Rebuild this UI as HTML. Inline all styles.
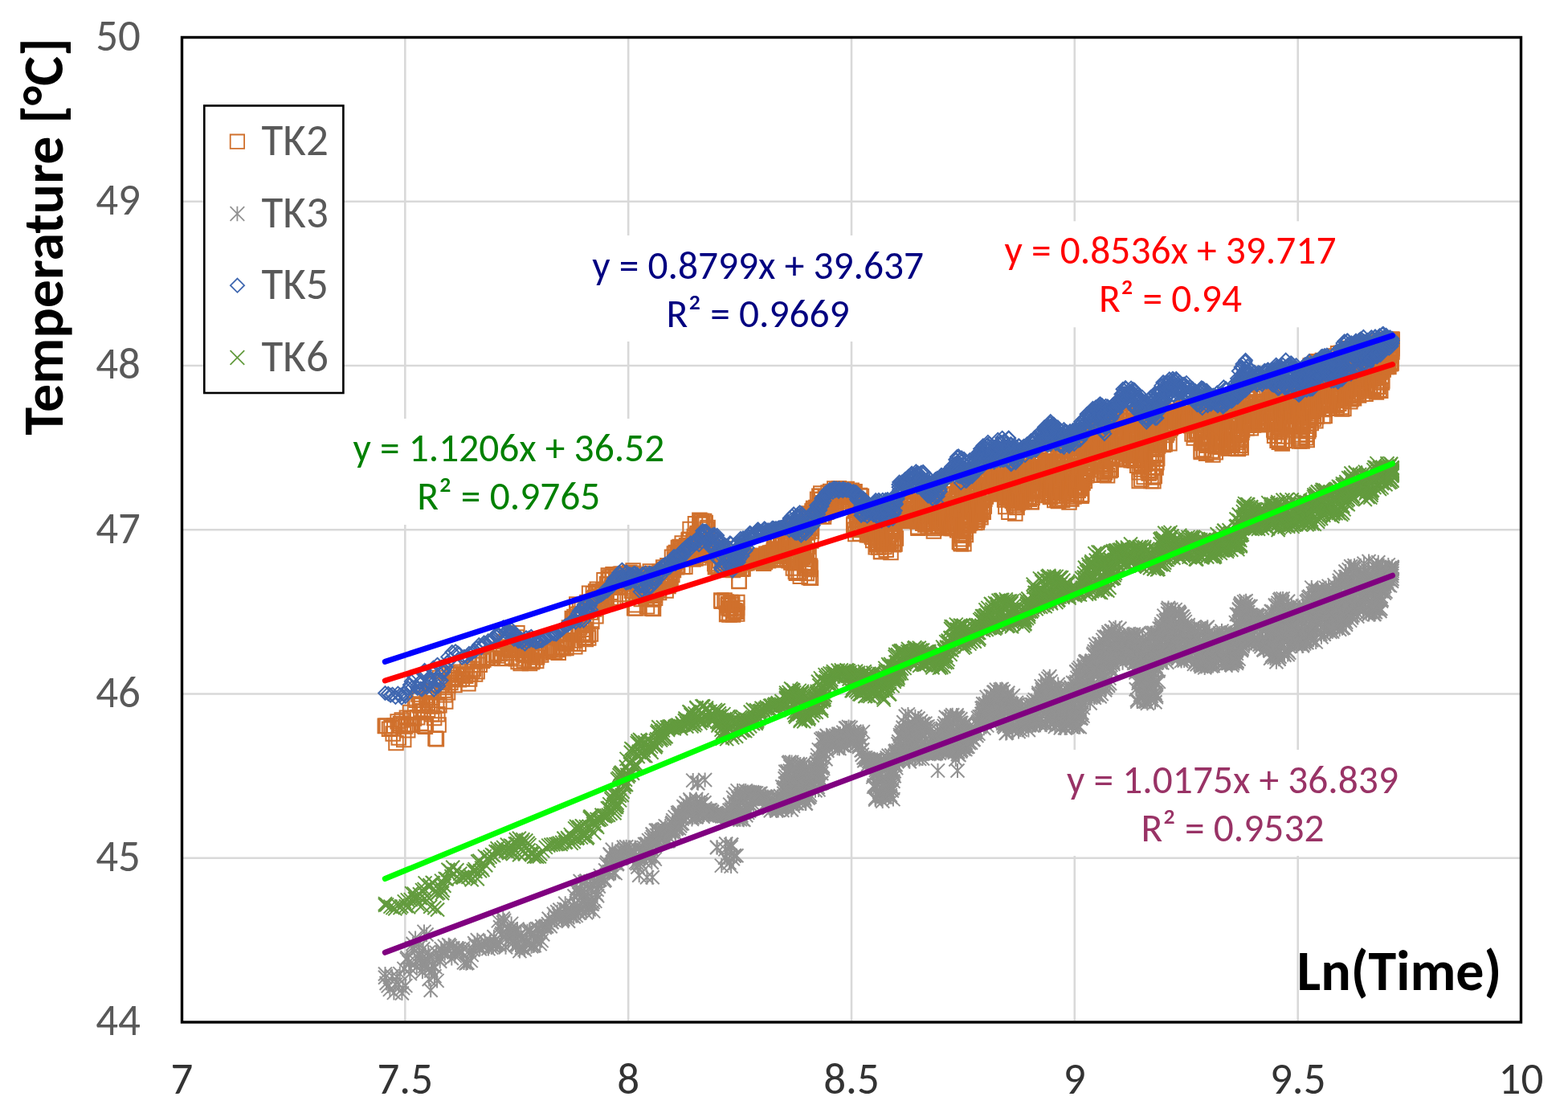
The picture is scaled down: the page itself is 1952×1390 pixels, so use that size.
<!DOCTYPE html><html><head><meta charset="utf-8"><title>Temperature vs Ln(Time)</title><style>html,body{margin:0;padding:0;background:#fff;}svg{display:block;}text{font-family:Carlito, 'Liberation Sans', sans-serif;}</style></head><body><svg width="1952" height="1390" viewBox="0 0 1952 1390"><rect width="1952" height="1390" fill="#fff"/><path d="M228 1067.8H1892M228 863.5H1892M228 659.2H1892M228 455H1892M228 250.8H1892M504.3 48V1270M782.2 48V1270M1060 48V1270M1337.8 48V1270M1615.7 48V1270" stroke="#d9d9d9" stroke-width="2.6" fill="none"/><defs><marker id="ms" markerUnits="userSpaceOnUse" markerWidth="24" markerHeight="24" refX="12" refY="12" orient="0" overflow="visible"><path d="M3.25 3.25h17.5v17.5h-17.5z" stroke="#D0702C" stroke-width="2" fill="none"/></marker><marker id="mt" markerUnits="userSpaceOnUse" markerWidth="24" markerHeight="24" refX="12" refY="12" orient="0" overflow="visible"><path d="M3.5 3.5l17 17M20.5 3.5l-17 17M12 3v18" stroke="#929292" stroke-width="2" fill="none"/></marker><marker id="md" markerUnits="userSpaceOnUse" markerWidth="24" markerHeight="24" refX="12" refY="12" orient="0" overflow="visible"><path d="M12 3.7l8.3 8.3l-8.3 8.3l-8.3-8.3z" stroke="#3F67B0" stroke-width="2" fill="none"/></marker><marker id="mx" markerUnits="userSpaceOnUse" markerWidth="24" markerHeight="24" refX="12" refY="12" orient="0" overflow="visible"><path d="M3.5 3.5l17 17M20.5 3.5l-17 17" stroke="#639B3E" stroke-width="2" fill="none"/></marker></defs><polyline fill="none" stroke="none" marker-start="url(#ms)" marker-mid="url(#ms)" marker-end="url(#ms)" points="917.7,764 898.2,748.2 915,760.1 911.5,752.3 910.1,757.8 909.6,749.5 906.3,753.8 912.6,764.9 917.5,756.6 906.6,751.5 897.8,747.1 907,752.5 905.2,763 908.4,756.9 902.1,747 904,749.1 908,765 911.6,749.9 916.3,761.3 912.9,763.3 913.5,761.1 904.6,764.6 917.8,749.6 913.3,759.8 907,756.4 920,723.4 920,723.1 871.4,652 873.6,648.4 872.3,652.3 872.9,648.6 870.9,647.3 479.5,903.4 479.5,903.3 481.4,903.3 484.5,907.2 487,905.8 489.2,912.9 490.8,903.3 493,924.6 495.1,898.1 496.3,918 498.4,900.8 500.2,895.9 502.2,901.6 502.7,920.5 504.6,904.1 506.4,893.2 507.7,908.7 508.9,901.6 510.5,886.5 511.7,893.7 513.6,902.2 515.5,893.9 516.5,876 518.3,871.3 519.7,892.8 520.9,864 522.5,868.4 522.5,877.9 524.1,899.9 524.6,877.5 526.5,884.6 528.3,903.3 529.4,904.2 530.4,900.8 531,869 532.2,874.7 532.6,883.2 534.4,861 535.1,878.5 536,860.8 537.5,868.2 538.1,879 537.5,888.8 538.6,852.4 539.5,859.3 540.6,893.4 542,918.9 543.4,919.7 543.7,878 544.8,888.8 546.1,902 546.2,861.7 546.9,877.8 547.5,843.6 548.9,847.1 550.2,852.5 550.6,848.7 551.7,849.4 553,859.1 553.8,864.7 554.7,872.9 557.5,861.8 557.9,853 560.1,838.3 560.9,849.5 562.7,838.6 565.3,843.2 566,852.5 568.1,839.5 570.5,839.9 571.5,845.7 573.6,836.3 575.3,844.7 576.5,838.6 578.9,838.8 579.7,841.3 581.6,832 582.9,850.7 584.6,845 585.7,839.1 587.9,835.2 589.3,832.6 590.6,823.1 591.6,839.1 594.1,835.8 595.2,820 597.2,827.3 600.2,822.4 601.9,820.9 605.3,818.6 607,818.8 610.5,819.3 613.4,819.1 614.8,815 618,812.9 619.9,815.9 622.4,813.5 623.3,805.1 624.9,819.4 626.6,806.9 627.6,798.6 629.4,819.2 631.1,796.2 631.8,798.8 633.2,812.5 633.9,807.9 635.6,809.2 637.4,817.7 637.6,809 639.2,798.5 640.4,806.6 641.2,804.1 642.5,819.7 643.1,792.9 643.9,787.8 645.1,823.5 645.7,807.7 647,803 648.2,825.5 649.2,805.7 650.5,800.3 651.2,814.1 652.3,822 652.7,813.2 653.9,815.2 655.5,814.3 656.5,809.3 658.2,823.4 659.2,821.4 659.5,825.4 661.2,815.9 662.4,823.8 663.6,822.4 665.3,808.4 666.2,817.8 667.7,822.6 668.6,817.8 670.9,810.7 672.1,812.7 673.7,815 675.6,807 678,810.3 680.2,809.9 683,809.4 684.8,807.5 687,806.1 688.6,810.8 690.7,811.1 693.3,808.4 695.2,812.2 697.4,804.9 698.7,806.1 700,805.3 701.5,806.7 703.5,800.4 704,798.5 704.9,806.5 705.8,800.7 707,796.5 708.4,781 709.3,785.5 710.1,801 711.2,784.3 712.3,769.5 712.1,782.2 713,801 714.3,789.5 713.8,770.3 715,767.6 715.8,804.7 715.6,797.1 716.9,770.1 717.8,752.1 718,757.3 718.9,764.4 720.4,801.2 719.9,784.6 721.4,764 721.6,758.3 721.7,780.8 722.9,764.1 724.3,757.5 724.3,778.1 724.9,787.8 725.8,790.6 726.4,771 727.2,794.1 728.2,783.2 728.4,793.3 729.3,795.5 729.8,775.4 730.2,761 730.9,749.4 732.5,759 732,790.3 732.7,794.1 733.6,738.2 733.9,758 735.4,789.1 735.3,762 736,749.2 737.3,758 736.8,773.5 737.7,752.7 738.4,738.7 738.6,744.8 739.8,758.1 739.8,753 740.7,743.8 741.1,749.4 741.9,766.8 741.6,735.9 743.4,745.4 743.3,733.2 744,754 744.8,747.4 745.1,736.9 746.5,736.2 747,742.2 747.8,748.2 749.1,740.3 750,751.9 751.5,747.1 751,733.9 752,721.7 752.6,751.4 753.6,749.2 755.2,748.1 755.6,726.8 757.3,716 757.6,727.4 757.7,720.3 759.2,717.9 760.5,737.2 760.5,745.8 761.7,730.5 762.1,718.1 763,714.8 763.7,745.9 765.3,731 766.2,743.9 766.6,729.2 766.6,715 767.6,718 768.6,717.5 769.9,730.2 770.4,739.4 771.2,725.2 772.4,714.2 772.6,730.9 774.1,714.3 774.9,715.7 775.9,717.6 776.9,723.1 778.3,718.9 779,714 780.3,726.4 780.7,721.3 782.2,720.5 782.5,718.6 783.7,712.3 785.1,724.1 786.1,730.4 786.2,722.5 786.5,735.3 788.3,741.9 788.1,710 788.7,713.3 789.1,733.1 789.7,756.8 791.5,756.9 791,724 791.7,752.7 792.2,723.2 793.4,738.9 792.9,730.7 794.2,732.9 795.2,715 795.2,723.1 796.4,720 795.8,737.3 796.9,736.7 798.4,719.5 798.3,745.6 799.3,732.6 799,727.2 800,722.4 800.7,734.2 800.7,733.8 802.1,725.5 801.7,741 803.4,720.9 804.1,743.8 804.4,745 804.8,720.3 805.3,725.1 805.5,754.8 805.7,725.9 806.8,723 808.2,727.5 807.9,731.5 809.3,710.9 809.1,716.7 809.7,741.2 810.9,713.5 811.1,756.9 812.1,735.5 812.3,757 812.7,725.5 813.5,757.5 813.7,746.1 815.4,740.4 815.2,737 815.7,721.1 815.6,744.2 816.6,736.2 817.9,723.1 818.5,721.8 819,721.3 818.7,716.7 820,733.9 820.6,737.4 821.2,711.5 822.2,721.4 823,711.9 824,723.5 824.3,725.3 825.2,729.5 825.7,705.9 827,708.2 826.6,714.7 828,723.9 829.1,734.9 828.6,721.2 829.6,723.8 830.9,703.8 830.8,721.7 832,729.5 832.9,707.7 833.4,716.4 833.6,720.4 833.9,725.6 835.1,719.2 836.4,707.9 836.5,693.2 836.8,715.5 837.5,708.3 838.5,709.5 839.4,688.9 840,702 839.9,696.6 841.3,687.5 841.5,699 842.5,705.7 843.2,689.8 844.4,681.5 843.7,703.8 845.4,691.7 846.4,681.9 846.1,680.6 846.7,683.5 847.5,689.4 848,685.2 849.2,676.1 850,691.7 849.9,705.6 850.6,687.1 852,684 852.5,691.6 853,685.2 852.9,705.2 854.3,691.9 853.7,689.9 854.6,678.8 855.5,691.4 856.5,688.8 857.1,671.9 856.9,680.5 857.9,671.3 857.7,691.2 859.5,693.1 859.1,658.5 859.8,692.9 860.5,679.3 861.1,684.2 860.7,685.5 861.9,691.2 862,681.5 863.1,673.8 863,696.1 864.3,667.5 864,692.7 865.2,679.5 865.5,651.7 866.1,677.7 866,695 867.5,665.7 867.1,684.6 868.2,664.2 868.3,663.5 868.6,678.8 869.1,666.3 870,694.1 870.3,666.1 871.4,673.7 870.9,677.3 872.3,688.7 872.2,678 872.9,648.9 873,652.3 874.4,663.6 874.1,680.3 874.7,684.4 874.8,651 876.1,665.1 877.4,667 876.6,648.6 877.5,669.4 878.2,650.5 878.8,669 879.4,689.7 880.4,675.9 880.1,658.6 881.1,656.6 881.8,685.8 882.1,682.6 883,676.5 883,682.4 883.7,690.4 884.5,683.5 884.7,690.9 885.2,684.1 886.1,684.6 887.4,689.6 888,684.6 887.9,690.4 888.9,685.8 889.7,701.6 890.4,705.8 891.1,704.2 891.6,687.4 893.2,681.3 892.6,703.8 893.7,686.5 894.9,705.5 894.5,706.7 895.8,697.7 897,684.5 897.5,686 898.3,706.7 899,709.1 899.6,685 900,682.8 901.3,696.8 902.3,690.9 901.5,707.3 902.7,695.3 903.6,700.2 904,690.8 904.5,695.2 906.3,692.2 906.7,702.6 907.1,706.4 908.1,707.5 908.7,708.9 909.5,696.3 910.6,706.7 912,709 912.5,709.5 913.1,700 914.5,706 914.7,703.2 915.5,694.7 917.1,705.7 918.4,706.1 918.6,705.8 920.5,704.6 920,697.9 920.6,703.5 922.5,694 923.3,708.3 923.9,707.3 924.7,696.5 925.1,707.9 926,691.9 927.4,700.9 928.3,694.3 928.8,691.7 929.7,697.2 929.9,700.7 931.3,695.2 932.4,699.5 932.8,692.6 934.5,698.3 934.5,698.4 935.9,695.2 937.3,692.9 937.8,696.7 939.4,691.2 940.3,698.9 940.7,698.2 942.1,698.7 943,693.9 944,693 945,695.1 945.6,693 946.8,694.9 948.1,699.1 948.8,696.7 949.8,692.8 950.6,701.2 952.4,699.6 951.7,691.9 952.6,693.5 953.9,689.2 954.9,697 956.3,689.6 956.5,697.8 957.9,689.8 957.7,689.1 958.8,688.1 959.7,691.8 961.3,687.4 960.9,690.6 962.3,695.5 963.5,683 963.3,685.5 964.1,689.7 965.1,684.5 964.6,677.5 966.4,696.9 967,677.4 967.3,687.3 968,690.2 968.7,678.8 969.3,692.2 970.5,683.7 970.5,696 971,695.8 971.7,671.9 972.3,673.9 973,690.7 973.2,675.3 974.3,669 974.1,695.4 975,676.3 976.5,689.5 976.3,695.1 977.4,684 977.3,681.6 977.8,673.2 977.8,664.4 979.1,676.9 979.4,664.2 980.3,668.9 979.8,672.5 981.5,686.8 981,668.3 980.5,675.7 982.5,679.2 982.2,697.8 982.5,674.2 982.9,669.9 982.9,690.4 983.6,692.1 983.8,690.3 984.7,697.9 984.9,700.1 985.5,687.5 985.5,677.1 986.5,692.1 987.3,683.4 987.4,707.1 987.1,689.6 987.6,657.1 987.7,698 988.3,700.8 989.4,657.9 988.5,671.3 988.5,691.1 990.4,711.4 989.6,696.8 990.2,696.4 990.9,670.2 991.4,713.3 991.2,690.1 991.5,672.1 991.7,669.8 991.7,698 993.2,664.4 993.4,652.6 993.5,691.8 994.1,670.6 994.2,711.5 993.7,660.4 995.3,667.5 994.6,684.4 994.7,665 994.8,656 996.3,689 996.2,669.6 996.3,717.2 997.5,650.7 996.8,654.1 997,695.2 998.1,672.5 998.5,692.3 998.5,677.7 999.1,652.6 999,693.5 998.7,691.8 998.6,679.7 1000.1,680.4 999.7,658.4 999.9,693.5 1000.9,658.2 1000.8,666.5 1000.6,688.2 1001,667.8 1001.5,713.2 1001.5,650.5 1001.8,703.4 1003.4,700.8 1002.7,707.1 1002.5,649.2 1002.6,685.1 1004.1,689.7 1004.4,699.9 1004.2,653 1004.4,713.4 1005.3,644.4 1005.2,680.5 1005,659.8 1006.3,703.8 1006.3,661.7 1006.2,643.8 1006.2,639.1 1006.5,644.1 1007.2,718.6 1007,689.9 1007.1,706.5 1008.5,704.3 1007.8,640.3 1008.4,658 1008.3,708.4 1008.7,649.8 1008.9,706.4 1009.4,719.3 1009.8,673.1 1010.4,656.7 1010.1,646.6 1010.4,661.1 1011,639.2 1010.8,641.3 1011,636.1 1011.2,639.3 1012.2,641.9 1012.3,635.1 1012.1,641.8 1011.6,638.8 1013,634.3 1012.6,632.5 1013.2,641.9 1013.5,639.9 1014.4,640.8 1014.7,638.1 1015.4,639.2 1015.8,637.3 1015.9,631.5 1017.2,634.7 1016.6,633.7 1017.6,621.3 1019.3,641.4 1018.8,637.1 1019.7,629.3 1019.8,617.2 1020.9,630.8 1021.4,617.4 1021.8,614.1 1022.7,621.8 1023.3,642.4 1023.7,628.3 1024,628.6 1025.5,642.9 1024.5,625.8 1026,633.4 1026,638.8 1026.6,627.2 1027.3,617.8 1027.7,632.1 1027.6,629.8 1028.6,617.7 1028.8,637.2 1030.1,630.6 1030.1,623.9 1031.5,629.2 1031.1,613 1031.7,628.1 1032.5,631.6 1032.6,633.6 1032.7,627.4 1033.7,611.6 1035.3,622.6 1035.1,628.5 1036.1,619.9 1035.8,622.9 1036.7,615.3 1037.3,617.3 1038.2,624.8 1038,627.4 1038.8,607.9 1040.3,624.4 1040.2,628.3 1040.9,616.5 1041.1,626.5 1041.8,623.4 1042.5,612.2 1042.5,609.7 1044.1,610.4 1044.4,607.7 1045.4,613.2 1046.4,612.8 1045.6,619.5 1046.8,624.1 1048.3,611.1 1048,616.4 1049.3,611.1 1050.1,615.3 1050.1,615.9 1050.9,612.9 1051.9,621.7 1053,608.8 1052.9,617.8 1054.2,608.5 1054.9,613.1 1056.3,611.4 1057.4,617.8 1056.5,614.7 1058,616.1 1059.4,611.9 1060.3,610.2 1060.3,612.6 1059.5,617.9 1061.5,616.4 1061.3,614 1060.7,616.5 1062.3,616.3 1061.9,616.3 1061.8,629.4 1062.5,611.7 1062.7,653.5 1063.1,652 1064.2,659.2 1064.1,611.8 1064.6,633.2 1064.6,627.6 1064.8,664.5 1066.5,647.6 1065.9,633.4 1065.6,635.5 1066.6,640 1067.3,632.8 1067.2,655.4 1068.4,634.3 1067.7,659.6 1069,626 1069.2,658.2 1069.5,631.7 1069.8,624.9 1069.8,623.1 1070.4,645.8 1070.6,616.5 1070.7,664.1 1070.8,655.3 1071.7,623.7 1072.4,617.4 1073,643.1 1072.8,654.1 1073.4,628.6 1073.8,643.1 1074,649.6 1074.3,636.5 1075.4,644 1074.5,642.6 1075,632.8 1076.4,651.3 1076,639.8 1076.6,642.4 1077.1,655.8 1077.2,634.4 1078.3,657.5 1078.2,652.5 1079.4,665.7 1079.1,651.9 1080,662.2 1080.2,661.6 1080.8,658.6 1080.7,658.1 1081.5,657.9 1082.2,665.7 1083,665.2 1082.7,647.7 1084.1,654.5 1083.9,659.8 1085.3,667.8 1084.8,661.2 1086.1,668.3 1086.1,661.6 1086.3,648.1 1087.3,653.7 1086.7,672.5 1088,661.4 1087.6,649.5 1088.8,651.4 1089.2,655.6 1088.9,664.6 1090.2,680.7 1090.1,656 1090.6,669.9 1090.9,676.8 1091.7,675.2 1091.9,657.9 1091.7,677.9 1093,668.8 1093.3,646.8 1094,659.3 1093.7,680.9 1094.7,662.5 1094.9,650.7 1094.8,644.9 1096,671.9 1096.5,686.5 1096.8,686.6 1096.6,650.4 1097,674.1 1098.1,645 1097.9,665.5 1098.9,677.4 1099.2,646.8 1099,674.5 1100.3,672.8 1100.5,676.3 1100.9,680.6 1101.1,669.6 1101.1,676.8 1102.2,662.9 1102.3,661.2 1103.2,684.2 1103,648.1 1103.4,651.1 1103.7,642.8 1103.9,659.7 1104.3,648.8 1104.9,677.2 1104.5,660 1105.6,677.1 1105.8,646.6 1105.6,649.8 1107.2,644.9 1106.5,651 1106.5,675.1 1108.3,665.1 1107.8,640.7 1109.2,650.4 1109,687.6 1108.7,672.7 1109.9,664.8 1109.9,673.2 1110,639.5 1111.3,649.6 1110.9,661.8 1112.1,675.8 1111.6,656.6 1112.1,661.1 1112.7,677.7 1113.5,669.9 1113,644.5 1114,677 1113.8,658.9 1113.9,652.2 1115.1,647.8 1115.4,670.1 1115.8,636 1115.5,645.6 1115.9,636.7 1116.5,645.1 1116.7,647 1116.9,643.1 1117.8,643.3 1117.6,637.9 1118.6,634.7 1119.1,647.9 1119.5,646.3 1120.8,635.1 1120.5,638.1 1121.6,639.8 1123,633.7 1123.4,641 1124.3,634.4 1125.2,642.6 1125.3,632.6 1126.4,637.5 1125.6,647.1 1126.8,646.6 1127.7,627.9 1128,638.7 1129.2,640.6 1128.9,643.4 1130,628.1 1130.1,633.2 1131,627.7 1131.8,629.8 1132.2,623.3 1132.9,633 1133.4,625.2 1134,644.4 1133.9,648.6 1134.8,634.8 1134.8,628.4 1135.6,643.3 1136.2,645.1 1137,624 1137.2,648.3 1138.1,626 1138,645.7 1138.3,638.1 1139.2,617.4 1138.6,616.7 1140,632.7 1139.5,644.4 1140,641.3 1141.5,643.9 1141.2,639 1142,648.9 1142.3,627.1 1142.3,620.1 1143,657.2 1142.7,655.8 1143,648 1143.7,615.4 1143.8,641.6 1145.4,640.1 1145,631.2 1145,647.3 1146.4,629.6 1146.2,629.6 1146.8,615.6 1146.9,642.2 1147,634.5 1148.3,634.8 1148.2,639.7 1149.4,629 1148.9,649.9 1148.8,651.2 1149.8,620.3 1150,639.9 1149.8,626.1 1151.5,637.2 1151.2,633.1 1152.1,626.7 1151.7,653 1152.2,627.6 1152.9,639.9 1152.6,642.5 1154.5,645.9 1154,618.8 1154,640.9 1155.2,655.4 1154.8,618 1155.5,638.7 1156.4,642 1156.4,641.9 1157.2,643.5 1157.5,649.1 1157.5,633 1157.7,622.6 1158,639.7 1159.2,635.3 1159.5,632.4 1158.5,638.3 1160.2,624.6 1160.2,622.4 1160.4,634.4 1161.5,642.5 1161.2,622.8 1162.4,661 1161.6,641.1 1161.7,655.7 1163.4,657.6 1163.3,631.9 1163.1,615.8 1163.6,640.3 1164.2,627.4 1164.5,615.2 1164.8,631.3 1165.4,647 1166.4,649.9 1166.2,650.3 1165.7,650.1 1167.1,644.3 1167,634.9 1168.3,651.5 1167.7,654.4 1168,616.5 1169.3,655 1168.9,633.8 1169.8,622.9 1170,634.1 1170.2,644.4 1170.7,649.3 1171,632.7 1170.7,642 1172.2,649.6 1172.3,630 1173,641.8 1172.9,614.8 1173.2,654.6 1174,655.2 1173.6,640.3 1174.9,642.5 1174.9,646 1174.7,627.2 1175.9,632.9 1175.9,655.8 1177,639.2 1176.6,637.9 1177.3,645.3 1178.5,640.7 1177.9,652.6 1179.5,657 1178.6,644.2 1178.7,626.3 1180.3,652.8 1180.1,628.7 1181,628.2 1180.8,623.7 1181.4,655.3 1181.7,651.5 1182.2,646 1182.8,637.1 1183.3,644.7 1183.4,615.5 1183.8,629.2 1183.9,657.6 1185.5,650.4 1185.2,647.7 1185.3,621.3 1186.1,657.5 1185.7,631.7 1185.9,651.3 1187,616.3 1186.9,641.4 1187,610.8 1188.3,623.2 1187.5,641.6 1188.2,640.7 1187.6,608.9 1189.2,636.1 1188.5,639.1 1188.6,634 1190.2,618.9 1189.9,650.3 1189.8,644 1189.6,649.3 1190.7,632.4 1191.5,656 1190.7,657.4 1190.9,636.7 1191.8,614 1192.5,629.7 1191.7,659.8 1192.6,631.8 1192.6,602.4 1193.5,637.6 1193.2,611.2 1193.9,604.2 1194.3,600.2 1194.4,674.3 1193.7,621.9 1194.7,601.4 1195,640.4 1195.4,637 1194.7,632.8 1195.7,601.9 1195.9,664.2 1195.6,675.2 1196.3,676.8 1197.1,623.2 1197.3,610.8 1197,664.1 1198,658.9 1197.7,666.4 1197.7,625.1 1198.1,670.8 1198.6,620.8 1199.3,618.3 1198.9,613 1199.5,660.6 1199.9,676.8 1200.4,623.9 1199.6,655 1200.1,619.5 1200.5,621.1 1201.4,652.2 1201.2,653.4 1201.8,658.5 1202,661.8 1202.1,645 1202.4,665.5 1203.2,653 1202.9,616.6 1202.8,619.8 1203.4,617.3 1203.7,603.5 1204.2,652.3 1203.9,607.1 1204.3,647.5 1204.9,625.6 1204.9,629.2 1205.2,651.9 1205.8,654.1 1206.1,624.6 1206.3,611.8 1207,651.1 1207.3,648.1 1207,635.5 1207.3,612.1 1208.5,644.3 1208,632.2 1208.4,597.1 1208.8,648.7 1208.5,637.7 1208.8,609.8 1209.5,612 1209.9,634.8 1210.3,631.4 1210.7,626.6 1211.4,608.5 1211.2,607.6 1211.8,627.5 1212.3,627.2 1211.7,629.5 1212.6,639.3 1213.1,614.1 1213.1,615.6 1213,630.1 1214.3,604.8 1214.5,646.6 1213.7,650.6 1214.8,646.4 1214.7,647.4 1215.4,628 1216.2,640.4 1216.1,613.3 1216.3,650 1217,647.1 1216.9,620.4 1217.2,611.9 1217.3,643 1217.7,617 1218.4,624.6 1217.5,643.7 1218.7,621.2 1219.4,640.8 1219.2,591.5 1219.7,597.2 1220.5,603.5 1219.7,635.2 1220.3,635.4 1221,643.8 1221.1,591.8 1221.3,589.9 1222.5,623.1 1222.1,603 1222.4,610.3 1222.1,592.5 1223.2,636 1223.1,634.1 1223.1,619.9 1224.3,598.1 1223.9,631.5 1224.2,637.3 1225.2,622.3 1225.1,599.4 1225.3,629.9 1225.7,604.6 1225.9,621.1 1225.6,593.1 1227.4,618 1226.9,593.8 1226.5,593.2 1228.4,589.7 1228.4,592.9 1228.3,594.6 1229.2,608.6 1229,593.4 1230,593.2 1230.5,599.5 1230.1,595.4 1230.9,612.3 1231.4,610.2 1232.4,615 1231.5,593.9 1232.6,610.3 1232.6,608.9 1233.7,590.5 1233.8,611.9 1234.7,589.7 1235.3,591.9 1236.1,598.6 1236.2,599.2 1236.7,587.3 1237.3,590.4 1237.8,601.6 1238.4,594.6 1238.8,593.7 1239,612.5 1240.1,600.4 1239.8,593.4 1241,608.8 1241.4,609.1 1241.7,613 1241.8,592.6 1243,584.7 1243,613.4 1243.6,614.1 1243.9,589.6 1245,584 1244.8,607 1244.8,606.2 1245.8,606.6 1246.2,600.5 1247,588 1246.6,598.1 1247.8,609.7 1247.6,582.8 1247.8,599.2 1249.2,605.1 1248.8,582.6 1249.2,584.1 1250.3,607.6 1250.4,599.1 1250,608.3 1250.6,622 1251.1,613.8 1250.6,592.9 1251.7,596.5 1251.9,630.5 1252,609.9 1252.9,603.1 1252.6,619.5 1253,590.4 1253.3,579 1254.4,610.9 1254.3,608.4 1253.6,607.2 1254.7,611.3 1254.5,619.9 1255.3,612 1255.8,619 1255.9,637.2 1256.4,604 1257.3,592 1257.4,618.5 1256.5,616.9 1257.9,617.1 1257.6,598.1 1258.4,612.3 1259,618.7 1258.6,584.8 1258.9,598.6 1259,610.8 1259.6,594.1 1260.3,623.3 1260.1,579.1 1261.2,581.6 1260.7,591.8 1261.5,597.9 1261.8,581.7 1261.9,625.7 1261.8,602.3 1262.6,585.3 1262.6,628.5 1263.3,605.2 1263.1,600.2 1264.2,589.4 1263.8,621.5 1263.8,638.9 1265,574.6 1265,630.7 1264.7,603.1 1266.1,631.5 1265.5,621 1265.6,620.3 1267.4,610.9 1266.5,590.1 1267,626.1 1266.9,588.4 1268.2,611.3 1268.5,605.4 1268.3,618.8 1268.7,575.5 1269.3,605.6 1269.4,616.8 1269.6,587.3 1270.4,601.9 1270.3,620 1270.5,586 1270.6,584.8 1270.9,620.5 1271.7,598.3 1271.9,622.4 1272.2,594.3 1272.6,586.6 1272.6,624.4 1272.8,582 1273.5,580.8 1274.1,598.8 1275.1,610.3 1274.7,603.9 1275.1,623.7 1275.9,584 1275.7,609.7 1276.3,588.2 1277.3,621.3 1276.9,577.5 1277.4,585.8 1278.5,593.2 1278,596.1 1278.6,591.1 1278.6,597.9 1278.6,604.3 1280,620.7 1280.3,604.7 1280.3,593.3 1281.3,604.9 1281.3,618.2 1281.2,619.7 1281.5,621.3 1282,598.8 1282.7,589 1283.1,591.2 1282.5,590.2 1283.7,624.5 1283.6,610.1 1284.3,624.8 1285.2,610.5 1285.1,619.3 1285.3,598.8 1286.5,600.5 1285.9,586.5 1286.1,599.5 1286.8,593.9 1286.9,612.3 1287.6,575.3 1288,597.2 1287.5,592.6 1288.6,580.8 1289.3,572.7 1288.7,594.5 1290.3,608.2 1290,595.5 1291.3,596.8 1291.3,592.2 1290.6,614.6 1291.7,598.1 1292.2,594.5 1291.9,574.1 1292.9,574.5 1293,591.9 1293.6,587.8 1293.9,583.6 1294.5,584.8 1294.6,572.3 1294.6,591.2 1295.5,592 1296.4,582.8 1296.2,596.1 1296.7,591.2 1296.5,591.3 1296.6,576 1298,588.2 1297.7,577.7 1298.8,616.4 1299.5,585 1298.5,593.4 1300.4,581.7 1300.5,590.3 1300.8,573.7 1300.8,595.7 1300.8,588.5 1302.2,594 1301.6,574.3 1302.4,578.3 1302.9,603.2 1303.5,595 1303.2,599.7 1304.3,592.7 1303.7,596 1304.1,577.2 1305.1,593.8 1304.9,595.3 1304.9,588.9 1306.5,587.9 1306,570 1305.8,615.5 1307,608.2 1307.4,608.7 1307.4,618.5 1307.7,604.9 1307.5,605.4 1308.4,610.5 1309.4,601.5 1309.3,581.9 1308.8,573.5 1309.6,613.2 1309.6,613 1309.8,617.2 1311.5,569.9 1311.1,606.5 1311,568.9 1312,608.7 1312,576.4 1312,568.5 1312.7,586.6 1313,588.7 1312.8,622.4 1313.6,575.8 1314.2,585.3 1314.4,617 1315,604.1 1314.9,611 1315.5,603.6 1315.9,621.2 1315.5,611.3 1316.5,579.1 1317.1,571.4 1316.9,622.8 1316.6,576.3 1317.7,573.9 1317.7,623.6 1318.1,596 1318.3,605.1 1319.5,585 1319,620.4 1318.8,621.3 1319.9,591.9 1319.9,570.9 1319.9,607.8 1321.3,598.5 1320.6,600 1321.2,602.2 1321.8,566.4 1322,578.6 1322.3,617.2 1321.6,611.1 1323,589.6 1323,617.5 1322.6,622.5 1324.4,589.6 1324.5,613.4 1324.2,596.1 1325.2,598.7 1325.3,576.5 1324.9,578.5 1325.5,607 1326.1,576.4 1326.3,608.4 1326.3,599.1 1326.8,603.7 1326.8,595.5 1327.3,593.9 1328.4,614.6 1328,585.8 1327.8,590.7 1328.6,614.9 1328.7,564.4 1328.6,582.6 1328.8,600.7 1329.8,573.5 1330,593.1 1330,584.6 1331,625.1 1330.9,606.1 1330.9,606.7 1330.9,612.8 1332.5,606.4 1332.2,561.4 1332.2,605.3 1332.7,610.5 1333.3,620.6 1332.9,569.9 1332.7,558.4 1334,620.9 1333.9,591.2 1333.6,607.2 1334.9,574.2 1335.3,599.5 1335.1,600.7 1335.6,600.2 1336.1,594.8 1335.8,584.1 1335.6,584.5 1337,591 1337,593.9 1337,618 1337.7,596 1338.2,604.7 1337.7,571.4 1338.2,594.7 1338.8,606.6 1338.9,571.3 1339,568.3 1340.2,616.1 1340.2,590.3 1339.6,614.7 1340.4,607 1341.2,555.1 1340.8,583 1341.1,564.2 1342.4,582.9 1342.2,610.2 1341.8,562.1 1342.1,557 1342.5,549.9 1343.3,607 1342.9,580.6 1344.1,568.4 1343.8,574.1 1343.8,596.5 1344.1,554.3 1344.6,599.6 1345,607.9 1345.2,587.9 1344.8,589.7 1346,599.5 1345.8,617.3 1346.4,616.9 1346.9,557.4 1346.9,600.6 1347.2,543.7 1346.7,615.3 1348,546.8 1348.1,601.1 1348.4,550.4 1348.2,549.9 1349.1,582.6 1348.5,553.9 1348.9,595.4 1349.5,561.9 1349.8,593.7 1350,586.3 1350.4,598.6 1349.9,567.9 1351.2,586.2 1351.2,577 1351.2,556.8 1351.3,570.3 1351.9,540.8 1352.3,582.9 1352.1,563.6 1351.6,580.3 1353,547 1353.3,537.6 1353.4,589.6 1352.6,591.8 1354.4,547.5 1353.9,564.5 1353.6,564.5 1353.5,557.5 1354.5,550.5 1355.2,553.7 1354.9,543.3 1354.6,544.1 1355.7,541.3 1355.6,539.7 1355.9,536.1 1356.2,543.6 1357.3,553.6 1357.2,560.6 1357.9,558 1357.5,565 1359.2,568 1358.8,535.6 1359.2,536.4 1360.4,542.1 1360.4,531 1360.8,562.8 1360.6,559.3 1360.9,552.2 1361.7,538 1362.4,559.1 1362.6,530.7 1362.6,535.8 1362.8,550.3 1363.8,568.7 1363.6,549 1365.1,561.9 1365,554.7 1364.7,539.4 1366.4,527.5 1366,567.6 1367.4,534.8 1367.5,547.2 1366.6,562.8 1368,570.5 1367.6,564.1 1367.8,527.7 1368.7,561 1369.4,558.9 1369.2,545.1 1368.8,542.9 1369.6,532.7 1369.7,576.8 1370.4,540.7 1371.5,533.7 1371.2,531.4 1371.1,591.2 1371.2,570.5 1372.2,580.7 1372,584.8 1372.2,572.5 1372.7,577.7 1373.5,527.3 1372.9,570.9 1373.3,579.1 1373.8,555.4 1374.2,590.3 1373.6,523.8 1375.4,524.9 1374.6,547.9 1374.5,586.6 1374.5,527.6 1376,549.7 1376.3,582.7 1375.5,588.1 1376.6,547.8 1376.7,533.8 1376.6,578.3 1376.8,546 1378.4,549.1 1377.6,531.2 1377.9,525.7 1379.2,547.3 1379.2,552.4 1378.6,591.7 1379.2,562.7 1379.6,567 1380,571.5 1379.6,568.4 1381.4,578.3 1381.2,534.4 1381.1,569.5 1380.7,585.4 1381.8,524.7 1382,585.5 1382.2,538.8 1382.9,584.4 1383.4,552.3 1383,539.7 1383.2,584.3 1383.8,570.7 1384,562.5 1384.2,559 1384.7,569.5 1384.5,530 1384.6,554.2 1385,570.1 1385.7,523.3 1385.5,534.9 1386.3,537.6 1386,534.1 1386.8,557 1386.5,547.8 1387.4,535 1388,552.4 1387.8,528.3 1388.3,518.2 1388.7,543.3 1388.6,520 1389.4,560.8 1390,568.8 1390.3,556.8 1389.9,556.6 1390.8,535.1 1390.7,515.8 1392.3,558.9 1392.3,538.8 1392.2,549 1392.8,540.6 1392.6,561.5 1393.2,517.8 1394.2,555.1 1393.6,570.7 1394.5,542.8 1394.9,515.3 1395.3,556.3 1394.7,518.9 1395.9,560.2 1395.8,548.8 1396.2,525.3 1397.1,523.1 1397.3,542.1 1397.4,539.6 1397.9,540 1397.9,559.6 1397.8,515.5 1399.1,523.2 1398.7,534.2 1399,527.9 1400.4,532.1 1400.4,530.5 1399.5,563 1400.9,516.1 1401.1,559.9 1400.9,554.1 1402.5,530 1402.1,571.9 1401.8,562.9 1402.6,553.6 1403,557.9 1403,555.5 1403.6,564.9 1404,554.4 1404.3,543.4 1405.4,556.3 1404.8,518.8 1405.2,567.1 1405.8,532.5 1406.2,570.2 1406.1,517.9 1406,542.2 1406.7,551.7 1407.1,538.3 1407.1,520.2 1408.4,534.1 1407.8,566.4 1408.1,572.7 1409.3,558 1409.5,555 1408.6,546.6 1410,545.1 1410.5,572.5 1410.2,563 1410.5,539.9 1411,527 1411.4,514.1 1412.3,573.3 1411.8,513.9 1411.9,518.6 1413.5,544.4 1412.7,556.3 1413,546.4 1412.7,571.9 1414.4,567.1 1414.3,570.3 1413.7,560.1 1413.9,524.7 1415.2,543.6 1414.8,544.4 1414.9,548.1 1415.3,559.6 1415.8,537.2 1415.7,579.2 1416.5,528 1415.9,548.4 1416.6,562.5 1417.2,528.5 1416.8,565.2 1417.4,521.6 1418.2,587.7 1418.2,598.5 1417.8,528.4 1418.5,551.8 1419.2,558.2 1419.1,513.7 1418.6,519.3 1419.4,518.2 1419.9,523.2 1420.1,570.1 1420.3,576.5 1420.3,528.4 1420.9,596.5 1420.9,583.9 1421,539.1 1421.4,516.7 1422.1,578.3 1422.3,516.7 1422.1,538.9 1422.2,515.7 1422,554.4 1422.8,536.1 1423.2,561.7 1422.9,551.3 1423.1,564 1424.2,593.5 1424.5,523.4 1424,561.6 1423.6,534.6 1424.7,546.2 1424.8,518.3 1425.2,577.5 1424.7,525.4 1425.8,575.4 1425.6,573.3 1426.4,534.2 1425.7,563 1427.3,528.4 1426.6,548.4 1426.9,522.2 1427.3,516.7 1428.2,534.5 1427.6,544.7 1427.9,542.3 1428.1,552.3 1428.8,528.4 1429.1,585.8 1429.3,532.8 1429.2,541.5 1429.1,516.7 1430.3,547.9 1430.2,589.1 1429.6,585.1 1430.5,531 1431.2,587.5 1430.5,569.3 1430.8,553.2 1430.7,546.2 1432.4,535.1 1431.9,522.7 1431.9,528.7 1431.9,547.4 1433,565.7 1433.1,512.2 1433,598.6 1433.4,567.9 1434.2,539.8 1433.5,531.6 1434.4,545.5 1434,537 1434.5,559.3 1434.6,582.1 1435.1,520.9 1434.7,515.1 1434.7,536.4 1435.9,545.9 1435.6,594 1435.9,598.7 1435.7,570.2 1437.4,545.6 1437.2,533.9 1437.2,525.7 1437.3,592.6 1437.8,533.3 1438.2,539.5 1438.1,545.9 1438.4,565.6 1439.4,556.9 1439.1,581.9 1439.4,576.8 1438.9,566.7 1440.2,528.2 1439.6,565 1439.8,575.3 1439.5,571.3 1440.5,511.4 1440.7,533.5 1440.6,550.6 1441.4,551.7 1440.7,570.6 1442.5,528.8 1442.5,538.2 1441.5,511.5 1441.7,555.1 1442.7,551.2 1443.2,553.1 1443.1,521.2 1443.3,511.4 1443.8,526 1444.3,529.4 1443.6,515.9 1444.7,528.3 1445,509.9 1445.5,537.7 1445.8,538.1 1446.5,516.5 1445.6,521.6 1447.1,552.1 1447,514.2 1448.2,553.6 1448.2,518.2 1448.1,538 1449.1,523.9 1449.1,529.4 1450.2,515.5 1450.2,552.8 1449.9,521 1450.8,524 1451.1,533.4 1450.7,530.6 1451.7,519 1451.9,541.6 1452.9,519.8 1452.5,517.7 1453.1,538.8 1453.7,523.2 1454.2,513.2 1455.1,533.1 1454.8,535.3 1454.6,531 1455.9,517 1455.9,551.8 1456.3,532.8 1457.3,532.8 1457,515.8 1457.8,516.6 1457.6,520.4 1458,522.3 1458.5,527.3 1459.2,519.7 1459.8,523.2 1459.7,527.9 1460.7,518.4 1460.8,528.7 1461.7,520.5 1461.6,527.3 1463.4,522.6 1463.6,513 1463.6,516 1465.4,508.3 1464.6,515.1 1466,511.5 1467,524.8 1467,515.6 1468.2,522.3 1468.9,525.9 1469.3,523 1470.1,510.6 1470.2,523.5 1471.1,520 1472,522.3 1471.8,517 1473.4,527.2 1473.2,506.4 1474,507.5 1475.4,521.2 1475.2,520 1475.6,518.4 1476.3,510.8 1477.3,509 1477.8,516.5 1477.6,514.6 1479,518.2 1479.4,524.3 1479.7,526.9 1480.1,524.6 1480.6,515.4 1480.8,517.6 1481.4,507.3 1481.8,509.6 1482.3,522 1483,529.7 1482.7,529.6 1484.1,539.9 1483.7,526.1 1484,509 1485.3,514.2 1485.2,516.2 1486.3,545.1 1485.6,516.4 1487.2,516.3 1486.7,522.1 1487.2,541 1488.1,513.3 1488,507.8 1489.1,536.3 1488.7,507 1490.2,538.6 1490.4,506.6 1490.4,536.8 1490.7,507.8 1491.3,507.6 1491.9,520.4 1492.1,511.8 1492,536.1 1491.9,508.6 1493.1,519.1 1493.4,518.2 1492.7,526.5 1493.9,509 1494.1,520.4 1494.4,512.3 1494.6,536.5 1495.2,562.5 1495.2,560.9 1496,551.4 1495.9,535.3 1496.3,507 1497.2,534.8 1497.3,533.8 1496.5,546.8 1497.5,542.1 1498.4,537.6 1497.9,549.7 1498.7,560.2 1498.5,560.3 1498.5,559.4 1499.9,537.8 1499.8,550 1500.5,514 1500,513.6 1501.3,508.3 1500.8,517.9 1501.2,517.2 1502.4,554.2 1501.6,564.3 1502.4,550 1503.2,522.9 1502.7,523.8 1503.5,554.1 1503.7,519.1 1504.2,534.5 1503.8,512.5 1504.8,524.1 1504.8,523.2 1505.1,552.5 1506.1,524.6 1505.7,508.8 1506.5,517 1507.1,526 1506.6,546 1507.1,506.8 1508.2,561.1 1507.9,532.1 1508.5,549.1 1508.4,533.3 1509.3,524.4 1508.7,522.4 1508.8,520.7 1510.4,509.1 1510.3,522.2 1509.9,566 1511.1,544.1 1511.3,508.1 1510.8,510.5 1512.4,546.2 1512.3,539.1 1511.6,534 1513.3,562.8 1513.4,506.8 1513.4,534.7 1514.1,509.7 1514.5,549.3 1514.1,555.7 1513.9,525.5 1514.8,511.9 1515.3,537.8 1515.2,550.4 1515.9,530.1 1516,518 1516.4,545.8 1516.8,516.9 1517.4,518.3 1516.9,516.3 1518,511.7 1517.8,509.1 1518.1,538.3 1518.8,553 1519.5,556.3 1518.8,545.9 1520.2,510.5 1519.9,553.3 1520.1,506.7 1520.6,530.9 1521.4,547.9 1521.5,519 1521.7,546.8 1521.9,554.7 1522.2,519.7 1523.5,503.7 1523.5,554.9 1523.1,509.3 1523.7,504.4 1524,505 1524.3,530.9 1525.4,520.4 1525,531.5 1524.5,507.3 1526.1,512.2 1526.4,546.4 1525.7,532.5 1527.2,510.1 1527.2,503 1526.5,536.1 1527.9,537.5 1527.6,552.6 1527.9,547 1529.4,516.6 1528.7,523.8 1529,558 1529.9,510.2 1530.3,551.9 1530.4,552.4 1530.8,522.8 1530.8,547.2 1531.4,521.6 1532.1,501.7 1531.5,535.2 1531.8,521.8 1532.6,557.7 1533.3,550.8 1532.8,507.1 1533.6,554.3 1534,512.2 1534.4,552.4 1534.7,547.4 1534.7,505.6 1534.7,539.2 1536,521.8 1536.3,510.9 1536.3,542.8 1536.8,500.6 1536.8,518.1 1536.6,500 1537.2,498.8 1538.5,499.7 1537.8,533.2 1538.4,510.8 1538.7,558.3 1539.2,505.6 1539.3,506 1539.9,540.2 1539.8,550.5 1539.5,506.6 1541.2,558.4 1541.1,537.5 1541.2,521.3 1541.9,539.4 1541.6,558.1 1542,518 1542.7,540.9 1543.3,518.1 1542.9,527 1543.7,554.3 1543.5,541.1 1544.3,544.8 1543.6,510.4 1544.5,546.6 1545.2,557 1544.6,548 1545.8,538.2 1546.5,513.4 1546.2,503.7 1546.5,517.1 1546.6,534.9 1547.1,508.7 1547.6,514.8 1548.3,522.9 1548.4,514.4 1549.3,508.6 1549.5,511.3 1549.4,528.1 1550.1,510.7 1549.7,513 1550.4,522.3 1551.2,511.1 1550.8,524.9 1550.6,500 1552,532.8 1551.5,501.7 1553.1,509.9 1553.3,517.4 1554.1,495.5 1553.8,505.3 1554,503.3 1554.5,529.3 1555,510.5 1555.7,496.4 1555.7,526.7 1556.4,526.5 1557.4,532.7 1557,508.3 1557.6,526.2 1557.9,518 1558.7,507 1558.5,507.6 1558.6,510.1 1560.5,517.3 1559.8,496 1560.6,516.7 1560.5,529.1 1560.8,515.6 1561.7,518.8 1562.2,525.5 1563.3,511.3 1563.3,505.9 1563.6,493.5 1563.6,505.9 1565,525.4 1565.3,526.3 1564.7,491.7 1566.1,506.5 1566.1,523.9 1567.2,515.9 1566.5,519.4 1567.6,523.9 1567.8,501.7 1567.9,527.2 1568.8,519.6 1569.5,492.9 1570,491.5 1569.6,499.5 1571.5,520.9 1570.5,525.9 1571,488.8 1572.1,503.2 1572.1,528.7 1572.6,500.9 1573,518.1 1573.7,523.7 1573.9,488.5 1574.5,502.6 1574.6,512.4 1575.3,501.7 1575.8,512.9 1576.2,510.3 1576.2,519.7 1576.7,526.8 1577.3,509 1577.6,500.2 1578.1,511.8 1578.7,519.1 1578.5,525.7 1578.7,525.4 1580.1,493.7 1579.7,498 1580.6,503.3 1581,490.3 1580.8,514.6 1582.3,519.4 1581.6,502.3 1582.8,498.3 1583.5,510.8 1583.1,497.1 1582.9,523.8 1584.2,521.5 1584.1,488.1 1584.5,492.3 1584.7,507 1585.1,518.2 1585,524.1 1584.6,496 1585.8,535.1 1586,499.2 1586.2,506.7 1587.3,494.8 1586.5,537.2 1586.6,542.3 1588.1,514 1587.6,537.6 1587.5,526 1587.8,526.9 1588.6,519 1588.9,486.3 1588.5,498.3 1590.1,485.2 1589.6,493.1 1590.1,548.3 1589.7,516.9 1590.6,497.1 1590.7,528 1591,546.4 1592.2,487.2 1592.5,509 1592.3,550.3 1592,537.5 1593.3,486.6 1593.1,537.6 1593.3,484.1 1594,512.4 1594.4,487.8 1593.8,512.9 1594,499.8 1594.7,532.2 1595.4,505.3 1595.1,509.5 1595.7,550.3 1596.2,552.1 1596.4,516.6 1596.2,525.6 1597.5,485 1597,542.9 1596.9,484.5 1597.9,523.6 1598.5,493.9 1597.7,501.9 1597.7,510.5 1599.4,515.8 1598.8,548.2 1599,493.8 1600.3,491.8 1600.2,484.7 1600.1,534.9 1599.8,506.5 1601.2,526.3 1601.3,507.4 1601.4,512.6 1601.9,487 1602.2,503.8 1602.3,529.2 1601.8,500.8 1603.2,526.6 1603.4,499.7 1602.7,513.5 1604.3,525.1 1603.8,501.7 1604,493.1 1604.6,507.4 1604.8,509.4 1604.8,506.7 1606.4,485.2 1605.8,481 1606.1,524.5 1607.3,531 1606.7,485.4 1607.1,518.1 1608.4,514.3 1607.7,500.6 1608.1,518.6 1609.3,528.2 1609.4,513.3 1609.2,500.5 1610.2,497.6 1610.4,493.5 1610,495.8 1611,513.9 1610.8,502.2 1612.1,514.6 1612.1,516.9 1611.6,501.1 1613,523.9 1613.1,488.1 1612.8,483.7 1612.7,491.2 1614.2,499 1614.4,504.5 1614.3,513 1615.4,496.1 1614.8,524.2 1615.1,500.2 1615.3,488.2 1615.7,513.1 1616.3,501.5 1615.5,513.3 1616.4,514.5 1616.5,498.8 1617.5,496 1617.2,485.7 1617.1,511.5 1617.5,548.9 1617.7,510.1 1617.8,525.1 1617.7,480.2 1619.4,548.1 1618.7,541 1618.6,546 1619.6,483.1 1620.2,513.7 1620,531.4 1620.5,533.9 1620.7,535.9 1621.5,529.2 1621.1,549 1620.9,543.7 1622.3,529.1 1622,493.5 1622.3,494.5 1621.6,484.6 1622.2,470.5 1622.6,523.3 1623,471.6 1622.6,503.4 1623.3,472.3 1624.4,464.1 1624.5,489.7 1623.9,506.4 1623.9,488.1 1625,505.6 1625.1,495.9 1624.7,514.7 1624.5,472.3 1625.8,507.5 1625.6,544.8 1626.2,503.5 1626.1,490.7 1626.5,540.4 1627,540.4 1626.9,478.1 1627.2,547.6 1626.7,510 1627.5,511.2 1627.9,491.5 1628.4,501.8 1627.9,529.9 1629.4,470.3 1628.6,536.8 1629.2,519.6 1629.5,534.5 1629.1,473.1 1630.2,483.7 1630.1,488.9 1630,495.4 1630.2,485.6 1631.2,455.1 1630.6,501.1 1630.8,519.9 1630.9,507.4 1630.8,505.1 1632.2,490.4 1632.3,467.8 1632,472.3 1632.2,526.5 1633.3,490.3 1632.5,468 1632.6,468.9 1633.5,512.3 1634,457.3 1633.7,498 1634.3,506.9 1635.1,521.4 1635,455.8 1634.8,468.5 1635.4,514.8 1636.2,472 1636.3,464 1636.4,478.8 1635.8,482.3 1637.3,505.8 1637.4,451.4 1637.5,480.6 1637.5,507.9 1638,486.2 1638.4,518.5 1637.9,523.8 1638.5,501.2 1638.7,476.4 1639,449.8 1639.1,471.9 1640.4,470.1 1639.5,517.8 1640.3,493.4 1640,481.1 1641,469.2 1641.4,459.4 1641.1,451.6 1641.4,467.5 1641.7,503.1 1641.6,473.6 1641.6,470.7 1641.6,506.9 1642.7,474.8 1643.4,453.8 1643.2,450.7 1644.4,460.2 1644.3,471.9 1644.2,499 1644.9,462.3 1645,489.5 1644.6,452.9 1645.3,451.8 1645.7,461.6 1646.3,448.6 1646.2,454.1 1646.7,478.3 1647.1,483.4 1646.7,497.1 1647,517.8 1647.7,480.7 1648.2,509.6 1647.8,504.5 1648.8,461.6 1649.2,517.4 1649.3,450.3 1648.9,501.6 1650.3,505 1649.5,453.1 1650,464.6 1651.1,493.4 1650.9,447.9 1650.9,484.8 1651,457.4 1652.2,480.5 1652.1,481.7 1651.8,500.8 1651.9,450.7 1652.8,498.7 1652.9,493.2 1652.7,476 1653.9,478.2 1654.2,500.7 1654,447.8 1655.4,505.1 1655.3,472.3 1655.5,502.3 1655.4,472 1656.1,457.6 1655.7,475.2 1655.8,453.7 1656.5,501.8 1656.6,467 1656.6,470.5 1658.2,461.6 1658,446.9 1658.4,508.3 1658.1,459.1 1659,473.4 1658.5,449.4 1658.6,490.9 1660.4,469.3 1659.8,448.9 1660,488.2 1659.8,503.5 1661.5,459.6 1661.4,487.1 1660.9,471.3 1661.8,443.1 1662.1,464.5 1662.2,478.8 1663,484.4 1662.5,449.9 1663.1,487.1 1662.7,477.5 1663.8,507.5 1664.2,498.3 1664.3,496.6 1665.4,452.8 1664.6,472.3 1664.8,460.6 1664.6,504.2 1665.7,483 1665.6,439.8 1666.5,462.6 1667.2,448.2 1666.8,502.2 1666.7,472.9 1667,476.6 1668.1,458.7 1667.5,452.4 1668.4,494.6 1667.6,494.4 1669.2,461.3 1669.1,458.1 1669.4,439.2 1669.6,473.7 1670,477.4 1670.2,471.1 1669.8,506.5 1670.6,466.6 1671,498.5 1670.6,509 1672,438.4 1671.8,472.7 1672.3,462.3 1672.2,452.7 1673,472.1 1672.6,441.7 1672.5,444.9 1672.9,508.4 1674.2,477.3 1674.1,495.9 1674.4,437.8 1675.2,444.1 1675.3,453.1 1675.1,492.5 1675.4,492.7 1676.4,486.5 1676.2,460.5 1675.7,465.9 1675.7,442.5 1677.1,449.9 1677.3,443.5 1676.6,482 1678.4,439 1678.3,469.2 1678.2,492.2 1677.6,437 1679.4,443 1679.2,461 1678.7,439.6 1678.9,464.2 1679.6,470.4 1680.2,433.4 1679.8,484.4 1680.4,480.7 1681,465.3 1680.9,442.4 1680.8,499.8 1682.1,496.7 1682.1,449.2 1682,450.2 1681.5,472.4 1683.3,492.1 1682.6,436.9 1683,460.7 1684.3,435.4 1684.3,494.6 1684.3,452.9 1684.1,458.9 1684.7,444 1684.8,449.4 1685.1,467.5 1685,477.2 1685.5,472.5 1685.6,495.8 1686.1,463.9 1686.6,473.9 1687.5,450.9 1687.2,457.5 1686.6,454.8 1687.8,489.9 1687.8,443.8 1687.9,477.3 1688.9,487.9 1688.8,483.1 1689.5,437.3 1689.1,462.4 1690.3,460.5 1689.5,476.6 1690.2,474.1 1690.6,490.7 1690.7,446 1691,460 1691.8,482.3 1691.9,478.6 1692.4,446.1 1691.6,492.1 1693.2,458.1 1692.8,477.8 1693,436.5 1694.4,484.1 1693.6,451.6 1694.2,480.1 1695.4,453 1694.6,480.2 1695.1,429.6 1695.9,477.9 1696.1,469.7 1696.5,477.4 1696.3,456.8 1697.2,470.1 1697.5,484.5 1697.3,440.8 1697.8,455.5 1698.2,473.8 1698,433.9 1699.5,469.6 1699.5,448.9 1699.2,446.5 1699.4,431.8 1699.7,426.3 1700.4,486.5 1700.1,490.2 1701.4,450.3 1701.1,445.7 1701.3,479.1 1701.9,456.3 1702.1,459.3 1701.9,458.8 1701.9,451.1 1702.7,484.8 1702.9,466.9 1702.9,437.9 1704.4,466.6 1704.3,460.9 1703.7,430.6 1705.4,435 1705.3,456 1704.8,450.2 1705.4,484.1 1705.8,466.2 1705.8,463.1 1705.8,481 1706.5,454.8 1706.9,471.8 1706.6,429.8 1707.9,468.7 1707.6,460 1707.9,471.4 1709.5,431.3 1709.4,458.3 1709.2,438.6 1709.7,480.1 1710.2,483.3 1710.1,480.2 1710.4,465.4 1710.9,462.1 1711,455.8 1710.7,448.3 1712.4,438.9 1712.4,469.6 1711.7,458.8 1713,461.4 1713.4,432.9 1713.5,487.9 1713.4,485.8 1713.8,439.5 1714,451.8 1714.5,469 1715.2,481.3 1715.4,450.6 1714.9,451 1715.7,469 1715.5,430.2 1716.4,465.8 1717.1,484.9 1716.7,438.7 1716.9,445.2 1716.9,463.6 1717.9,424.1 1718.2,462.9 1717.8,461.2 1718.9,423.4 1718.7,486.3 1718.8,428.9 1720.5,476 1719.7,424.3 1719.7,468.1 1720.5,444.1 1720.5,434.1 1721.4,429 1720.7,473.9 1721.9,427.8 1722.2,460 1721.6,458.8 1723.3,450.5 1722.5,438.3 1723.3,455 1723.8,425.3 1724.3,431.7 1724.2,453.9 1725.2,423.6 1724.7,429.4 1725.9,456.4 1725.8,422.3 1726.5,446.4 1726.8,450.8 1726.9,456 1728.3,449.9 1727.7,454.7 1729.2,441.6 1728.9,456.4 1729.1,436.8 1730.2,430 1730.3,440.1 1731,450.6 1731.1,452.8 1732.1,452.1 1731.8,442.8 1732.5,435 1733,425.1 1732.8,422.1 1733,438.1 1733,433.6 1733,428.1 1733,430 1733,426.2 1733,427.7 1733,425.3 1733,423.3 1733,427.9 1733,423.1 1733,423 1733,427 1733,423.5 1733,428.8"/><polyline fill="none" stroke="none" marker-start="url(#mt)" marker-mid="url(#mt)" marker-end="url(#mt)" points="902.5,1067.2 905,1069.2 909.9,1051.2 898.3,1077.1 902.9,1056.9 916.9,1064.8 913.9,1065 910.1,1054 910.1,1078.1 907.9,1073.8 910.8,1051.1 912.4,1068.8 903.7,1050 914.4,1064.8 892.6,1054.5 892.6,1054.5 867.9,974 868.9,974.7 877.6,970.5 862.7,971.1 1167.5,958.9 1192,959 479.5,1212 479.5,1216.2 481.1,1223.5 483.2,1226.9 485.4,1231.4 488.2,1214.7 490.4,1235.4 492.4,1225.1 494.2,1215.7 496.3,1225.1 497.8,1211.6 500.4,1236 501.6,1229.6 502.9,1205.4 504.8,1226.6 506.4,1193.6 507.1,1191.7 509.2,1197.1 510.4,1211.6 511,1205 512.8,1179.7 514.1,1174.5 515.7,1180.3 517.1,1167.4 517.5,1196.4 518.8,1203.5 521.4,1178.8 522,1188.1 523.1,1194.5 524.1,1198 525.4,1192.5 525.9,1209.2 526.7,1180.7 528.5,1197.8 528,1159.4 528.9,1202.2 529.5,1204.9 531.1,1163 532.1,1193.7 533.2,1185.1 534.2,1218.5 534.5,1189.2 536.2,1232.2 536.8,1208 538.1,1201.6 538.9,1201.2 540.9,1214.7 541.8,1203.6 543.3,1185.4 544.1,1220.4 544.8,1193.3 547.3,1191 547.7,1196.3 549.2,1180.6 549.8,1185 551.3,1183.8 553.4,1177.5 553.8,1186.5 557.4,1182.4 558.7,1175.8 560,1177.3 562.3,1192.5 563.7,1179.7 566.3,1189.6 568.3,1181.5 568.6,1180.3 571.3,1180.6 572.8,1184.9 574.9,1185.4 576.4,1180.1 577.5,1197.9 580.4,1198.8 581.9,1198.1 584.4,1182.9 586.2,1195.6 587.2,1188.4 588.8,1182 590.7,1173.8 592.1,1176.8 594.3,1169.8 596.4,1177.7 597.4,1180.8 599.4,1175.7 601.5,1178.1 603.7,1171.3 606.2,1174.6 607.9,1180.6 610.1,1171.7 611.8,1179.1 614,1177.5 614.9,1165.7 617,1176.2 617.7,1174.9 619.4,1174.7 620.3,1145.9 622.1,1175.9 622.5,1153.8 623.8,1163.4 624.9,1161.5 626.3,1143 626.6,1147.9 627.6,1145.4 629.5,1178.7 630.6,1164.2 631.8,1155.9 632.9,1171.4 634.1,1158.3 634.7,1156.8 635.6,1167.7 636.2,1159.3 636.6,1149.4 637.9,1170.2 639.3,1159.9 640.3,1171.6 640.9,1160.6 642,1176 642.9,1175.7 644,1156.1 645,1175.9 645.6,1164.6 646.9,1183.6 648.4,1163.1 649.4,1179.5 649.8,1167 651.6,1179.6 653.2,1181.9 654.3,1174.3 655.2,1171 655.6,1171.7 656.5,1158.7 659.3,1157 659.6,1159.1 661.4,1161.1 661.5,1177.7 663.6,1177.1 665.2,1176.6 666.5,1170.2 668.3,1155.7 669.3,1166.3 670.2,1155.8 672.2,1174.6 672.6,1158.5 674.1,1170.6 674.7,1152.7 675.7,1162.8 678.3,1154.3 678.9,1153.1 679.9,1152.3 680.6,1152.9 682.5,1149.7 683.2,1143.2 685.2,1152.7 686.2,1146.8 687,1147.7 689.4,1137.3 689.6,1145.1 691.4,1140.5 692.9,1141.6 693.7,1134.8 695.7,1138.8 696.8,1132.3 699.2,1145.2 699.8,1140.7 700.9,1144.2 702.1,1131.1 703.7,1124.3 705,1133 705.7,1131.9 706.8,1141.8 707.6,1146.3 710,1135.3 711,1139.8 712.3,1132.9 713,1135 713.4,1126.7 714.2,1140.8 715,1115 715.7,1130.4 717.2,1139.4 717.4,1108.3 717.7,1105.6 718.7,1126.8 720.4,1136.2 719.8,1134.5 720.8,1113.1 722.2,1096.5 722.6,1132.9 723.8,1109.5 724.1,1125.1 724.5,1108.3 725.9,1115.7 726.7,1120.6 727.5,1111 728,1097.5 728.8,1124.6 729.6,1135.7 730.4,1096.2 731.4,1110 732.3,1129.2 732.8,1125.1 733.2,1131.7 733.8,1129.1 735.5,1124.9 735,1096.6 736,1108.6 737.2,1125.2 738.1,1099.8 738.1,1122.8 738.7,1133.9 740.2,1095.8 740.4,1096.7 740.8,1121.4 742.1,1112.5 743.1,1107.1 742.8,1096.4 743.6,1114.8 745.3,1103 746.2,1094.6 746.8,1094.5 747.4,1089.6 749,1091.8 750.3,1092.7 750.8,1092.6 752,1096 752.9,1095.3 753.6,1083 754.6,1075.6 756.3,1087.7 755.7,1073.3 756.9,1086.3 758.3,1084.6 759.1,1063 759.9,1064 761,1076.1 760.7,1065.3 762.3,1057.2 763.3,1085.4 764.4,1067.8 765.1,1073.9 766.1,1086.6 766.2,1063.9 767.4,1069.6 768.1,1075.6 768.5,1074.7 770.2,1065.2 771,1063.2 771.7,1063.4 772.5,1061.4 774.1,1059.2 775.1,1064.5 776.4,1054.2 777.3,1060.3 777.6,1057.1 779.7,1053.7 781,1064.1 782.8,1064.5 784.2,1054.9 785.4,1061.7 786.4,1063.8 788.2,1058.6 788.3,1068.2 789.4,1060.4 790.3,1061.5 790.6,1054.4 790.6,1059.6 791.7,1073.1 793.2,1074.6 793.9,1079 793.8,1071.4 795.3,1068.6 795.7,1089.3 796.2,1067 796.9,1073.7 798.1,1060.5 797.5,1059.9 799.3,1056.9 800,1058.8 799.7,1057.8 800.9,1057.4 801.5,1054.6 801.7,1071.2 802.6,1050.5 803.9,1066.7 804.2,1050.5 804.9,1065.4 805.5,1091.8 805.7,1050.1 807,1052.4 807.1,1061.3 807.6,1045.6 808.2,1056.8 809.3,1065.8 810.4,1056.3 809.7,1054.5 811.3,1073.3 810.8,1044.1 812.2,1091.8 812.1,1037.9 812.5,1041.5 812.7,1038.5 813.6,1066.4 814.4,1044.7 815.5,1052.1 815.3,1069.1 816.4,1033.4 815.8,1050.2 817.4,1033.2 816.8,1050.8 817.6,1039.4 818.8,1046 819.4,1033 820.2,1047.4 821.3,1042.7 822.4,1037.6 822.9,1034 824.3,1040.6 824.8,1032.2 826.2,1043.8 827.2,1037.8 827,1031.6 828.2,1027.9 829,1046.8 830.2,1029.4 830.7,1046.8 832.1,1046.5 833.4,1036.3 833.4,1042.3 833.8,1034 834.6,1033.1 836.5,1025.3 837.1,1023.8 836.6,1035.4 837.7,1020.8 838.7,1032.5 840.1,1016.6 840.7,1037.2 840.7,1027.8 841.9,1031.5 843.1,1030.4 844,1014.2 843.7,1011.5 845.3,1010.7 845.5,1030.9 846.7,1027.8 846.6,1017.1 847.7,1025 849.1,1019.1 849.3,1024.8 849.8,1016.9 850.9,1003.6 852.3,1014.7 852.3,1004.8 853,1010.4 854.2,999.3 854.8,1008.9 854.6,1010.8 856.2,1006.3 857.1,1010.4 857.7,1002.9 858.5,1002.4 858.9,995 859.7,996.7 861.4,1012 861.4,1019.4 862.1,1017.6 863,1002.8 864.4,1016.5 864.4,1004.7 865.3,1002.6 866.5,1016.6 866.8,1016.8 866.7,994.5 868.2,999.9 869,1008.9 869.5,1011.5 870.8,1003.7 870.8,1011.3 872.2,1000.2 872.6,1000.7 873.9,995.6 874.7,1011.4 875.2,1016.3 876.5,1013.9 876.9,998.8 877.8,1006 879,1008.2 879.9,1013.6 880.8,1008.6 882.4,1013.3 882.8,1008.3 884.3,1008 884.6,1011.9 886,1009.9 886.6,1010.5 889.3,1012.5 890.5,1014.1 891.5,1011.5 892.7,1012.4 893.9,1013.7 895.6,1014.8 896.6,1014.7 898.7,1015.8 899.9,1015.5 901.5,1015.7 904.1,1016 905.4,1016.3 905.7,1012.4 907.3,1015.4 907,1015.8 908.1,1008.2 908.7,1001.1 910.1,1016.4 910.4,1007.2 911.2,1017.3 911.3,1009 911.9,1005.3 912.7,992.5 913.2,1019.7 914,998.1 913.9,999.9 915.3,999.7 915.5,988.3 915.8,1002.5 916.9,1015.1 917.3,1018.2 918.1,983.9 918.1,1003.7 919,993.5 919.2,1017.7 919.6,1008.5 920.9,1002.7 921.4,1019.8 922.1,990.6 922.4,990.1 922.9,1015 922.8,993.6 924.4,1019.5 924.8,998.5 924.8,988.5 925.8,1020.3 925.6,992.2 926.7,986.5 927,1010.2 928.3,1005.2 928.3,984 928.8,1014.7 929.6,992.1 930,992.1 931,985.4 930.7,1011.4 931.6,1008.4 932.7,1009.1 933.2,1000.5 933.6,985.7 935.3,988.3 934.7,1002.1 936.4,985.6 937.5,994.3 936.9,986.6 937.9,1000.7 938.8,986.8 939.6,986.6 940.9,995 941.6,986.9 943.4,994.2 944.5,988 944.9,993.8 946,992 946.8,987.3 947.8,992.5 949.3,992.2 950,992.9 950.9,993.8 952.3,991.1 953.1,1000.1 953.3,991.5 954.5,1000.2 954.7,993.8 955.7,991.4 957.5,997.3 958.4,993.3 957.5,1005.5 959.3,1008.8 960.2,1001.1 961.3,993.8 962,999.7 961.6,1002.4 962.8,1000.8 963.9,997.6 964.9,1002.4 966.5,1008.1 966.4,1006.4 966.8,1008.8 967.8,991.2 968,1003.7 968.8,1000.8 968.8,1008.4 970,995.3 971,1005.5 971.5,995.3 971.9,996.8 971.6,990.5 973.3,1001.3 972.6,1004 973.9,1008.5 973.9,979 974,1004.7 974.9,1003.7 975.2,982.7 975.8,987.2 975.9,981.3 977.2,1003.3 977.1,968.7 976.7,979.4 978.1,965.9 977.6,975 977.8,960.3 979,1005 979,995.2 980.3,1000.1 980.4,977.7 980.2,959.7 981.4,972.3 981,1002.7 980.8,961.2 982.3,984.6 981.6,949.5 982.9,948.3 983.3,959.1 982.8,971.7 984,974.2 984.1,988 983.9,953.7 985.5,989.6 984.6,974.5 985.3,1007.8 985.6,948.4 986,973.1 987.4,997 986.8,972.8 987.1,1000.5 987.7,971 987.6,985.7 987.5,1003.1 989,981.5 988.6,961.4 989,998.1 990,964.4 990.5,986.3 991,959.5 990.8,999.7 990.6,978.5 992.1,968.1 992.3,999.9 992.4,990.1 992.7,951.2 992.9,965.5 993.7,996.9 993.7,994.1 994.4,954.5 995.4,970 994.7,958.2 994.5,975.7 995.9,995 996.3,951 996.9,969.2 996.7,961.6 996.8,985.9 997.8,953.9 997.7,971.9 999.1,961.1 999.2,959.4 999.2,980.7 999.7,988 999.9,976.7 1001.1,981.1 1000.9,950.8 1001.3,993.4 1002,978.3 1001.8,995.1 1002.2,959.5 1003.3,999.6 1002.8,1000.1 1004,957.7 1004.2,966 1004.2,978.7 1004.6,975.9 1005.4,973.3 1006,993 1005.9,974.2 1006.1,991 1006.7,954.1 1007.3,977.3 1007.8,991.8 1008.4,975.4 1008.5,989.2 1009.2,963.1 1008.5,978.9 1010.2,964.8 1010,973.2 1010.7,977.7 1011.1,965.8 1010.6,972.2 1011.8,978.1 1011.7,965.8 1012.7,966 1013.1,955.1 1013.6,968.5 1013.7,969.3 1013.7,954.8 1015,983.8 1015.4,969.4 1014.9,953.5 1015.8,958 1016.4,949.9 1016.4,964.7 1016.9,949.1 1017.5,945.3 1017.1,961.4 1017.7,939.9 1018.5,972.9 1018.2,979.5 1018.6,964.8 1019.3,932.9 1019,982.9 1019.8,968.3 1019.7,962 1019.8,951.5 1020.9,975.1 1021.2,950.8 1021.2,945.7 1022.3,934.1 1022,955.8 1021.9,920.2 1022.7,955.4 1022.7,962.5 1023,974.3 1024.3,953.4 1023.9,918.8 1024.1,954.4 1024.4,926.9 1024.7,956.6 1025.2,936.2 1025.2,922.5 1026,937.1 1026.1,921.2 1025.6,935.7 1027.4,920.1 1026.5,918.4 1028.3,927.1 1028,944.8 1029.1,922.8 1029.2,915.4 1029.8,934.2 1029.7,916 1031,923.4 1031.5,917.5 1032.3,924.4 1032.3,925.8 1033.2,922.4 1033.7,924.8 1034.3,922.4 1034.7,923.4 1034.6,921.2 1036.1,925.8 1037.1,920.3 1036.5,914.8 1037.8,918.2 1039.1,919.5 1039.3,926.2 1040.2,928.5 1041,922.3 1040.8,915.3 1042.3,923.1 1042.6,931 1043.1,924.7 1043.9,913.1 1044.5,914 1044.9,931.5 1045.6,919.2 1046,913.2 1047.4,916.1 1046.5,917.6 1047.5,922.6 1048.4,927.6 1048.5,921 1049.8,915.6 1049.8,911.3 1050.6,919.5 1050.6,928.1 1051.5,928.1 1052.7,906 1053.2,917.2 1054.3,916.7 1054.1,906.1 1055.2,916.9 1056.5,904.5 1055.6,921 1057.4,914.8 1057.2,918.3 1057.9,916.3 1059.1,905.5 1058.8,923.6 1059.8,917.1 1059.8,914.2 1061.2,924.6 1061.5,917.6 1061.7,914.2 1062.6,911.8 1063.1,921.9 1063.7,910.5 1063.6,910.4 1065,912.8 1065.4,921.5 1065.8,918 1065.5,926.6 1067.3,916.4 1068.2,914 1067.7,912.7 1068.7,924.2 1069.1,927.8 1069.6,929.5 1070,917.8 1071,919.7 1070.7,918.6 1072.1,933.9 1072.4,926.9 1073.4,933.2 1073.2,939.2 1073.6,932.9 1074.4,910.6 1075.1,943 1075.8,946.7 1077.4,945.5 1077.6,942.8 1079.3,944.6 1079.8,945.7 1080.4,944.3 1080.5,951.3 1081.8,947.2 1083.5,946.9 1082.6,954.6 1083.7,946.8 1084.4,946.9 1085.4,949.1 1084.8,947.2 1086,954.2 1085.9,953.2 1086.8,966.9 1087.4,964.5 1087.3,945.6 1087.8,951.1 1087.7,979.1 1088.4,977.1 1089.1,949 1088.9,946.3 1090.4,958.2 1089.8,995.1 1089.7,993.8 1090.8,979.8 1090.6,992.5 1090.9,962.5 1092.2,976 1091.8,950.6 1092.1,945.2 1093.4,962.5 1092.7,961.6 1092.6,961 1094,965.9 1093.8,959.7 1095,986 1094.9,985.5 1095,950.5 1095.7,989.8 1096,964.6 1096,989.7 1096.9,963.5 1096.9,944.6 1097,969.9 1098,968.4 1098,982.6 1098.7,997 1098.6,990.8 1098.7,986.9 1099.8,948.2 1100,989.3 1100.3,991.4 1101.5,946.9 1100.9,949.8 1101.3,968.4 1102.2,986.8 1102.5,980.3 1102.4,973.3 1102.6,991.9 1102.6,947.1 1103.3,957.9 1104.2,942.9 1103.7,981.9 1103.5,970.3 1105.4,952.7 1105.2,983.2 1105.1,984.5 1106.2,940.2 1105.7,970.8 1106.5,952.1 1107.1,946 1107.3,964.9 1107,978.3 1107.6,981.6 1108.3,989.5 1107.8,951.6 1108.7,991.8 1108.9,960.4 1109,979.4 1109.8,956.4 1110.3,984 1109.8,940 1111.4,980.8 1111.1,960.1 1111.5,961.8 1110.7,940.8 1111.9,972.2 1111.9,994.6 1112.1,963 1113.2,965.7 1113.1,959.8 1113,959.6 1114.3,940.2 1114.3,945.1 1114.3,934.7 1114,951.8 1115.2,937.8 1114.8,935.3 1115.1,951.6 1115.5,934.3 1115.7,955.6 1116,944.9 1116.8,945.6 1117.3,945.9 1116.5,939.4 1118,925.8 1118.3,933.7 1117.8,942.5 1119.1,936 1119.4,936.7 1118.8,922.7 1120.1,929.2 1120,928.6 1120.5,914.6 1120.7,916.7 1121.4,934.7 1121.7,938.3 1122.1,912 1122.3,918.8 1123.5,910.1 1122.8,915.1 1123.4,941.5 1124.1,905.3 1123.9,934.2 1123.6,945.6 1124.3,946.2 1125.2,927.4 1125.5,907.1 1124.8,898.7 1125.7,937.1 1125.6,933.8 1125.9,941.9 1127.3,930.2 1127.3,891.2 1126.8,911 1127.9,929.1 1128.4,933.3 1128.4,930.7 1128.9,919.3 1129.2,937.7 1128.9,910.2 1130.1,902.6 1130.4,888.9 1130.1,917.9 1130.7,922.9 1131,946.2 1131.4,923.9 1132.4,941.4 1131.7,938.1 1132.3,947.8 1133.3,912.3 1132.7,927.7 1132.7,933.8 1134.1,937.7 1133.9,907.1 1134.4,928.1 1134.9,922.1 1134.9,926.9 1135,906 1136.5,940.9 1136.3,905.6 1135.7,932 1137.3,927.3 1136.7,931.2 1137,911.2 1138.1,915.6 1138.1,933 1138.5,896.2 1139.1,943.9 1139.2,923 1139.4,891.7 1140.3,925.5 1140.1,907.8 1140.1,897.2 1141,904.8 1141.4,935.7 1141,932.9 1141.9,919.8 1141.7,938.6 1142.3,933.1 1142.6,936.3 1142.5,922.1 1143,894 1143.9,939.9 1144.1,908.2 1145.3,910.6 1145.4,913.1 1144.6,944.4 1145.6,905 1146.3,897.5 1146,938.1 1147.1,910.3 1147.3,936.2 1147.1,925.4 1147.8,913.5 1148.5,944 1147.5,902.1 1148.7,934.3 1148.7,900.8 1149.3,900.7 1150.5,916.5 1150.4,935.7 1150.7,933.7 1150.9,905.4 1150.5,929.6 1152.1,910.5 1152.3,905.4 1151.9,900.1 1152.9,937.9 1153,904.7 1152.7,927 1153.8,937.6 1153.6,936.8 1154.1,934.8 1154.9,903.9 1154.7,926.6 1155.5,907 1156.3,936.5 1156.4,934.9 1157.1,936 1157.2,924.6 1157.9,908.5 1157.6,915.9 1159,914 1159.5,927.7 1160.2,937 1159.7,936.8 1160.5,918.3 1160.6,934 1161.4,934 1161.9,928 1162.6,917.2 1162.9,932 1163.6,937.1 1163.5,938.3 1164.7,933.7 1165.3,937.6 1166,929.6 1165.8,933.6 1166.6,934.7 1167.1,909.3 1167.4,917.1 1167.6,914.2 1167.5,914.9 1169.2,937.4 1169.1,932.9 1170.3,927.6 1169.9,911.6 1170.7,921 1170.7,927.9 1170.8,922.2 1172,923.2 1171.7,909.4 1173.2,906.5 1173.2,935.4 1173.9,935.1 1174.1,934.4 1174,926.8 1175.2,903.4 1175,919.3 1176,922.1 1176.4,927.9 1176.3,900 1177.2,920.1 1177.4,892.5 1177.7,935.5 1177.9,923.2 1178.1,909.1 1178.9,915.9 1179.5,914.6 1179.3,903.7 1180.2,917.9 1180.2,930.9 1180.6,936.3 1181.1,902.1 1181,894.2 1181.7,931.1 1182.2,932.5 1181.7,894.9 1182.9,914.7 1183.2,904.7 1183.2,919.3 1183.8,930.6 1183.6,920.4 1183.7,891.7 1185,917.3 1185.1,909.6 1185.4,931.4 1185.7,889.8 1186.5,912 1185.6,899.2 1187.2,899.4 1186.9,927.4 1186.9,926.1 1188.4,934.3 1188.1,924.8 1187.8,925.7 1189.1,923 1189,932.3 1189.7,929.7 1190.5,891.5 1189.8,945 1190.6,934.8 1191.1,893.4 1191.1,889.9 1192.3,906 1192.4,938.5 1191.6,911.5 1192.7,930.2 1192.6,893.5 1192.6,935.6 1193.7,906.5 1193.9,918.6 1193.9,939.5 1194.8,914.2 1195.4,902.1 1194.7,932.9 1195.8,935 1196.3,908.5 1195.8,894.7 1197.4,912.3 1196.8,899.5 1196.7,933.2 1197.6,917.7 1198.1,916.1 1199,910.8 1198.7,929.1 1199.4,918 1199.8,932 1199.7,902.1 1200.1,928.7 1201.1,900.7 1201.5,902.5 1201.8,932.6 1202.3,924.5 1202.6,927 1202.9,899.8 1203.3,929.5 1203.5,914.3 1204.4,910.7 1204.8,923.3 1204.9,929.2 1206.4,924.6 1206.2,908.4 1207.2,917.6 1207,917.4 1207.8,910.3 1208.4,913.5 1208.6,924.2 1210,918.1 1209.8,909.1 1210.8,920.1 1211.8,920.5 1211.8,920.3 1212.7,912.9 1213.6,908.5 1214,911.4 1215,906.6 1214.8,908.3 1216.4,901.3 1215.9,915.5 1217.1,901.8 1217.5,898.7 1217.6,893.4 1217.9,913.1 1218.8,897.1 1219.3,891.7 1219.5,904.8 1219.6,901 1219.6,903 1221.4,896.4 1220.8,901.5 1222.2,881.4 1221.7,891.5 1222,888.3 1223.2,884.8 1223.4,888.1 1223.7,875.7 1223.6,880.5 1224.4,887.7 1224.9,906.2 1225.5,898.7 1225.7,881.1 1226,878.4 1226.8,875.7 1226.7,896.4 1227.1,884.7 1228,890.3 1228.2,867.4 1229.3,883.5 1228.8,902.9 1229.3,879.2 1229.5,881.6 1229.9,879.2 1230.6,886 1230.8,893.4 1231,874.6 1232.3,879.6 1231.6,872.7 1232.6,877.6 1233.4,898.8 1233.2,866.1 1233.7,866.7 1233.9,885.2 1233.5,878.9 1234.9,885.1 1235.3,873.6 1236.1,866.9 1236,882.8 1235.6,877.5 1237,861.5 1236.7,890.2 1237.8,861.1 1237.8,875.8 1237.9,868.2 1238.8,862 1239,878.9 1238.6,878.5 1239.8,895.6 1240.4,858.3 1241.2,867.7 1240.6,891 1242.4,887.1 1242.1,895.5 1242.1,882.2 1243.2,890.3 1243.4,865.9 1243.7,876.5 1244.1,868 1244.4,889.8 1245.2,876.1 1245.2,861.1 1245.3,858.1 1246.4,881.9 1245.8,861.5 1246.1,874.3 1247.2,857.4 1247.4,874 1246.9,889.5 1248.1,876.2 1247.8,877.3 1247.5,866.1 1249.3,860.2 1248.6,900.4 1248.9,882.8 1250.1,895.7 1249.8,898.7 1249.5,903.2 1249.8,890.4 1250.8,900.1 1250.9,891.4 1250.8,905 1252.3,868.6 1252.3,912.5 1251.7,868 1253.4,911.7 1252.6,901.2 1253.4,872.6 1253.3,874.5 1254.3,885.7 1254,865.5 1254.2,895.9 1254.8,862.2 1254.6,873 1255.5,897.5 1256.4,898.1 1255.6,880 1256.4,903.1 1257.5,901.7 1257.2,899 1258.4,883.2 1257.5,877.6 1257.5,875.7 1259.1,876.5 1258.7,868.1 1258.9,887.8 1260.1,907.9 1259.6,876.3 1260.6,907.4 1261.1,895 1261.3,865.6 1262.4,881.2 1262.1,884.3 1263.2,880.6 1262.8,878.4 1263.2,887.2 1263.7,883.6 1264.1,884.3 1265.1,904.1 1265.1,902.4 1264.8,905.2 1266.4,891.9 1265.5,874.4 1267.3,905.4 1267.2,891.6 1267,876.5 1268.1,910.5 1267.7,896 1269.4,897.8 1268.9,882.9 1270.2,908 1270.4,889.5 1271.2,904.1 1270.9,902.2 1271.9,883.3 1271.5,901.1 1272.3,878 1272.6,887.3 1272.7,901.4 1273.7,896.4 1274.1,888.4 1275.4,891.4 1275,899.1 1275.9,882.8 1276.5,902.1 1277,893.4 1277.1,886.5 1277.6,894.6 1278.4,879.2 1279.5,888 1279.5,901.7 1279.8,881.7 1280.4,908.5 1280.3,894.7 1281,901 1281.3,902.8 1281.8,902 1282.5,893.1 1282.5,878.7 1283.2,887.1 1284.4,894.2 1284.2,876.7 1285,896.1 1285.4,903 1284.8,888.7 1286.5,873.4 1285.6,876.7 1287.2,881.3 1287.2,899.3 1288.3,870.6 1288.2,897.8 1289.2,899.6 1289.3,890.6 1289.4,888.1 1289.6,878.3 1290.4,880.1 1291,898.9 1291.2,896 1291,885.8 1291.6,872 1291.7,885.1 1293,864 1293.1,865.2 1292.9,862.1 1294,864.2 1294.4,873.9 1294.3,877.5 1294.8,894.8 1294.8,879.2 1295.1,902.2 1296.2,853.9 1296,900 1296.4,870.2 1296.6,862.7 1297.3,857.8 1297.4,862.5 1298.2,884.8 1297.7,874.7 1298.1,860.3 1299,879.8 1299.5,858.8 1298.7,872.4 1300.1,871.2 1300.4,853.8 1300,870.3 1300.7,869.2 1301,864.4 1301.3,901.7 1302.5,854.8 1301.9,899.4 1301.6,847 1301.6,900.1 1303,867.9 1302.6,895.4 1303.5,883.5 1304.4,876.2 1303.8,852.5 1303.8,850.7 1304.9,844.4 1304.5,896.6 1305.3,891.5 1305.9,869.3 1306,890.1 1305.8,873.1 1307,893.7 1306.8,841.7 1306.9,896.3 1307.7,880.5 1307.6,858.4 1308.1,847.9 1309,878.3 1308.9,888.9 1309.3,859 1309.3,888.8 1310.1,878.7 1310.1,888.1 1310.2,858.6 1311.2,886.5 1311,898.2 1310.8,876.4 1312.1,879.8 1311.7,884 1311.6,875.4 1313,885.9 1313.4,904.4 1312.7,899.6 1314,873.9 1313.5,896.7 1313.7,859.3 1313.8,856.5 1314.8,861.5 1315,866 1315.3,901.8 1316.4,868.3 1316.2,890 1316.2,869.8 1316.7,892.3 1317.2,868.3 1317.2,851.5 1318.3,901.1 1318.5,856 1318.2,894.4 1317.6,884.5 1318.7,863.7 1318.5,867.2 1319.3,884.2 1320.3,905.9 1319.7,899.3 1320.4,888.6 1320.8,864.6 1320.9,874.9 1320.8,890.6 1322.1,870.4 1321.7,882.5 1322.2,890.8 1323.1,902.6 1323.3,880.7 1324.2,891.4 1323.8,867.5 1323.9,894 1325.3,874.1 1325,863.1 1325.1,881.1 1326.3,900.8 1325.6,905.8 1326.7,905.8 1327.5,870.2 1326.8,866.5 1328.4,895.8 1328.5,898.2 1327.9,896.7 1328.9,875.3 1328.9,893.1 1328.8,886.4 1330.1,897.2 1330,878.4 1331.1,879.3 1331.2,860.8 1330.7,857.2 1331.9,899.2 1332.1,887.7 1332.4,897.8 1331.8,865.1 1333,863.8 1333.1,855.3 1332.9,891.7 1333.8,857.4 1334.2,860.1 1334.4,884.7 1335.4,879 1335,862.2 1334.6,904.7 1335.7,849.5 1336.4,878.3 1336.1,902.4 1336.2,860.7 1336.8,885 1337.2,856.9 1336.7,875.4 1337.6,894.3 1338.2,850.2 1338.1,880 1337.6,869 1339.3,869.5 1339.2,854.1 1339.5,884.4 1340.1,836.5 1339.9,835.8 1339.9,848.4 1339.7,857.6 1340.6,854.5 1341,843.4 1341.1,903.7 1341.2,904.1 1341.6,882.1 1341.7,902.6 1342,886.6 1343.3,841.5 1342.6,893.1 1343.3,864.4 1342.5,833.3 1344.3,883.2 1343.9,881.9 1344.3,830.9 1344.2,904.7 1345.4,894.3 1344.9,873.9 1344.6,887.5 1345.2,859.1 1345.5,841 1345.9,893.5 1346,889.6 1345.7,846.3 1346.7,846.9 1347.3,852.4 1346.8,873.8 1346.9,887.2 1348.2,880.9 1347.9,852.2 1348,891.1 1349.4,861 1349,829.8 1349.4,863.7 1348.9,835.8 1350,867 1349.8,840.2 1350,854.1 1349.5,827.9 1350.9,864 1350.9,823.7 1350.7,834.2 1352.3,834.6 1352.5,838.1 1351.7,822.6 1352,851.2 1353.3,859.2 1353,823.3 1353.4,834.7 1353.7,829.2 1354.1,857.6 1353.8,834.1 1354.5,853.1 1355.2,824.8 1354.7,862.5 1355.2,825.8 1356.5,859.6 1356.2,835.7 1356.5,843 1357.1,875 1357.3,825.8 1356.6,827.8 1357.6,868.4 1358,842.9 1357.9,844.2 1357.9,858.4 1358.9,866.5 1359.3,866.6 1359.2,822.3 1359.9,864.1 1359.9,846.7 1359.7,863.1 1359.8,832.9 1361.3,813.3 1360.5,835.7 1360.9,814.9 1361.9,857.8 1362.4,868.2 1362.3,810.5 1361.9,835.9 1362.5,857.7 1362.8,857.7 1363.2,822 1362.8,834.8 1363.7,802.3 1363.9,817.7 1363.8,857.4 1365.2,829.9 1364.5,855.1 1364.8,807.7 1365.3,865.2 1365.8,838.5 1366.4,836.7 1365.8,810.7 1365.5,863.3 1367.3,811.5 1367.1,812.3 1367.2,825.5 1368.2,835.9 1367.6,838.4 1368.2,800.8 1367.5,816.9 1369.2,866.7 1368.9,858.2 1369.2,816.1 1368.9,857.2 1370,831.9 1370.2,806.2 1370,832.9 1371.1,844.4 1370.8,828.6 1371,801.9 1371.3,863.6 1372.1,823.2 1371.9,826.2 1371.9,813.1 1372.4,820 1372.7,840.1 1372.5,818.1 1373.1,851.7 1372.8,796.4 1374.5,792.5 1373.9,828.6 1374.5,817.4 1374.7,811.3 1374.9,801.2 1375.4,827.8 1375.2,810.7 1376.2,855.7 1375.7,858.8 1375.8,841.6 1376.4,823.3 1377.4,817.4 1376.9,855.6 1377.1,792.7 1377.6,826.6 1377.8,792.1 1378.3,811.5 1378.4,814.4 1378.7,817.6 1379.3,852.3 1379.1,805.2 1379,805.9 1379.9,786.6 1379.5,853.4 1380.3,803.7 1380.1,789 1381.3,829.4 1381.2,816.2 1380.9,844.1 1381.8,789.8 1381.6,850.5 1381.8,788.8 1382.1,793.5 1382.9,827.5 1382.7,807.4 1383.4,833 1383.4,785.3 1384.5,812.6 1383.7,835.7 1383.6,835.6 1384.5,785.3 1385,812.4 1385.1,823.1 1384.6,818.4 1385.8,826.2 1386.1,813.5 1385.6,824.2 1386.8,789 1386.9,815.5 1386.8,801.1 1388.1,790.2 1387.6,797.7 1388.2,810.4 1388.7,809.5 1389.3,811.6 1388.7,780.7 1390.5,811.9 1389.8,813.4 1391.1,808.3 1390.9,810 1390.9,796.8 1391.8,813.3 1392.4,792.6 1392.6,790.8 1393.3,795.6 1392.5,818.2 1393.9,782.3 1394.2,802.7 1395.3,817.9 1395.3,820.1 1394.9,816.7 1396,809.5 1395.7,808.2 1396.6,819.1 1396.7,805.7 1397.3,817.6 1398.4,799.1 1397.6,824.8 1398.8,819.3 1398.9,799.9 1399,804.7 1400.3,806.6 1399.7,804.1 1400.6,818.8 1400.7,796.5 1401.1,795.5 1402.4,816.3 1401.8,800.2 1403.2,804.4 1403.1,796.9 1403.1,807.9 1404.4,798.4 1404.3,792.6 1404.8,794.4 1405.4,788.8 1404.8,804 1406.2,812.2 1405.6,801.6 1407.2,792.9 1406.6,818.8 1406.5,790.5 1407.7,819.4 1407.8,804.4 1409,821.5 1408.5,795.7 1409.9,812.3 1409.6,804.7 1411.1,791.2 1410.8,791 1411.4,789.2 1410.7,811.3 1410.7,809.9 1411.8,825.2 1412.1,801.8 1411.7,806.5 1412.3,815.1 1413.2,807.8 1413.4,803.6 1413,823.9 1413.3,806.3 1414.3,857.7 1413.8,824.7 1414.3,822.4 1413.9,836.9 1414.6,812.4 1415.5,811.3 1415.3,789.7 1414.8,835 1415.8,873.1 1416.5,815.7 1415.6,871 1416.3,835.4 1416.6,790.3 1417.2,850.2 1417,819 1416.8,822.3 1417.9,843.7 1417.9,819.4 1417.7,848 1418.4,805.8 1418.3,846.8 1418.7,801.5 1419.3,802.7 1418.6,797.5 1419.3,823.1 1419.5,814.4 1420,831.6 1419.6,864.7 1420.2,813.7 1420.8,812.1 1420.5,843.5 1420.8,848.1 1421.3,817.9 1421.8,821.9 1422,793.7 1421.9,817.2 1421.6,863.4 1423.2,832.8 1422.6,854 1422.9,867.6 1423.1,810.7 1424.3,841.9 1423.9,860 1423.8,802.2 1423.5,843.8 1423.8,803.5 1424.5,857.9 1424.8,865.5 1425.4,861.9 1424.7,873 1426.1,864.4 1426.4,817.2 1425.9,868.9 1425.8,797.6 1426.5,838.3 1426.8,873.3 1426.5,824.1 1427.2,842.9 1428.3,846.6 1428.4,875.2 1428.4,842.3 1427.9,835.8 1428.7,810.6 1429,827.1 1428.9,795.3 1429.5,817.5 1429,819 1430.1,857.4 1430.4,841.5 1430.4,820.2 1430,817.7 1431.5,798.5 1430.7,855.8 1430.7,792.8 1430.9,828.6 1432,807.4 1431.8,812.3 1431.7,832 1431.7,803.8 1433.4,866 1432.9,834 1432.6,788.2 1433,871.3 1432.6,827.3 1434.3,787.4 1434.1,810 1434.3,860.3 1434.4,856.5 1434.6,845.5 1435.1,813.5 1434.7,828.9 1434.9,823 1436.5,807.2 1436.4,799.5 1436.2,826.3 1435.9,829.3 1436.6,806.2 1436.9,803.7 1437.3,848.5 1437.1,848.8 1436.7,787.4 1437.6,865.8 1438,873.8 1437.8,821 1438.1,862.5 1438.9,829.2 1438.9,807 1439.4,867.6 1438.9,797.9 1440.4,824.5 1440.2,820.4 1439.6,849 1439.6,865.6 1439.7,813.9 1440.5,800 1441.1,790.1 1440.6,787.6 1440.5,823 1441.7,833.5 1442.2,816.4 1442.4,848.4 1441.8,835 1442.2,794.6 1443.3,782.1 1443.2,821.3 1443.2,811.9 1443.2,799 1443.6,796.8 1443.8,816.8 1444.4,824.1 1443.8,820.6 1445.4,779.1 1445,782.6 1444.6,799.1 1445.2,786.6 1445.8,799.9 1446,782 1445.7,776.6 1446.8,824.9 1446.7,812.6 1447.1,818.1 1448.3,773 1447.8,816.2 1448.1,817.4 1448.5,815.7 1448.9,812.6 1449.1,786.2 1449,766.1 1450.4,817.6 1450.1,803.4 1450.2,790.5 1450.7,803 1451.5,817.1 1451.3,772.1 1451.8,778.4 1452.1,819 1452.1,798.3 1451.9,771.6 1452.8,824.3 1453.4,802.2 1453.2,773.7 1453.5,758.8 1453.5,771 1454.5,796.6 1453.7,763.4 1454.5,756.5 1454.6,779.1 1454.7,771.6 1456.1,764.1 1455.6,809.3 1455.8,799.3 1455.8,804 1456.5,774.4 1457.4,775.9 1457.1,770.2 1457.6,785.3 1458,758.4 1458,785.2 1457.9,808.3 1459.4,784.3 1458.8,809.2 1459.3,791.4 1460.1,780 1460.2,796.1 1460.4,777.2 1460.6,815.6 1461.1,811.2 1461.2,809.2 1460.9,815.5 1462.1,784.8 1461.7,763.9 1461.7,779 1462.8,799.2 1463.5,795.4 1463.2,758.6 1463.2,793.4 1464.3,781.4 1464.1,792 1464.3,786.9 1465.3,815.5 1465,791.5 1465.2,792.7 1466.5,819.7 1466,803.7 1465.6,817.8 1467.1,761.2 1466.5,813.9 1467.3,799.2 1466.9,775.2 1468,817.8 1468.1,762.8 1467.7,765.3 1469.4,813.9 1469.4,787.5 1468.8,764.2 1469.8,782.4 1469.9,782.1 1470.2,814.5 1470.9,811.8 1470.8,778 1471.3,767.1 1470.6,822.6 1472,787.1 1472.3,816.2 1471.9,811.1 1472.6,815.9 1472.9,786 1472.5,767.2 1473.9,770.5 1474.2,822.1 1473.8,807.8 1475.1,800.1 1475.3,792.4 1475.3,773.6 1476.2,795.5 1475.7,778.5 1476.4,801.5 1477,794.5 1477.3,801.8 1476.7,818.6 1478.3,810.2 1478.2,804.3 1477.8,820.8 1479.2,777.8 1479.3,791.7 1478.6,815.8 1479.7,792.1 1479.6,797.3 1480,812.8 1481.5,816.2 1481.2,791.7 1481.4,783 1481.8,801.1 1481.9,801.2 1481.6,784.9 1482.5,795.4 1482.7,814.7 1482.8,783.4 1484.2,784.6 1484.3,801.5 1483.6,810 1485.5,791.4 1485.1,803.3 1486.5,826.4 1485.6,796.2 1486.3,798.1 1487,806.5 1486.5,780.2 1487.4,798 1487.9,807.2 1488.3,823.7 1487.6,810.8 1488.5,807.1 1489.3,803.7 1488.9,822.8 1490.2,826.7 1490,795.4 1490.2,804.7 1490.5,786.3 1491.5,813.4 1490.5,819 1492.3,782 1492.5,788.8 1492,817.6 1493,798.5 1493,813.9 1494.5,827.5 1494.5,823.3 1494,798.8 1495.4,829.5 1494.8,822.1 1494.8,782.5 1496,828.1 1496,823.5 1496.3,822.6 1496.8,828.6 1496.6,806.7 1496.6,800.1 1498.4,823.1 1498.5,809.6 1498,788.4 1499,828 1498.8,825.2 1499.8,822.2 1499.7,830.9 1499.6,783.8 1501.1,820.8 1501.2,801 1501.2,790.3 1501.8,794.8 1501.7,781.8 1501.7,808.2 1503.1,797.2 1503.1,796.9 1503.3,780.2 1504.3,826.8 1504.1,813 1505.5,787.1 1504.6,806.1 1505.2,807.6 1506,802 1506,825.2 1505.6,813.7 1506.6,823.3 1506.8,821 1506.8,812.5 1508,829 1508,806.2 1509,792.8 1509.4,797.5 1508.7,790.7 1510.2,825.9 1510.1,828.6 1509.7,825.1 1511.3,791.3 1510.6,801.8 1510.9,805.1 1512.2,792.2 1511.8,797.3 1512.7,802.8 1513.1,794.5 1512.6,816.9 1513.6,823.1 1514.1,792.4 1513.5,822.4 1514.5,817.9 1515,814.9 1515.7,816.7 1515.8,810 1516.5,810.3 1516.7,793.6 1516.9,821.3 1518.3,800.7 1518.1,799 1518,797.2 1519.4,800 1518.8,811.5 1518.7,787.9 1519.9,820.8 1519.9,795.9 1520.8,810.5 1520.8,807.4 1521,785.1 1521.8,820.2 1521.7,817.1 1522.6,805.4 1522.9,812.6 1522.5,789.2 1523.9,824.2 1524,821.8 1525,827 1524.6,821.9 1524.8,793.8 1526,802.7 1526.5,824.9 1527.2,795.7 1526.7,804 1527.8,795 1527.7,796.9 1527.8,790.5 1528.8,825.6 1529.3,811.8 1530.5,825.1 1529.6,788.3 1529.8,808.3 1531.5,787.5 1531.2,819.1 1531.8,818 1532.4,790.2 1533.2,806 1533.3,792.6 1533.2,786.9 1533.5,804.4 1533.8,804.4 1533.7,828 1534.9,807.3 1534.9,823.4 1534.7,825.6 1535.7,822.7 1535.9,809.4 1535.7,820 1536.7,817 1537.2,823.3 1537.5,817.9 1536.7,818.7 1537.6,817.2 1538.4,774.6 1537.5,817.2 1538.9,806.7 1539.3,825.4 1539,818.3 1539.4,813.3 1539.9,823.6 1539.9,822.5 1539.9,792.2 1539.5,764.5 1541.4,789.1 1541.2,790.5 1541.2,794.2 1540.6,778.6 1542.1,765.3 1542.4,758 1542.1,820.1 1542.2,764.5 1542.6,807.2 1542.9,759.3 1542.6,803.9 1542.5,774.3 1544.4,770.2 1544.4,752 1543.7,753.9 1544.2,795.6 1545.3,809.5 1545.2,756.3 1545,750.6 1545.3,776.5 1546,808 1546.5,788.2 1545.9,806.7 1546.3,761.2 1547,804.2 1547.5,802.1 1547,754.9 1547.4,757.6 1548.1,764.9 1548.3,763.7 1547.9,790.9 1548.2,799.4 1548.6,748.9 1549.2,770.2 1549.4,768.3 1548.5,769 1549.7,787.5 1550.3,791.3 1549.6,773.3 1550.7,798.2 1550.6,778.9 1551.2,752.4 1551.1,747.7 1551.6,758.7 1551.6,767.6 1552.2,795.2 1552.8,770.7 1553.2,761.8 1552.8,764.9 1554.3,765.7 1554.3,754.3 1553.8,761.9 1554.7,756.6 1554.9,790.2 1555.2,799.4 1555.8,765.6 1555.7,774.9 1555.6,790.3 1556.9,754.5 1557,773 1556.7,767 1558.2,800.4 1558.1,766.3 1558.5,770.9 1558.7,775.2 1558.9,768.9 1559.7,798 1560.4,789.3 1560.4,782.6 1561.2,778.5 1561.2,795.1 1562.2,793.6 1562.1,776 1562.3,797.5 1562.7,770.7 1562.5,773.6 1563.7,772.1 1563.7,776.4 1563.7,800.6 1564.6,765 1565.4,778.9 1566.2,776.6 1565.5,765.9 1567.4,766.4 1566.9,774.6 1568.1,779 1568.3,772.8 1568,802.3 1569,801.5 1568.5,798.7 1569.9,804.7 1570.2,774.7 1570.3,771.1 1571,795.5 1570.7,766.6 1572.3,772.3 1572.3,784.7 1571.7,801.8 1572.9,775.8 1573.4,809 1572.8,808.4 1573.6,801.3 1574.1,775.2 1574.9,779.1 1575.2,784.2 1574.9,796.3 1575.8,767.5 1576,807.4 1575.7,777 1577.4,771.6 1577.5,779 1576.7,801.2 1578.4,788.3 1577.8,769.9 1577.5,801.3 1579.2,780.4 1579,805.7 1579.2,801 1580.4,776.6 1580.5,798.8 1579.8,802 1579.8,786.3 1581.3,809.9 1581.1,809.9 1581.4,784.3 1581.6,819.2 1581.6,787.2 1581.6,793.2 1582.3,760.8 1583,783.8 1583.2,817.4 1583.2,760.6 1583.9,787.5 1583.7,815.5 1583.9,780 1583.7,792.6 1585.3,761.4 1585,774.8 1584.6,782.1 1586.1,797.2 1586.5,803.7 1586.4,805.5 1586.2,818.1 1587.4,807.3 1586.8,772.1 1587.4,753 1586.9,813.4 1587.8,787.6 1587.8,798.3 1588.3,754.5 1587.9,814.6 1588.9,823.7 1588.8,787.6 1588.7,815.4 1590,811.9 1590.2,768.2 1590.4,753.1 1590.4,808.7 1590.7,792 1590.8,783.6 1591.4,782.4 1591.1,750.2 1591.6,783.7 1591.9,820.2 1592.1,816.6 1592.1,820 1592.8,746.6 1593.3,797.6 1592.7,762 1593,817.3 1594.2,778.8 1594.1,771.9 1593.9,758.4 1594.2,745.3 1595,749.8 1594.6,805.5 1595.4,784.8 1595.5,801.3 1596,793.1 1595.5,751 1596.2,773.9 1596.5,764.3 1596.8,761 1597.4,788.4 1596.8,749 1597.1,744.9 1598.4,757.1 1598.3,814.3 1597.8,791.8 1598.2,781.3 1598.9,815.2 1598.8,789.9 1598.5,790.2 1599.5,776.4 1600.2,770.7 1599.9,775.9 1600.4,770.7 1599.5,787.7 1601.1,791.4 1601,768.3 1601.2,764.8 1601.8,759.7 1601.6,761.8 1602.2,775.5 1602,763.5 1602.8,795.4 1603.4,757.2 1603.2,814.6 1603,810 1603.7,801.1 1603.6,762.7 1603.6,748.3 1604.3,771.7 1604.9,796.4 1604.8,804.6 1604.7,812.3 1606.4,780.7 1606.4,802.4 1606.5,767.9 1605.9,768.3 1606.9,783.5 1607.4,769.8 1607.1,766.7 1607.9,753.6 1608,786.5 1608.1,801.2 1609,766.9 1609.4,774.2 1608.7,780.3 1610.2,766.5 1609.7,756 1610.1,772.7 1611.3,760.3 1611.1,759.8 1610.7,757.7 1612.1,792.7 1611.9,798.1 1612.3,800.4 1613.1,776.6 1612.9,796.3 1612.8,765 1614.5,803.9 1614.2,798.1 1613.6,794.8 1615.1,767.8 1614.8,789.2 1615.4,793.1 1615.5,783.9 1615.8,763.9 1615.6,783.6 1616.8,769.9 1617,801.2 1616.8,783.3 1618.1,793 1618.3,763.8 1618.4,755.4 1619,791.9 1619.4,770.4 1619.2,789.9 1619.5,792.6 1620.3,758.9 1620.8,775 1621.4,803.9 1620.7,773 1621.6,754.1 1621.7,802.6 1622.4,762.2 1623.1,786.1 1622.9,797.6 1622.6,766.1 1623.6,800.9 1624.3,775.8 1623.6,797.8 1625.3,798.6 1625.4,787.4 1625,794.9 1625.6,796.3 1625.8,773.5 1626.4,748.8 1625.8,794.9 1626.9,799.7 1627.2,759.3 1627,766.9 1628.2,787.5 1628,747.6 1628.4,754.1 1629.1,793.9 1629,743.4 1629,746.6 1628.7,753.7 1629.7,776.7 1630.3,767.4 1630.5,742.3 1629.8,759.3 1631,782 1630.8,764.8 1630.9,758.7 1631.6,786.8 1631.5,762.9 1631.7,762.6 1632.2,790.5 1633.4,777.2 1632.8,731.1 1632.6,796.7 1633.9,758.7 1633.9,755.4 1633.7,751.3 1634,764.5 1634.6,738.5 1634.5,765.3 1635.1,796.3 1634.9,775.6 1636.3,770.2 1636,741.1 1636.2,784.7 1636.8,779.6 1636.7,737.9 1636.8,771 1636.9,748.6 1638.5,782.1 1637.8,734.9 1638.2,798.9 1638.2,781.1 1639.5,780.6 1638.6,764.1 1638.9,772 1639.7,774.5 1640.2,748.9 1640.1,754.1 1640.2,763 1641.5,762 1640.5,733.8 1641.2,735.6 1641.3,764.1 1641.8,757.2 1642.3,766.3 1641.9,761.5 1643.1,759.6 1643.2,756.4 1642.8,736.8 1643,741 1643.7,740 1643.9,789 1644,746.9 1645,758.2 1644.6,781 1645,792.8 1645.1,744.2 1646.5,735.3 1645.7,737.4 1645.7,736.8 1647.4,737 1647,737.1 1646.8,733.8 1646.9,745.6 1648.2,789.3 1647.7,756.9 1648.1,789.1 1648.6,768.4 1648.9,758.9 1649.2,770.8 1649.9,777.9 1650.1,742 1649.7,740.1 1651.3,780.6 1650.7,764 1650.6,731.5 1652.2,761.6 1651.9,754.2 1652,750.7 1652.8,784.5 1652.6,763.5 1652.7,749.7 1653.5,736.2 1654.1,729.4 1653.9,764.6 1654.1,733.7 1654.9,747.1 1655.3,779.7 1655.1,774.9 1655.9,786.3 1656.2,781 1655.7,769.2 1657.2,769 1657.4,740.9 1656.6,760.9 1657.7,785 1658.4,755.9 1658.3,763.9 1659.4,759.9 1658.7,786.1 1658.8,733.9 1660.3,765.6 1660.4,740.1 1660.4,776.1 1661.1,727.9 1661.3,748.9 1660.6,746.3 1662.4,745.4 1662,779.7 1662.2,748.7 1662.8,758.4 1663,768.9 1663.1,736.9 1663.4,773.4 1664,733.5 1664,776.5 1663.8,744 1665.2,768.6 1665.3,747.5 1665.2,737.4 1665.5,764.8 1665.7,776.4 1665.8,743.1 1667.3,722.4 1667.5,741.4 1666.5,741.8 1666.6,736.6 1668,755.2 1667.7,783.2 1667.6,726.2 1668.8,718 1669.4,728.1 1668.5,758.3 1668.8,725.7 1670,728.8 1669.6,750.1 1669.7,739.4 1671,781.8 1671.1,753.3 1670.8,746.1 1670.8,772 1672.4,770.7 1671.9,762.8 1671.8,767.7 1673.5,724.5 1672.6,781.1 1673.1,766.7 1673.3,768 1673.6,728.8 1673.9,772.2 1674.2,726.5 1674.6,766.4 1675.4,711.5 1674.8,717.8 1674.9,711.1 1675.9,720.6 1675.6,777.3 1675.7,774.2 1676.2,733.1 1676.9,733.6 1676.8,747.9 1676.6,749 1678,719.2 1678.5,726.2 1678.1,756.8 1678.2,746.8 1679,734.5 1679.2,708.9 1679.1,763.8 1679,738.6 1680.2,758.7 1679.8,746 1680.3,747 1680.7,772.1 1680.8,748.2 1680.6,750.4 1681.1,766 1681.7,704.7 1681.8,732.4 1682.2,724.2 1683.3,759.7 1682.5,768.7 1682.6,720.4 1682.6,756.3 1684.5,720.4 1684.1,765.9 1684.3,719.8 1685,762.1 1685.4,734 1685.1,707.3 1684.9,754.9 1685.5,715.3 1686.1,703.7 1685.7,751.4 1686.7,734.5 1687.4,736.5 1687.2,706.5 1688,736.7 1688,733.3 1687.6,742.2 1687.8,747.9 1688.8,761.5 1689,756.3 1689,720.3 1689.9,720 1690,725.4 1689.8,767.1 1691.5,735 1691.1,755.4 1691.1,728.7 1692,754 1691.6,728.2 1691.6,738.3 1691.5,730.1 1692.6,723.4 1693.5,716.4 1692.9,754 1693.7,715.7 1693.9,741.4 1693.7,717.6 1694.6,718.3 1694.9,739.9 1694.8,735.4 1695.3,719.1 1696.2,750.8 1696.4,749.5 1696.1,742.7 1696.9,759.7 1696.7,724.1 1696.6,734 1698.4,742.8 1697.5,758.8 1697.6,712.7 1698,701.2 1699.3,745.6 1699.5,742.9 1698.9,714.9 1699.8,741.6 1700.3,711.8 1700,743 1700.7,746.9 1700.8,722.4 1700.7,763.3 1700.5,719.8 1702.1,733.1 1701.7,733 1702,735.8 1702.9,709.8 1703.2,720.9 1703.3,721.3 1703.4,715.3 1704.1,764.5 1703.8,753.2 1704.1,698.5 1705.1,723.7 1704.6,753 1705.2,762.1 1705.6,722.6 1706.1,721.4 1705.6,723.1 1705.9,731.6 1706.9,726.4 1707,744.6 1706.7,730.6 1708.3,751.1 1708.3,761.3 1708,755.1 1708.3,722 1709.3,730.9 1709.1,708.6 1709.2,720.4 1709.9,733.7 1710.3,764.6 1710.4,743.4 1710.8,734.9 1711.1,721.9 1711.4,719.1 1711,764.4 1711.7,726.8 1712.4,761.7 1711.9,745.6 1713.1,703.9 1713.4,757.6 1713.4,712.6 1714,753.8 1714.4,756.3 1713.6,744.5 1713.8,707.6 1715,703.6 1714.8,727.5 1714.9,720.1 1716,732.7 1715.7,714 1715.8,699.7 1717,759.4 1716.7,758.1 1716.9,728.8 1717.3,728.2 1718,760.5 1717.6,728.2 1717.8,731.9 1719.1,742.5 1718.8,757.5 1719.5,748 1720.1,746.2 1719.6,735.9 1719.9,718.6 1720.2,721.5 1721.4,705.7 1720.8,725.7 1720.6,706.4 1722.2,713.6 1721.6,735.6 1722.4,731.1 1723.1,714.2 1723.4,738 1723.3,726.3 1723.7,722.2 1723.9,729.1 1723.6,710 1725.1,707.1 1724.7,724.3 1724.9,736.2 1726.5,723.8 1726.1,718.5 1727.1,715.8 1727.4,720.9 1726.7,717.4 1728.3,702.9 1728.5,728.3 1729,711.3 1728.8,713.4 1730.2,721.5 1730,713.9 1729.9,706.6 1730.9,721.8 1730.5,728.9 1731.5,714.1 1731.8,716.3 1732.8,716.6 1732.5,723.2 1733,720.5 1733,706.1 1733,713.5 1733,710.6 1733,708.4 1733,706.2 1733,707.1 1733,706.1 1733,707.1 1733,705.6 1733,705.5 1733,706.3"/><polyline fill="none" stroke="none" marker-start="url(#md)" marker-mid="url(#md)" marker-end="url(#md)" points="479.5,862.5 483.3,863.3 486.2,865.2 488.5,864.1 492.4,867.6 495.4,862.9 498,865 500,868.2 502.5,863.7 504.8,866.6 508.3,856.4 510.3,852.2 512.1,847.9 513.5,855.2 515.7,842.4 518.5,854.4 519.8,856.5 522,849.5 523.7,857 525.2,858.1 527.4,838.8 527.9,836.1 528.6,834.3 530.8,852.3 531.5,855.4 533.8,843.8 535.3,849.9 535.8,849.4 538.2,833 539.5,831 540.2,858.3 541.5,854.5 542.9,846.6 544.5,827.1 545.7,853.8 546.7,845.8 549.4,846.7 549.8,830.3 552,836.5 552.6,833.7 555.3,829.8 556.5,824.6 557.6,817.4 561.1,820.6 562.8,811.5 567,810.6 569.8,812.6 571.6,814.1 575.2,818.3 577.7,817.1 581.5,817.6 583.9,813.2 587.1,813 589,810.8 591.6,810.1 593.5,806.4 596.3,802.5 599.2,806 601.1,803.5 602.6,799.8 604.6,801.5 607.8,797.4 610.5,798.6 612.5,795.1 615,793.8 617,791 618.9,788.2 620.9,789.9 623.5,786.3 625,782.8 626.6,780.7 629.3,786.5 630.9,785.1 633.3,784.9 634.2,786.6 635.9,787 636.8,783.5 638.3,788.3 639.8,795.6 641.1,788.6 641.5,788.7 643.8,793.4 645,797.8 646.1,797.5 647.8,794.2 649.2,798.5 649.9,798.9 652.4,795.9 653.5,801.4 655,793.6 655.7,798.8 658.4,793.9 659.2,797.3 661.2,792.1 663.3,796.9 665.2,796.7 667.1,798.8 669.1,798.4 671.5,797.2 673.9,797.3 675.7,796.5 679.1,793.7 681,792.9 682.6,791.3 684.8,790.1 686.7,788.1 689,788.6 691.1,788.7 692.7,789.1 694.5,786 696.8,784.5 698.6,784 700.9,781.9 703.1,779.5 705,778.3 707.1,777.7 709.3,775.2 711.3,774 711.9,772.4 714.1,772.6 716.5,774.2 718.1,769 719.4,763.4 719.6,768.5 721.1,760.4 722.1,772.5 722.9,762.2 723.7,757.2 725.5,757.8 726.5,772.2 727.1,752.5 728.5,759.6 728.9,754.2 730.5,759.5 730.8,758 731.6,760.4 732.9,751 734.3,761.4 734.5,753.7 735.8,758.7 737.3,746.8 737.8,745.1 739.5,745.6 741.1,744.8 742.1,744.6 744.2,742.2 746.3,741.3 748,740.3 748.8,740 751,738.5 753.2,736.6 753.5,734 756,735.2 757.4,731.7 757.5,732.3 758.9,729.5 761.2,727.8 762,729.9 762.9,723.3 764.4,720 764.8,726.5 766.6,724.8 768.2,718.8 768.8,722.4 770.4,712.9 771,718.3 772,714.1 772.7,717.9 774.3,709.1 774.7,722.3 777.3,720 777.5,721.1 779.5,725.3 780.2,712 781.3,714.8 782.1,724.7 784.2,714.6 784.8,724.3 785.6,720.5 786.9,714.9 789.1,713.5 789.6,718.1 790.6,713.5 792.1,725.5 793.4,714.7 792.9,718.2 794.1,722.4 795.4,720.4 795.6,729.2 796.7,728.5 797,736.3 798.1,729.2 798.8,727.9 799.8,734.5 800,714.3 800.7,721.7 802.2,715.2 803.2,730.5 802.6,730.9 803.6,712.9 805.1,716.6 805.4,724.5 805.8,734.6 806.5,732.2 807.6,714.2 808.5,730.7 808.7,713.2 810.5,730.1 811.3,714.2 811.1,720.6 811.7,720.1 813.1,719.8 813.9,713.7 815.3,725.3 815.3,720.3 816.4,721.1 817.1,721.1 818.2,716.9 818.6,709.7 818.7,709.8 820.4,715.3 821.3,707.2 822,717.3 823.1,710.1 824,705.3 824.7,704.8 825.9,705.9 827.4,702.7 827.8,703 828.7,702.2 829.7,703.5 830.5,707.5 831.9,707 833.2,703.6 834,705.9 834.6,702.3 836.8,701.1 838.2,694.8 838.7,692.7 839.7,692.6 840.9,701.8 841.9,693.7 843,692.6 844.2,696.2 844.7,690.7 846.2,696.3 847.1,690.8 848.5,686.2 848.6,691.9 849.9,684.7 851,691.6 852,685.4 852.6,682.2 854.4,684.6 855.4,680.3 855.7,679.3 856.9,678.5 857.8,680.3 859.8,675.8 860.5,681.8 861.7,677.4 862.9,676.8 863.6,674.2 864.6,675.7 866.4,675.7 867.4,670.7 867.5,673.9 869,673.6 868.9,674.4 870.2,677.9 870.8,670.3 872.3,665.7 872.6,666.2 873.6,674.1 874.3,665.2 874.6,660.6 875.7,661 876.9,670.3 877.7,661.2 879.2,661.2 878.7,665.4 879.9,662.4 880.9,666.4 882.3,670.6 883.4,672.6 883.3,671.2 883.9,677.1 885.2,681.8 886.2,678.3 885.8,680.7 886.9,666 886.6,667 887.8,680.9 888.8,665.3 889.3,679.1 889.5,665.3 889.6,674.5 891.4,694.3 891.1,671.5 891.9,676.9 892.8,666.2 893.1,694.4 894.2,670 894,672.8 895.2,684.1 895.4,697.1 895.6,680.6 896.4,686.1 896.9,686.8 897.3,706.6 898,708.5 898.1,674.2 899.3,687.2 898.6,708.9 899.5,693.7 900,705.3 900.9,680.7 900.8,680.1 902.1,686.3 902.3,682 902.9,682.5 903.5,704.2 904.3,696.2 903.9,679 905.3,691.8 905.5,680.5 905.6,700.1 907.4,681.8 907.3,686.3 908.2,705.5 908.1,703.3 908.9,675.8 909,696 909.7,689.2 909.8,676.6 910.8,689.1 912,700.4 911.9,710.2 913.3,708.1 913.2,699.2 914,702.6 913.9,695.7 915.2,692.6 914.8,678.2 915.6,686.7 917.1,698 917.2,684.3 918.4,682.4 918.2,676.4 919.3,693 919.5,699.6 920.2,696.6 920.2,690 920.7,685.9 921.4,678 922.5,685.2 921.9,670.2 922.9,673.9 924.2,691.8 924.4,684.2 924.9,669.6 925.2,681.2 926.2,675.2 926.4,671.1 926.8,671.6 928.1,685.3 927.7,679.2 929.3,668.9 928.6,676.4 930.3,681.8 931.2,671.1 930.9,673.3 932.4,667.9 932.8,672.4 933.5,665 933.5,663.3 935.1,670.1 934.7,663.9 936.1,669.6 937.2,669.4 937.6,665.4 939.3,669 938.8,668 940.1,667.2 940.7,664 942.3,661.8 942.6,659.7 943.7,658.7 944.7,661.7 945.6,662.3 947.2,662.3 948.3,661.7 949.4,663.2 951.1,663.3 951.6,657.8 952.6,658.5 953.9,660.1 955.2,662.1 955.6,659.9 957,659.7 957.6,661.4 958.9,661.6 960,662.9 961.4,657.2 962.3,660.5 962.8,657.2 964,658.1 965.2,659.9 965.9,657.4 968,657.8 969.3,657.2 969.8,656.6 971.3,656.6 972.6,656.5 973.7,656.6 974.6,656.3 975.6,656.4 977.5,656.3 977.9,657.2 978.6,653.9 980.3,649.6 981.3,651.8 980.5,650.5 982,651.1 983,644.9 982.7,660.1 983.9,651.4 984.6,647.4 985.5,655.3 986,642.1 986.9,657.2 986.9,653.1 988.4,654.2 988.1,639.8 988.5,657.2 988.9,659.8 990.3,661.2 989.9,663.4 991.3,660.8 991.6,658 991.9,663.6 993.5,641.4 992.9,643 994,644.1 994.2,639.2 994.7,650 994.6,647.7 996.4,663.4 995.7,637.7 997.3,666.2 997.1,641.9 997.7,665.4 998.4,639.5 998.7,651.6 998.8,660.9 999.9,661.1 999.7,654.1 1001.5,658.7 1000.6,643.6 1002.1,650.5 1001.9,653 1003.1,663.9 1003.7,654.1 1003.8,653.6 1005.2,644.3 1005,656.5 1005.5,657.1 1006.9,651.2 1007.1,656.8 1007.6,650.6 1007.5,648.5 1008.8,641 1008.8,648.6 1010.2,655.5 1010.9,646.8 1011.2,654.2 1012.4,653.7 1011.8,638.6 1013.4,635.2 1012.9,647.6 1014,639.5 1014.4,637.8 1015.1,646.5 1015.6,635.7 1016,639.9 1016.7,636.2 1016.6,628.9 1017.8,628.8 1018.5,631.1 1018.8,640.1 1019.2,629.8 1020.3,635.6 1020.9,634.4 1020.7,627.3 1022.4,629.4 1022.4,624.3 1022.6,620.6 1023.2,629.9 1023.5,619.1 1024.3,626.4 1025.4,617.7 1026.1,617.3 1026.2,623.2 1027.1,616.8 1027.4,615.7 1027.6,618.8 1028.6,612.8 1029,616.5 1030.4,615 1030.6,612.9 1032.3,610.6 1032.3,611 1032.8,609.4 1034.3,611 1035.4,610.5 1035.7,609.1 1036.8,612.6 1037.7,608 1038.9,607.8 1039.9,610.5 1041.2,607.9 1041.6,609.4 1043.2,609 1044.1,611.5 1044.6,608.1 1046,609.5 1047.4,609.7 1048.2,609.2 1049.3,610.9 1049.8,608.3 1050.8,609.3 1052.4,609.2 1054.1,610.3 1055.5,609.4 1056.3,609.9 1056.6,610.3 1058.3,610.4 1058.5,610.7 1060.9,613.2 1062.2,612.6 1061.9,613.2 1062.6,611.4 1064.2,613 1065.4,612.5 1064.8,613.4 1066.4,621.4 1066.4,618.2 1066.6,619.4 1066.7,613.6 1068.1,619.1 1067.6,623.3 1069.4,635.5 1069,616.6 1070.3,617.9 1070,617.1 1071.5,630 1070.9,622.7 1072.1,641.6 1072.9,622.3 1073,640.2 1073.9,633.3 1074.4,625.8 1075.3,631.2 1074.6,619.9 1076.4,630.1 1075.9,640.4 1077.1,631.3 1076.8,636.7 1077.8,631.1 1079.3,634.3 1078.6,626.2 1080.2,637 1079.6,642.3 1080.6,626.2 1081.6,631.6 1082.1,639.5 1082.7,636.5 1082.6,634.2 1083.8,629.8 1084.6,636.9 1084.6,637.7 1085.8,634.4 1087.1,632.3 1087.4,640.7 1087.8,629.4 1088.4,625.3 1088.9,631.4 1089.5,625.3 1090.2,639.6 1090.2,622.5 1091.4,629.9 1091.4,638.1 1091.9,643.2 1093.2,631.2 1093.2,635.5 1094.2,639 1094.3,626.5 1094,622.2 1095.3,644.1 1095.3,623.4 1096,636.2 1095.6,628.1 1097.5,648.3 1096.7,647.6 1098.2,634.2 1098.1,629.2 1098.8,622.1 1099.2,640.9 1100.2,638 1099.9,631.7 1100.2,633.8 1101.1,645.9 1100.9,643.6 1101.6,629.8 1102.3,626.3 1102.6,622 1103.3,624.8 1104,634.8 1104.3,636 1105,621.5 1105.3,644.6 1105.1,646.6 1106.1,642.5 1106.4,639.4 1106.5,647.3 1107.5,626.1 1107.6,629.9 1107.6,630.9 1108.6,625.8 1108.5,632.2 1109.8,641.1 1109.9,623.7 1111.5,645.5 1111.2,624.7 1110.9,631.9 1111.9,618.4 1112,639.9 1113.2,638.4 1113.2,636 1114.4,635.4 1114.3,625.2 1115.2,626.8 1115.4,627.7 1115.9,618.1 1115.8,618.8 1117.2,621 1116.7,619.2 1118.3,614.4 1117.6,614.7 1118.9,606.3 1118.8,602.9 1119.6,609.6 1119.6,600 1121,614.5 1122.3,603.4 1122.4,602.9 1122.7,599.9 1123.6,602 1125.3,600.1 1126.3,599.6 1126.4,601.2 1127,596.1 1127.9,598.9 1128.3,596.3 1128.8,603.6 1129.6,599.6 1129.7,601.5 1131.1,592.7 1132.2,597.1 1131.8,604.4 1133.3,595.1 1134.2,591.3 1134,590.5 1135.1,605.9 1135.1,589 1136,597 1135.9,590.6 1136.8,596.3 1137.6,601 1137.7,592.5 1138.6,592.3 1139.4,592 1139.6,592.9 1140.4,586.7 1140.8,589.1 1141.2,595.4 1141.6,605.6 1141.8,601 1143,606 1142.6,588.5 1143.8,589.4 1144.3,596 1144.8,596.6 1145.3,598.3 1146,601.1 1146.1,594.4 1146.9,588 1146.9,607.9 1146.8,594.2 1148.1,601.5 1147.7,597.5 1149.2,587.2 1148.6,607.4 1150.4,588.7 1149.6,604.7 1150.8,606.3 1150.5,600.6 1151.7,597.8 1152.2,602.9 1152.4,612.3 1153.1,613.2 1152.7,602.6 1153.8,607.6 1153.6,615 1154.9,612.9 1155.4,617.3 1155.9,615.7 1156.5,595 1157.2,612.7 1157,600 1157.7,604.4 1158.4,604.1 1157.8,610.3 1158.9,610.6 1159,601 1159.5,617.1 1160.2,599.9 1161,610.5 1161,620.3 1162.3,602.3 1161.8,611.8 1162.7,622.6 1162.5,608.7 1162.8,609.5 1163.5,600 1164.5,618.4 1164.7,607.6 1164.5,596.4 1165.7,624.9 1165.8,600.4 1166.6,595.2 1167.5,614.9 1167.4,617.8 1168.3,598.9 1167.7,599.3 1168.6,595.9 1169.2,604.3 1169.5,598.4 1170.3,611.7 1170.2,608.8 1171.4,603 1170.9,603.4 1171.8,591.1 1171.8,599.5 1172.6,591.5 1173.7,595.2 1174.5,597 1175.3,598.7 1175.1,593.4 1175.9,592.2 1176.1,597.6 1177.3,591 1177.6,588.4 1178.1,589.6 1178.5,588.9 1179.7,587.1 1180.2,590.2 1180.8,591 1181.7,592.6 1181.6,589.1 1183.2,590.2 1184,591.7 1184.1,589.2 1184.6,580.8 1186,585.6 1185.6,589 1186.8,583.5 1187,590.4 1187.8,584.3 1188.1,586.3 1188.8,577.2 1189,584.5 1190.1,572.6 1189.9,583.5 1189.7,571.8 1191.4,568.4 1191,576.8 1191.5,576.1 1191.7,580.7 1192.4,569.3 1192.9,592.4 1193.1,567.6 1193.7,577.3 1194.4,583.1 1193.8,584.5 1195,572.8 1195.2,593 1196,586.4 1196.3,600.9 1197.1,569.7 1197,590.6 1196.8,591.3 1197.9,589 1198.1,590.7 1199.4,591.8 1199.2,591.7 1199.7,588.7 1200.1,571.2 1200.3,576.4 1201,585.8 1201.2,593.2 1202,598.3 1201.9,587 1203.5,579.8 1203.2,598.4 1203.6,592.9 1204.2,586.1 1205.3,594.5 1204.6,584.2 1206.1,589.4 1206.5,592.2 1207.3,572.4 1206.9,594.3 1208.4,589.5 1207.8,589.8 1209,586.7 1209.1,591.4 1210.2,593 1210,582.1 1211.2,582.5 1210.5,591.8 1211.8,579.9 1211.5,572.6 1213.4,573.4 1212.8,586.3 1212.7,582.9 1214.1,587.4 1214,573.5 1214.8,573.1 1214.5,567 1215.6,570.7 1216.3,586.6 1216.9,567.8 1216.8,577.6 1218,563.1 1218,567.1 1218.6,579.6 1218.6,570.4 1220.3,572.2 1220.4,566.1 1220.4,558.6 1221.4,568 1220.5,563.3 1222.5,575.4 1222.2,578.2 1222.5,562.5 1223,580.4 1224.4,556.6 1224.5,568.9 1223.8,554.6 1224.9,567 1225,560.4 1226.4,565.2 1225.8,574.5 1226.7,563.3 1226.6,557.6 1228.5,568.9 1228,570.5 1229.2,565.6 1228.9,554.5 1229.5,553.5 1229.9,550.2 1230.2,559.9 1230.7,559 1231,555.9 1232.4,563.7 1231.6,552.1 1233.4,566.2 1232.8,570.2 1233.5,574.9 1234.4,568.4 1234.6,561.2 1235.3,566 1235.7,555.2 1235.6,563.6 1236.7,561 1237.4,574.2 1238,570.4 1237.6,575.1 1239.4,561.3 1239.4,555.9 1239.5,556.6 1240.4,571.3 1240.4,568.1 1240.6,554.6 1241.2,573.1 1242.2,547.1 1241.8,556.2 1242.7,552.2 1243,556.6 1243.8,557.5 1244.4,563 1245.3,572.8 1244.5,571.2 1245.6,550.4 1246.2,567.1 1247.1,558.5 1247.2,557.1 1246.7,550.8 1247.6,545.1 1248.5,572.8 1248.8,556.3 1248.8,567.6 1250,548.7 1250.4,572.1 1250.5,557.5 1250.7,563.1 1251.9,552.3 1251.8,562 1253,558.1 1253.2,557.7 1253.4,556.6 1254.3,573.2 1254.1,562.2 1255.3,567.2 1254.7,557.4 1255.7,545 1256.2,555.4 1255.8,545.2 1256.5,567.9 1256.9,559.9 1258.2,577.1 1258.2,553.6 1258.5,552.4 1259.1,569.4 1258.8,577.9 1260.1,572.1 1259.6,576.2 1259.8,569 1261.2,559.2 1260.8,559.5 1262.5,569.1 1262,566.4 1262.2,557.7 1262.6,554.1 1263.1,566.9 1264.5,567 1264.4,575.7 1265,561.9 1265,560.8 1266.3,564.8 1265.6,573 1267,567.9 1267,564.6 1268.1,554.7 1268.6,566.2 1268.8,554.9 1270.3,566.2 1270.3,559.6 1270.6,566.1 1270.7,564.4 1272.2,556.9 1272.5,562.2 1273.3,562.1 1274.5,555.2 1274.2,558.9 1275.1,556.1 1275.7,560.2 1276.1,566.6 1277.1,559 1278.2,560.9 1277.9,554.7 1279.2,556.5 1278.5,552.8 1279.9,561.3 1281.2,557.7 1281.3,554.9 1281.9,561.7 1282.2,556.1 1283.4,548.4 1284,562.3 1284.4,550.4 1285.3,555.6 1285.4,551.9 1286.2,556.6 1286.5,551.2 1286.9,546.4 1288.2,544.4 1288.3,545.8 1288.7,559.9 1289,556.2 1289.8,545.9 1289.9,560 1290.7,557.9 1291.4,553.6 1291.8,553.9 1293.4,550.5 1292.7,550.9 1294.5,549.8 1293.6,541.9 1295.1,537.6 1294.5,544.5 1295.8,546.2 1295.6,547.7 1297.2,541.5 1297.1,546.2 1298.3,546.6 1298.1,546.3 1299.3,534.6 1298.6,552.7 1300.3,531.5 1300.4,546.1 1301.4,547.8 1300.9,533.1 1302.3,547.5 1302,536.1 1302.9,552.9 1303,533.6 1304.5,553.7 1303.7,532.3 1305.2,536.5 1305,545 1305.8,541.7 1305.7,530.5 1306,536.7 1307.4,526.8 1307.4,530.5 1307.8,524.4 1307.8,552.9 1308.9,548.1 1309.5,543.7 1308.7,535.3 1309.7,530.7 1309.8,528.1 1311.2,539.6 1310.8,531.9 1311.6,529.1 1311.9,528 1313,534 1313.3,534.3 1314.4,552 1314.4,534.4 1315.4,541.2 1315.4,541 1316,536.6 1316.3,539.1 1317.4,547.3 1316.9,531.8 1317.8,541 1317.9,544.7 1318.5,542.5 1319.4,553.6 1320.2,547.8 1320.1,554.9 1321.3,543 1322,554.4 1322.1,546.5 1322.8,548.5 1323,554.9 1324.5,556.6 1324.5,534.4 1324.6,541.6 1325.3,546.7 1325.8,536.2 1325.8,536.9 1326.6,551.6 1326.7,538 1328.1,537.4 1329.3,549.4 1329.4,551.1 1330.2,540.7 1329.9,543.2 1330.9,555.2 1330.9,552.6 1332.1,536.5 1332.7,547.6 1333.3,539.8 1333.7,543 1334,544 1335.4,548.1 1334.8,542.3 1336,537.5 1335.9,535.3 1337.2,552.5 1337.4,546.3 1337.9,544.3 1338.1,535.2 1339,541.6 1338.7,540.3 1340.3,544 1339.8,534 1341.1,540.7 1340.8,538.6 1341.9,541.5 1342.4,534.9 1342,539.8 1343.2,530.6 1342.7,548.1 1343.6,540.9 1343.8,536 1345,528.4 1344.7,547.2 1345.5,524.8 1346.2,530.7 1346.7,539.9 1347.5,525.3 1348.2,528.9 1348.5,534 1349.4,534.4 1348.6,528.9 1349.2,521.7 1349.6,541.3 1350.4,532.9 1350.6,532.8 1351.5,534.8 1352.2,525.2 1352.1,536.7 1353,515.6 1352.6,535.4 1354.2,533.1 1353.6,515.2 1355.2,520.8 1355,516.8 1356.3,526.2 1356.2,519.4 1357,517.4 1357,516.2 1358,525.7 1358.3,511.6 1359.2,521.4 1358.8,522.6 1360.4,508.2 1360.1,512.9 1361,513.9 1362.4,514.7 1362.4,508.8 1363.3,510.4 1362.7,517.1 1364.1,506.8 1365.4,510.9 1365.2,520 1365.8,511.4 1366,506.3 1367,519.6 1367.2,505.2 1367.2,512.4 1367.9,515.3 1367.9,518.1 1368.9,521.9 1368.8,503.1 1369.8,502.7 1370.4,530.2 1369.9,506.3 1371.4,527.8 1370.7,509.5 1372,504.4 1371.7,513.8 1371.6,504.8 1373.1,511.9 1373.4,536.4 1373.2,510.9 1374.3,514.8 1374.4,518.1 1374.2,530.7 1375.2,531.8 1374.8,508.6 1374.9,539.7 1375.5,513.5 1375.8,518.9 1377.4,510 1376.6,505.2 1376.8,526.9 1378,523 1378,514.9 1378.9,505.8 1379.5,523.7 1378.6,510 1380.3,516.7 1380.2,522.5 1380.6,522.3 1380.7,507.7 1382.2,520.2 1381.8,512 1383.2,509.6 1382.9,521.3 1383.6,518.3 1384.4,519.1 1384.7,505.1 1385.9,503.4 1386.4,509.5 1387.3,507.1 1387,514.1 1387.6,501.8 1388.4,507.3 1389.3,512.4 1389.3,506.5 1390.3,504.1 1390.7,499.5 1391.4,502.7 1391.5,503.3 1392.5,503 1393,499 1393.1,501.6 1394,505.5 1394.4,503.4 1395.2,501.2 1394.7,497.1 1395.8,490.6 1397.5,489.7 1397.3,501.3 1397.9,484.2 1397.7,496.6 1399.2,489.8 1399.1,485.9 1400.2,497.6 1400.3,493.4 1401.1,482.4 1401.8,490.2 1401.6,483.7 1403.5,495.6 1403.1,495.7 1404.4,494.6 1404.9,489.7 1405.5,500.9 1405.7,498.2 1406.1,488.7 1407.2,487.2 1407.2,492.9 1408.1,482.9 1409.4,503.3 1409.3,488.3 1410.2,484.4 1410,489.9 1411,488.9 1410.6,492.6 1411.7,486.3 1411.8,484.9 1412.5,508.7 1412.6,506.5 1412.9,486 1413.9,497.5 1413.6,498.5 1414.5,493.1 1415.2,507.7 1415.7,497.2 1416.4,494.8 1416.6,494.1 1417.4,496.8 1418.2,514 1418.1,494 1418,497.5 1419,506.5 1419.5,508.4 1420,512.9 1420,496.2 1421.2,499.5 1420.7,502.7 1422,494.2 1421.9,519.3 1422,503.3 1423,513.4 1423,505.5 1424.1,503.2 1424.2,507.2 1425.2,505.5 1425.1,501.2 1426,510.2 1425.5,499.4 1427,519.1 1427.3,521.6 1427.3,525.3 1427.7,500.4 1427.6,520.2 1428.7,505.2 1428.6,523 1429.7,502.6 1430.1,516.3 1430.5,511.8 1431,511.1 1431,518.2 1432.3,519.2 1431.8,495.2 1433,493.9 1433.1,507.6 1434.2,518.1 1434.2,513.8 1434.8,514.5 1435.1,498.3 1435.4,506.4 1436,496.9 1436.3,506 1437.2,518 1437,509.3 1438,496.9 1438.3,520.6 1437.5,489.8 1439,490 1438.9,499.5 1439.7,514.8 1440.1,520.3 1439.7,499.9 1441.1,512.5 1440.9,490.9 1441.9,502.9 1442.5,505.9 1442.3,512.4 1442.9,498.7 1443.3,506.3 1442.9,487.5 1444.2,489.3 1443.8,487.9 1444.2,501.5 1445.4,497.4 1445,507.3 1445.6,495.3 1446.5,487 1445.7,479.9 1446.5,498.1 1446.9,500.8 1448.3,475.8 1447.8,482.7 1447.8,475.9 1448.8,484.1 1449,489.5 1450.5,476.9 1449.6,499.1 1450.8,488.3 1450.8,498.2 1452.4,488.4 1451.6,483 1452.2,488.3 1452.8,483 1452.6,483.2 1454.3,482 1454,476 1455.2,481.8 1454.9,491.7 1455.8,471.8 1456.1,490 1456.6,478.9 1457.4,483.3 1457.9,473.1 1457.8,484.9 1459.4,486.4 1459.5,480 1459.6,478 1459.9,471.1 1460.6,491.2 1461.4,472.8 1461.6,492.1 1461.7,476.6 1462.7,474.3 1463.5,479.8 1464.3,471.3 1465,472.8 1465.3,489.4 1466.4,481.5 1465.6,485.5 1466.6,486.7 1467.8,489.2 1467.8,486 1469,475.9 1469,479.8 1469.7,482.4 1470,485.5 1470.8,484.2 1471.7,482.9 1471.7,488.1 1472.7,478.8 1472.6,479 1474,478.1 1473.6,491.1 1474.8,478.4 1475.9,491 1476.2,492.2 1477,481.7 1477,476.4 1478.2,491.9 1479.4,492.3 1479.1,491.8 1479.8,487.8 1479.7,494.8 1481,481.4 1481.5,489.5 1481.7,494.2 1483.1,490.8 1483.4,485.3 1483.8,490.5 1483.7,492.8 1485,484.5 1484.6,483.8 1486.1,498.7 1486.3,497.4 1487.1,497.5 1487.8,489.1 1488.4,486.8 1489.1,494.1 1488.6,494.1 1490.3,502.4 1489.9,502.7 1490.5,503.9 1491.2,501.5 1491.9,496.7 1492.3,487.4 1492.7,501.7 1493.4,487.8 1494,495.8 1493.8,505 1494.8,504.1 1494.9,485.9 1496.5,486.2 1495.6,482.9 1495.9,482.8 1496.7,507.8 1496.8,501.7 1497.7,483.4 1497.5,486.2 1499.5,494.8 1498.7,484.7 1500.1,491.5 1499.7,494.4 1501.2,492.3 1502.1,489.1 1502.1,485.9 1503.4,504.7 1503.1,495.3 1503.9,500.7 1504.1,499.9 1504.9,493.9 1505.2,489.9 1505.8,491.2 1506.7,501.9 1506.8,499.7 1507.5,503 1509,499.9 1508.6,497.4 1510.3,492 1510.6,493.6 1511.3,500.2 1511.6,492.6 1512.4,492 1512.6,502 1514.3,494 1514.2,499.7 1515.3,488.7 1515.2,503.4 1516.3,495.3 1515.9,505.1 1517.5,501.7 1517,503.7 1518.4,494.7 1517.6,497.3 1518.6,490.2 1519.1,494.5 1520.1,503.2 1520.4,489.1 1521.5,489.2 1520.8,501.7 1522.5,495.2 1522.3,504.4 1522.8,499 1523.4,481.8 1522.6,506.4 1524.1,493.9 1524.3,494.6 1524.6,492.5 1525.3,500.9 1526,483.4 1526.5,485.2 1526.8,502.8 1527.4,500.3 1527.9,500.5 1528.2,496.9 1529.3,495.6 1529,490 1530.3,487.5 1529.6,496.1 1530.5,499.4 1530.7,493 1531.8,492.8 1533.1,488.4 1533,499.2 1533.6,488.6 1534.7,487.1 1534.5,498.2 1536.5,486.2 1536.3,493.1 1535.7,497 1536.6,491.4 1537.2,492.5 1537.7,476.7 1538.1,480.3 1539.1,489.5 1538.5,489 1539.5,479.1 1540.1,474.7 1540.4,471.1 1540.6,479.5 1540.9,481.9 1540.7,494.4 1542,474.5 1542.2,461.8 1543.4,489.9 1542.8,475.7 1542.5,488.4 1544.5,479.8 1544.5,475.1 1545.4,487.9 1545.4,473.3 1545,457 1546.5,457.5 1546.1,477.4 1545.7,467.7 1546.8,452.9 1546.9,467.5 1547.2,479.9 1548.4,485.5 1547.8,475.2 1549.2,480.5 1548.6,462.5 1549.1,461.8 1550.4,463.7 1550.2,450 1550.4,485.8 1551.5,458.8 1551.3,484.2 1550.6,448.2 1552.2,482.5 1551.5,477.1 1552.2,464.1 1552.6,465.7 1553,455.5 1553.4,473.4 1553.7,469.8 1554.1,479.8 1555.5,478.2 1554.6,464.3 1555.7,474.2 1555.6,476.3 1556.1,471.2 1557.4,477.4 1557.2,471.1 1558,468.8 1557.5,461 1559.2,466.9 1559,476.7 1559.9,474.1 1560.3,476.4 1560.7,471.6 1562,471.3 1561.6,463.1 1562.7,475.4 1563.3,467.4 1564.1,468.8 1564,465.4 1564.8,478.7 1566.4,463.6 1565.6,476.9 1566.9,472.9 1567.1,472.2 1568.4,464.2 1569.4,466.1 1568.6,466.8 1570,475.6 1571.1,478.5 1570.7,468.2 1572.1,471.9 1573.2,470.3 1572.6,475.2 1574.3,462.4 1574.3,461.2 1575.2,472.1 1575.8,462 1575.8,472 1577,475.4 1576.7,471.7 1577.8,460.4 1578.7,461.4 1578.7,460 1580.5,466.1 1580.3,467.3 1581,463.6 1582.4,462.4 1582.5,474.7 1583.4,459.6 1583.5,472 1584.1,470 1583.9,478.9 1585.5,479.2 1584.6,469.1 1586.2,460.2 1586.4,474.6 1586.6,462.7 1587.2,478.4 1588.5,461.7 1588.3,470.5 1588.9,460.2 1588.6,454.1 1588.9,456.6 1589.7,462.3 1589.6,458.5 1590.8,483.2 1590.9,471.5 1592,483.3 1592.3,482.2 1593.4,476 1593.4,461.5 1593.1,461.5 1594.4,459 1594.5,457.8 1594.8,476.2 1595.1,456.7 1594.6,481.1 1595.7,467.5 1596.3,466.6 1597,454.1 1597.4,470.9 1597.2,462.9 1598.2,462.2 1597.7,461.3 1599.3,481.2 1599,473.1 1599.4,472.7 1600.5,457 1600.4,476.8 1601.1,470.8 1600.7,448 1600.5,482.6 1601.9,471.5 1601.9,482.4 1603.2,462.9 1603.1,456.7 1603.4,454.5 1604.4,469.5 1603.6,486.8 1604.7,475.2 1604.8,454.4 1605.3,483.4 1606.4,475.2 1606.1,455.7 1607.5,462.9 1607.1,451.7 1606.8,470.1 1608,466.7 1607.9,452.5 1609.1,465.3 1608.6,465.8 1609.2,479 1609.9,457.8 1610.1,474.4 1611,487.2 1610.9,472.2 1611.5,459.1 1611.7,460.9 1611.7,458.3 1613.4,475 1613,474.1 1613.8,485.6 1614.2,469.9 1613.5,454.6 1614.5,481.3 1614.5,471.2 1616,468.6 1615.8,490.2 1616.5,483.2 1617,491.6 1617.2,463.6 1617.6,460 1617.6,469.7 1618.1,462.5 1618.6,467.6 1619,489.7 1620.4,487.7 1619.8,487.8 1619.8,477.9 1621,463 1621,464.3 1621.3,463.1 1622.3,460.7 1621.5,471.3 1623.4,479 1622.8,473.6 1622.8,480.1 1623.8,458.9 1624.5,453.6 1623.6,465.2 1624.8,474.3 1625,457.9 1625.3,480.7 1625.7,457.9 1625.6,471.9 1627.1,479.6 1626.7,485.5 1627.4,469.6 1627.6,457 1628.2,452.7 1628.1,478.7 1628.5,455.3 1628.7,466.8 1630.4,480.2 1629.9,449.5 1630,456.6 1630.8,484.5 1630.8,463.8 1632.2,483.7 1631.6,470.6 1632.2,452.8 1632.6,460.2 1632.8,473.9 1634.5,471.8 1633.9,484.1 1634.4,463.5 1635,465.7 1634.6,470.3 1636.2,463.5 1636.1,478.9 1636.1,471.1 1637.4,471.8 1637,479.5 1638.4,448.7 1638.5,451.6 1638.4,467.7 1639.3,456.9 1638.8,451.4 1639.6,448.6 1639.7,470.7 1640,472 1641.5,457.7 1640.7,471.5 1641.6,458.8 1642.3,447.4 1642.8,462.2 1642.6,468.5 1644.2,459.2 1644.3,446.8 1644.3,458.7 1644.9,466.9 1645,443.7 1646.2,443.3 1646.1,448.8 1646.9,454.8 1647.2,461.4 1647.9,448.8 1648.3,443.8 1649.1,464 1649.1,442.4 1649.6,461.5 1650.3,461.3 1651.5,463.5 1650.9,471.6 1650.7,444.8 1651.9,442 1652.1,458.3 1652.7,460.8 1653,463.7 1654.3,467.2 1654.2,444 1655.1,462.9 1654.7,453 1655,449.6 1655.6,450.1 1655.9,466.6 1657.5,469.3 1657.4,474 1658,461.6 1657.5,465.1 1659.3,452 1659.1,443.2 1659.4,455 1660,447.4 1660.4,473.7 1660.9,458.1 1660.8,464.7 1661.1,470 1661.5,457.2 1662.5,439 1663.1,452 1662.6,449.1 1663.5,445.8 1664,470.9 1663.6,437.7 1665.1,460.8 1664.5,469.3 1665.3,459.7 1665.7,472.2 1665.7,475.2 1666.1,471.6 1667,459.1 1667.4,452.4 1667.8,473 1668.5,438.6 1668.4,464.5 1668.7,441.2 1668.6,466.7 1668.6,466.7 1670.3,472.4 1669.6,464.7 1669.6,434 1671.3,433.4 1671.2,471.7 1671,446.2 1672.4,454.7 1672.5,457.2 1671.9,427.1 1673.4,459.1 1672.6,456.1 1672.8,444 1673.7,424.8 1674,456.1 1674.2,462.9 1675.4,457.1 1674.7,458.6 1675.2,426.3 1675.5,464.7 1675.7,462.7 1676.4,440.8 1677,423.9 1676.6,461.1 1677.1,432.8 1677.7,423.9 1678.3,433.2 1677.6,459.5 1678.8,428.2 1679.1,437.5 1679,441.8 1680,432.6 1680,465 1679.7,439.7 1681,441 1680.8,449.3 1682.4,426.8 1681.9,465.3 1681.5,452 1682.9,443 1683.2,431.5 1682.6,449.2 1684.5,440.4 1684.4,443.1 1684.2,449.9 1685.3,449.1 1685.2,451.9 1685.8,459.3 1686.1,442 1686.1,434.9 1686.7,460.3 1686.7,435.3 1687.1,441.5 1687.6,431.3 1688.3,425.3 1688,424 1688.6,462.4 1688.9,439.7 1689.6,426 1690,459.9 1690.4,436.5 1691,428.4 1691.3,424.8 1690.8,427.2 1692.2,456.4 1691.9,433 1692.4,423 1693.3,432.3 1693.4,429.6 1694.4,454.9 1693.8,427.2 1694.1,421.7 1695.1,431.3 1695.2,422.7 1695.2,429.6 1696.1,448.3 1695.7,431.7 1697.2,446.4 1697.4,419.3 1696.9,432.4 1698.4,438.2 1697.8,424.4 1698.9,431.4 1698.5,442.9 1699.4,434 1700,452.3 1700.5,455.5 1700.2,424.9 1700.9,430.7 1701.3,448 1702.3,423.3 1701.7,455.2 1701.8,440 1702.9,444.1 1702.5,447.4 1704.4,442.6 1703.9,442.5 1703.7,445.3 1705.3,438.3 1705.3,441.9 1706.3,448.7 1706.3,448.9 1707.2,419.6 1706.7,448.2 1706.6,446.7 1708.2,421.3 1708.4,440.8 1708.7,427.9 1709.2,437.1 1710.1,444 1709.8,444.1 1710.5,443.9 1710.9,424 1711,428.8 1712.2,418.9 1711.8,419 1712.6,425.4 1713,439.9 1713.9,442 1714,444.1 1714.8,425.1 1714.7,438.5 1715.1,443.1 1716,437.1 1715.7,441.8 1716.6,420.8 1717.5,417.6 1718.5,441.8 1717.6,426.6 1719.3,440.4 1719,438.8 1719.9,434 1719.6,431.7 1720.7,432.8 1720.8,415.9 1721.9,420.6 1722,415.3 1722.9,420.1 1723.9,428.5 1724.2,425.7 1724.9,421 1725.1,430.8 1725.7,417.3 1726.2,420.3 1727.3,425.9 1726.6,421.6 1728.4,430.9 1729.2,433.3 1729.5,429.4 1730.4,423.7 1730.4,419.8 1731.4,431.5 1732.3,430.4 1732.2,425.8 1732.6,426 1733,427.5 1733,427.2 1733,421.2 1733,423.2 1733,423.6 1733,423.6 1733,424.1 1733,423.9 1733,423.4 1733,423.8"/><polyline fill="none" stroke="none" marker-start="url(#mx)" marker-mid="url(#mx)" marker-end="url(#mx)" points="479.5,1126.3 479.5,1124.6 481.5,1125.9 486,1128.1 488.9,1129.6 491.8,1130.9 495.2,1126.6 498,1129.6 499.7,1127.8 503.3,1121.9 505.3,1127.6 507.3,1119.9 508.6,1128.7 511.3,1119.6 512.6,1111.7 515.1,1112.1 516.5,1118.5 517.7,1118.1 519.9,1124.9 522.4,1112.7 523.1,1117.6 525.3,1126.8 525.5,1107.6 528.1,1106.5 529.1,1098.9 531.4,1115.2 531.6,1120.4 533.8,1103.3 535,1101.5 535.7,1128.2 538.2,1098.4 539.3,1099 540.8,1129.8 542.1,1109.1 543.9,1111.9 544.6,1132 545.6,1110.9 548.2,1103.7 549.5,1096.1 550.5,1111.5 551.2,1108 552.9,1102.2 554.3,1093.5 556,1094 557.9,1082.2 560.2,1083.8 562,1090.5 563.7,1079.2 565.6,1087.5 568.9,1082.7 571,1093.1 572.8,1087.3 575.4,1091.3 576.8,1092 580,1090.5 582.9,1091.4 585.3,1089.7 587.2,1094.7 589.4,1083.8 591.1,1081.6 591.9,1084.5 594.3,1093.7 594.8,1072 596.9,1071.3 597.5,1083.8 599.6,1080.1 600.9,1082.5 603.4,1065.6 604.7,1076.7 607.1,1067.6 608.3,1071.1 610,1066.2 612.6,1063.6 614.6,1064.6 617.1,1059.8 619.1,1055.7 619.6,1060 622,1061.3 624.1,1056.7 624.6,1058.2 626.6,1054.5 629.4,1059.1 631.4,1051.2 632.2,1057 633.6,1061.5 635.4,1052.1 637.3,1053 637.8,1059.7 638.6,1062.6 641.5,1050 642.4,1044.7 643.4,1049.8 645.5,1053.7 646.4,1043.3 646.6,1063.8 649.1,1056.7 649.5,1047.6 650.9,1044.7 653.5,1062.8 654.4,1061.2 654.8,1046 657.2,1049.3 658,1058 659,1051.6 660.6,1062 661.5,1063 663.7,1062 664.7,1066.1 666.9,1065.5 668.7,1066.1 671.4,1065.9 672.7,1062.6 675.7,1058.9 679.3,1054.4 682.7,1052.1 685.9,1051.3 688.9,1050.7 692.1,1050.6 694.2,1050.2 696.3,1049.2 698.2,1050.6 699.7,1048.4 701.9,1043.3 703.5,1048.4 704.6,1047.6 706.6,1042.8 707.5,1044.6 710.3,1038.6 711.1,1049.4 711.8,1041.3 714.2,1047.5 714.7,1043 715.6,1030.9 717.5,1028.5 718.4,1043.3 719.2,1042.4 720.2,1031.8 720.9,1029.3 723.4,1042.1 724.3,1027.9 725.1,1028.4 726.3,1040.2 727.5,1038.9 728.2,1040.2 728.6,1035.1 729.5,1028.6 730.6,1043.1 731.5,1041.8 733.4,1028.6 734.3,1018.1 734.6,1016.5 735.6,1016.1 737.3,1018 738.1,1022.4 738.6,1025.2 739.7,1036.7 740.9,1027.3 742.1,1026.9 743,1019.4 743.6,1029.3 744.7,1020.4 746.3,1020 748.4,1018.9 749,1014.2 751.1,1015.3 752.4,1014.7 753.2,1016 755,1014.9 756.4,1005.8 757.4,1014.2 758.4,1005.4 758.8,1000.6 759.9,1012.3 760.9,994.2 761.8,992 762.1,1008.7 763.4,988.3 763.9,985.7 765.4,1007.6 765,1011.8 766,1004.3 766,987.9 767.5,1004.2 768.1,1002 768.1,999.2 768.6,969.9 768.6,988.5 770.2,968.4 771,964.6 771.2,990.2 771.6,995.9 772.2,962.8 772.9,962.1 774.2,989.5 773.7,961.2 775.1,985.3 775.2,969.8 775.6,973.9 777,979.2 777.1,976.5 778.5,970.3 779.4,954.3 778.5,976.4 779.5,976.5 780,944.4 780.8,964.3 781.9,959.2 781.6,966.4 782.9,964.5 782.6,958.9 784,948.1 784.5,950.8 785.3,936.3 785.9,931.6 787.5,962.2 787.2,945.9 787.6,932.7 789.2,953.1 789.5,955.3 789.9,934.6 791,936.1 792,951.2 792,954.1 793.2,924.6 794.2,941.5 794.1,922.2 795.4,935.2 796,925 796.5,920.5 797.7,927.7 797.7,921.5 799.2,937.5 800.4,925.1 801.2,934.1 801.6,940.5 802.9,923.7 803.7,940.8 803.7,928.2 805,927.5 806.2,921.2 806.9,932 808.1,932.3 808.8,932.6 810.5,929.1 811.1,936.2 811.8,924.5 813.5,925.2 813.9,926.1 815.5,928.7 816.4,921.8 815.8,929.7 816.8,927.5 818,911.4 817.6,919.8 819,909.5 819.8,904.7 820.8,912.1 821.9,918.2 822.4,921.1 823.2,910.6 824,919.4 825.4,908.9 825.5,905 827,919 827.7,916.5 829.1,916.8 830.4,905.1 831.3,905.3 831.6,908.2 833,904.1 833.8,904.9 834.6,904 835.5,904.7 836.8,905.8 839.2,906.7 840,904.7 841.1,903.7 842.7,903 844.2,902.1 844.7,902.7 846.1,904.6 847.1,903.5 847.7,906.5 849.2,899.9 849.9,901.4 850.6,901.7 852.4,896.8 853,894 854.4,895.2 854.9,900.5 854.9,904 855.9,897.5 856.8,896.8 858,885.8 859.4,886.4 859.1,897.5 860,889.5 861,903.9 861.5,901 863.1,891.7 863.1,895.2 864.3,902.5 865,887.9 865.9,900.4 867,880.5 867.1,881.5 867.8,893.8 869.1,891 870.3,892.5 870.5,897.1 870.8,896.2 871.9,899.7 873.1,887.8 873.7,897 873.9,878.9 875.3,878.7 875.5,879.2 877.1,890.4 878,897.9 879,882.8 879.5,880.9 879.5,883.1 881.5,887.1 881.9,886.3 882.9,893.4 884.1,885.1 883.7,894.3 885.1,889 885.7,897 887,896.1 888.2,891.7 888.5,896.1 890.4,883.4 889.6,892.5 891.2,886 892.5,884.9 892.1,892.6 892.8,898.4 893.9,902.9 894.3,883.9 894.8,899 894.8,900.6 895.5,887.8 896,891 896.7,898.4 898.1,908.1 898.1,902.8 898.9,917.9 899.4,919 900.4,910.7 899.7,911.7 900.8,897.8 900.9,888.6 901.9,894.7 902.7,902.8 903.3,910 903.8,912.2 903.9,900.7 904.9,898.8 904.7,919.6 906.1,910.1 907.1,905.7 907.1,891.7 907.6,906.8 909,893.1 908.7,900.8 910.5,914.6 910.5,903.2 910.9,896.9 911.8,917.9 913.4,900.1 913.3,896.6 914.1,895.5 915.1,907.7 915.5,907.2 916.4,899.2 917.1,898.1 916.6,916.3 917.5,901 918.8,896.9 919.4,910.2 919.9,905.2 921.3,892.4 921.2,911.9 922.1,903.4 922.7,894 922.7,898.8 923.8,909 924.7,891.9 925.3,900.3 925.6,908.7 926.5,896.8 926.9,900.4 927.7,909.6 928.1,895 929.1,895.6 930.1,899.9 929.7,906.4 930.6,906.9 931.9,896.4 931.6,896.5 932.8,898.1 934.2,886 933.6,903.7 934.7,898.2 936.2,899.7 935.5,896.6 937.3,883 937.5,900.5 938.2,896.7 939.3,894.2 939.7,884.7 939.5,894.6 941.2,900.3 941.7,883.8 941.9,898.6 942.7,896.7 944.1,894 944.6,894 944.9,892.9 945.5,885 947.1,884.3 948,881.2 947.8,888.6 948.8,891.6 949.9,882.5 950.9,884.7 951.8,885.9 952.7,881.8 954.4,880 954.7,881 956.3,882.4 957.4,881.5 957.6,882.1 958.7,878.4 960,877.9 960.5,878.2 963.5,877.7 964.4,880.2 964.7,876.2 965.7,878.2 967.2,876.3 968.3,874.7 968.5,875.7 970.2,877.7 971.4,878 972.5,876.2 972.9,872.5 974.1,877.9 975.3,874.7 976.1,876.8 977.5,876.4 977.1,879.3 978.5,865 978.5,869.7 978.5,868.1 978.6,862.1 980.3,868.2 980.6,876.9 980.7,866.1 981.9,865.4 982.2,861.4 983.3,870.3 982.9,866.2 984.4,863.9 983.9,864.6 984.6,857 985.2,883.5 985.8,871.7 986.3,858.4 985.8,881.9 986.7,865.7 987,866.5 987.7,859 988.5,886.6 988.7,861.7 989,877.4 990.4,872.3 989.6,890.1 990.6,867.5 990.7,892.1 991.5,872.9 992.1,885.7 992,889.8 992.8,887.1 992.7,863.9 993.7,865.6 994.5,868.2 995.2,859.4 995.4,887.8 996.2,897.3 995.5,888.6 996.6,895.7 996.5,871.5 997.1,877.6 998.3,862.3 998.4,860.4 999.5,890.1 998.5,862.8 999.6,865 999.7,869.6 1001,880.3 1000.7,897.8 1002.1,881.5 1002.3,885.2 1003.4,892.8 1002.9,894.4 1003.1,865.4 1003.8,888.3 1004.2,888.8 1005.3,890 1005.4,874.9 1006.4,895.1 1006.3,874 1007.1,893.2 1007.3,873.3 1007.5,883 1007.6,882.2 1008.6,870.3 1009.4,884.4 1009.6,881.4 1009.8,879.1 1011.3,890.2 1010.5,867 1012.4,869.6 1012.3,882.4 1013.1,880.6 1012.9,886.4 1014.5,868.5 1013.7,872.9 1014.9,875.2 1015.4,867.6 1015.4,866 1015.9,880.8 1016.2,886.3 1017.1,862.3 1017.3,860.5 1016.5,863.6 1018.5,848.3 1018.4,876.6 1019.2,871.7 1018.7,865.9 1019.5,881.5 1019.9,863.7 1019.9,860 1019.9,853 1021.4,843.9 1020.6,870.4 1022.3,873.3 1021.6,864.4 1022.5,881.8 1022.7,884.5 1023.5,847.5 1024.4,847.9 1023.5,856.6 1024.5,869.8 1024.7,871.5 1024.8,869.1 1025,864 1026,860.5 1026.1,870.6 1026,867.9 1027,839.6 1027.1,865.3 1027.9,848.3 1028.1,843.4 1028.7,849.2 1028.6,848.2 1028.9,848.4 1030,849.6 1030.3,857.9 1030.9,851.1 1030.8,839.7 1032,840.9 1031.8,849.2 1033.1,837.9 1034.1,852.3 1033.7,847.3 1034.8,845.6 1035.4,849.9 1036.3,838.1 1037.3,835.6 1037.3,842 1038.5,837.8 1039.4,837.7 1039.6,840.7 1039.7,838.7 1041.2,838.9 1042.2,840.9 1043.2,834.3 1044.1,840.9 1045.3,837.1 1046,839.4 1047.3,834 1047.8,836.8 1048.5,839 1050.1,835.9 1051.1,842.1 1051,835.3 1052,839.7 1052.7,840.1 1054.1,833.9 1054,834.1 1055.1,837.3 1055.6,841.2 1056.1,834.7 1057.3,841.8 1057.1,845 1058,836.5 1057.6,840.4 1059.5,849.7 1058.6,849 1060,840.6 1060.2,859.5 1061.5,849.3 1061.4,859.5 1061.8,848.4 1061.7,856.2 1063.4,854.7 1062.8,856.4 1063.9,839.8 1064.9,841.9 1065.5,835.2 1066.3,847.1 1065.5,859.2 1066.9,838.8 1067.2,848.8 1067.9,844.9 1067.7,861.3 1068.6,837.2 1069,855.8 1069.9,863.7 1070.4,852.2 1071.4,864 1070.7,842.9 1072.4,845.7 1072.4,858.7 1072.2,855.8 1073.2,861.6 1073.1,838.9 1073.6,839.6 1074.3,840.3 1074.5,845.2 1074.8,861.6 1076.3,835.8 1075.9,855.3 1076.8,866.5 1077.3,838.1 1077.8,866.1 1078.5,840.7 1078.7,859.9 1078.9,842.9 1080.2,858.4 1079.5,851.1 1081,846.5 1080.8,865.9 1081.6,838.6 1081.9,838.4 1081.7,849.3 1083,866.4 1082.7,843.5 1084.1,851.2 1083.6,839.6 1085.2,859.8 1084.7,842.8 1085.6,849.8 1086.4,861.6 1087.3,862.5 1086.9,837.3 1087.6,838.7 1088.4,851 1088.3,847.6 1088.6,858.1 1088.7,866.6 1090,849.8 1089.8,860.2 1090.8,847.2 1091.4,857.6 1091.6,863.7 1091.9,845 1092.7,863.6 1092.7,858.9 1093.7,850.4 1094.1,844.5 1094.5,851.6 1095.1,839.2 1094.9,848.1 1096.2,839.6 1095.6,838.6 1097.3,859 1097.3,859.1 1098.5,846.9 1097.5,859.1 1097.7,842.5 1098.6,859.4 1099.3,840.9 1099.8,868.2 1100.2,870.9 1100.7,857.3 1100.5,847.7 1101,841.1 1101.8,831.4 1102.4,835.1 1101.9,838.2 1103,843.1 1103.3,856.4 1104.4,850.4 1103.5,860.2 1103.7,860.1 1105.2,835.3 1105.5,854.3 1105,836.5 1105.7,826.8 1105.5,834.7 1105.7,861.6 1106.8,863.7 1107,828.9 1107.6,863.7 1107.6,845.5 1108.2,835.6 1108.7,843.3 1109,839.7 1108.7,826.5 1109.9,829.6 1110.2,843.1 1109.9,841 1111.2,853.6 1111.4,839.8 1111.9,831.1 1112,830 1112.5,844 1113,846.9 1113.3,828.6 1113.2,848.4 1113.8,839.3 1114.2,817.3 1114.2,830.9 1114.9,845.5 1114.7,814.5 1115,824.1 1116.4,823.5 1116.3,827.8 1117.3,841.1 1117.3,839.1 1117.4,845.6 1118.1,843.5 1117.7,814.7 1118.3,830.5 1119.1,810.7 1118.7,837.2 1119.7,838.2 1120.4,834.8 1119.6,832.4 1121.4,809.7 1120.9,810.9 1122.4,812.3 1122.3,832.3 1122.3,837.9 1123.3,809.8 1123.3,817.2 1124.5,816.5 1123.8,821.5 1124.9,823.9 1124.9,818.2 1126.1,831.4 1125.9,826.8 1127.2,814 1126.7,819.3 1128,812.7 1128,815 1128.9,815.8 1129.4,819.4 1130.4,820.6 1130,810.7 1131.2,819.1 1130.5,807.5 1132.5,810.9 1132.5,823.2 1133.5,819.1 1134.3,811.2 1133.9,816.6 1134.6,811 1136.1,812.3 1136.1,825.3 1137.5,825.4 1136.8,816.1 1137.9,806.9 1137.5,811.6 1139.3,810.4 1138.9,805.8 1139.8,823.5 1141.3,825.4 1141,807.3 1142.1,807.9 1141.8,810.2 1143.2,820.5 1142.8,823.3 1144.3,806.3 1143.6,815.7 1144.7,828.2 1144.7,819.4 1145.6,818.8 1145.8,809.2 1147,809.5 1147.2,825.6 1147.8,812.9 1149,826.6 1148.6,809 1149.7,827.2 1149.8,824.6 1151.4,827.1 1150.9,812.8 1151.8,816.6 1152.4,811.7 1153.4,826.6 1152.7,811.7 1154.2,811.2 1153.5,815.4 1154.9,815.2 1155.1,823.9 1156.4,823.8 1156.3,810.5 1157.2,820.6 1156.7,810.9 1158.5,814.7 1158.6,817.9 1158.7,824.1 1160,817.5 1160,828.3 1161,830.8 1162.3,817.8 1162,817.1 1162.6,815 1163.3,817 1164.4,814.5 1165.2,818.6 1164.6,824.2 1166.2,818.5 1165.8,814.9 1167.1,819.6 1168.4,826.4 1168.1,828 1169.5,819.7 1169,811.2 1170,815.3 1169.5,831.1 1170.5,810.9 1170.8,828.4 1171.8,830.5 1172.1,815.8 1172.9,817.8 1173.2,823.6 1173.6,816.2 1173.6,805.1 1175.2,807.1 1174.8,829.3 1175.6,810 1175.8,817.3 1176.2,809.7 1176.8,824.5 1177.1,817.1 1178.5,805.1 1177.9,815.5 1177.8,798.6 1178.8,806.5 1179.2,824 1179.9,805.7 1180,820.6 1180.2,797.1 1181.3,805.8 1180.6,797.6 1180.5,799.6 1181.8,808.3 1181.7,806.6 1183.1,814.4 1183.1,793.8 1183,803.4 1183.5,793.6 1184.2,779.6 1183.6,782.5 1185.3,780.7 1184.8,809.2 1186.4,795.9 1186,785.1 1186.1,779.9 1187.4,796.3 1187.1,804.6 1188.1,798.4 1187.8,795.1 1189.2,800.8 1189.5,784.4 1189.6,796.5 1190.3,777.1 1190.8,796.4 1191.4,783.3 1191.8,783.7 1191.8,794 1193.3,788.4 1192.8,787.1 1192.9,779.2 1193.7,784.9 1194.3,783.5 1195.5,778.1 1194.5,781.2 1196.3,778.8 1195.7,801.7 1196.7,796.7 1196.8,802.6 1197.9,801.2 1198,779.1 1198.9,789.5 1199.1,806.1 1199.5,778.3 1200,782.6 1200.7,788.5 1200.6,800.3 1201.3,804.8 1202.3,797.9 1201.6,795.6 1202.8,788.7 1203.3,788 1204.1,784.5 1203.5,780.9 1204.7,787.9 1204.7,793.5 1206,795.6 1205.7,787.8 1206.9,801.1 1207.9,783.3 1208.3,793.1 1208.6,798.5 1208.7,793.7 1209.6,789.6 1209.7,786.7 1210.8,779.9 1212.1,796.8 1212.5,787.5 1212.5,793 1213.3,798.2 1214.3,790.5 1213.7,782 1215.2,777.7 1214.7,778.4 1216.4,786.9 1215.8,790.6 1216.9,782.9 1217.2,787.8 1218.1,796.1 1217.7,777.9 1217.9,778.5 1218.8,787.4 1218.9,794.2 1219.8,771.4 1220.5,782.7 1221.4,782.7 1221.5,769.9 1221.6,779.3 1221.9,778.2 1222.4,782.1 1222.6,766.7 1223.1,773.8 1224,766.8 1224.5,772.7 1224.9,769.6 1224.5,784.3 1224.9,779.6 1226.1,769.8 1226.4,766.2 1226.9,758.9 1227.1,778.3 1228.3,773.7 1227.9,765.4 1228.3,783.5 1228.8,761.8 1228.6,767.2 1230.1,770.8 1229.9,756.4 1230.9,781.7 1231.4,777.2 1232.3,781.3 1232.2,765.4 1233,780.7 1233.4,751.5 1233.9,763 1234.4,751.9 1233.7,777.6 1234.9,772.7 1235.1,758.2 1236,754.8 1235.7,780.7 1237.4,774 1237.3,778.2 1238.1,782.3 1238.2,774.2 1239.4,775 1238.6,750.4 1238.7,772.5 1240.2,752 1239.7,780.7 1241.2,755.6 1241.4,751.3 1242.2,766.2 1241.8,755.6 1241.8,772.2 1243,747.2 1242.8,771.4 1243.6,761.6 1244.1,758.3 1245,778.4 1244.9,766.2 1246.2,761.8 1245.6,746.6 1245.9,761.4 1246.9,775.3 1246.7,746.8 1247.7,746.4 1248.1,749.1 1248.5,752.2 1249.2,772.7 1249.5,758.2 1250.2,776.4 1250.3,774.3 1251.4,770.7 1251.3,775.8 1251.9,764.8 1252.3,745.9 1252.7,768.6 1252.9,748.2 1253.2,768.6 1253.9,779.4 1254.4,751.3 1255.3,778.6 1254.8,770.5 1255.8,748.3 1256,775.3 1257.3,752.4 1257.4,747.9 1256.9,770.4 1258.5,762 1257.7,763.9 1259.5,779.8 1259.1,750.7 1260,748.1 1259.8,758.5 1259.6,765.3 1261.2,767.2 1261.4,775.9 1262,758.4 1262.4,771.1 1262.9,769.1 1262.7,760.4 1263.5,768.8 1264.2,757 1264.1,751.8 1265.4,771.7 1265.4,773.7 1266.4,770.1 1266.4,758.5 1267.4,769.4 1267,770.4 1268,767.7 1267.8,767.3 1268.7,767.1 1269.4,771.2 1269.7,771.2 1269.8,764.4 1271.1,771.9 1272.2,771.1 1272.1,768.7 1273.3,769.7 1272.8,771.6 1274.4,770 1273.6,778.7 1274.6,762.8 1275,768.3 1275.5,776.8 1275.9,776 1275.9,771.2 1275.6,772.5 1277.4,758.4 1277.2,763.8 1278.4,769.5 1277.6,747 1278.4,760.8 1278.6,754.9 1278.7,751 1280.1,764.3 1280.5,767.5 1279.8,745 1280.5,764.8 1281.2,761.2 1280.7,754.8 1282.1,751.7 1281.7,748.4 1282.7,753.8 1282.9,756.6 1283.1,753.1 1283.6,761 1283.8,760.6 1285,755.9 1285.3,758.7 1285.4,753.4 1285.8,755 1286.1,727.1 1286.8,730.6 1287.1,744.2 1288.3,753.9 1288.1,737.6 1287.9,740.9 1288.6,737.5 1288.6,745.8 1290.2,757.7 1290.3,739 1289.6,745 1291.4,737.8 1290.7,742.6 1291.8,752.5 1291.9,751.5 1291.7,747.2 1292.6,755.3 1292.7,735.6 1293.4,750.6 1293.8,744.2 1294.4,719.9 1295.2,734 1295.5,737 1295,740.9 1295.9,750 1295.7,755.3 1296.9,723.8 1297.4,722.3 1296.6,745.3 1298.2,744 1297.9,735.2 1297.9,753.4 1299,753.1 1299.3,738.8 1299.9,720.3 1300,720.2 1299.5,750 1301.2,754.6 1300.6,745.7 1302.2,737.4 1301.9,739.9 1301.6,738.2 1303.3,751.5 1303.2,745.2 1304.2,717.8 1304.2,734.2 1303.6,748.8 1305.3,741.6 1305,722.2 1306,717.7 1305.7,716.5 1305.9,737.3 1307,732.9 1306.5,724.2 1307.6,746.8 1307.5,741.7 1307.9,749.1 1309.1,720.7 1308.5,750.8 1310.3,727.3 1310.4,719.8 1310.8,745.1 1311.4,728 1311.4,744.2 1312.5,720.5 1312.1,717.2 1312.7,724.1 1313.3,725.9 1313.6,739.2 1313.5,724.4 1313.9,734.5 1314.9,749.5 1315.2,717.4 1315.7,729.1 1315.8,745.3 1317,747.3 1317.2,732.5 1318,730.3 1317.8,746.4 1317.6,742.6 1319.1,742.9 1318.8,719.6 1319.7,718.5 1320.2,726.8 1320.8,725.6 1321.5,740.7 1322.2,731.7 1321.5,718.7 1323,743.4 1323.5,741.6 1324.5,727.9 1323.9,722.3 1324.5,737.5 1325,738.4 1325.8,732.9 1326,731.7 1326.9,741.3 1327.3,735.9 1328.3,726.3 1327.9,736.1 1329,742.2 1328.6,724.8 1329.9,726.2 1329.7,734.6 1330.8,742.3 1331,744.1 1332.3,736.5 1331.7,733.6 1332.5,732.1 1333.3,737 1334,739.2 1335.1,739.8 1335.5,735.6 1335.9,737 1337.3,737.4 1338.4,741.4 1339.3,739.9 1340.3,735.9 1340.4,735.5 1340.7,734.6 1342.2,733.7 1341.8,734.8 1342.8,736.1 1342.6,739.4 1343.6,736.7 1344.9,723.1 1344.5,740.1 1346.2,734.4 1346.3,734 1347.4,726.6 1347.3,731.9 1346.7,719.5 1348,731.1 1348.2,735.6 1349.3,718.1 1348.9,732.9 1349.8,713.4 1350.2,718.7 1350.2,731.2 1350.9,726.8 1350.8,725.3 1350.5,706.3 1352.4,708.7 1352.5,739.3 1352.9,711.4 1352.7,734 1353.5,718.3 1354.2,711.3 1353.9,725.7 1353.8,712.1 1355,702.5 1355.1,731.6 1355.3,724.7 1356.4,738.8 1355.6,719.2 1355.6,709.2 1356,705.3 1357,713.6 1357.5,716.3 1356.7,715.1 1358.4,705.7 1358.4,700.8 1358.3,722.7 1359.3,703.6 1358.9,698.7 1359.4,735.8 1359.7,726.1 1360.4,728.7 1360.4,726.1 1360.6,720.5 1360.9,733.9 1360.8,705.3 1362.1,716.5 1362,726.9 1361.5,720.2 1362.6,701.9 1362.9,688.8 1362.6,731.5 1364.3,734 1363.9,707.2 1364.3,697.2 1365.4,711.2 1364.6,724.8 1364.7,710.2 1366.2,712.2 1366.1,723.5 1365.7,725.7 1366.7,710.7 1367.2,705.3 1367.2,687 1368.3,705.4 1368.3,693.2 1368.1,737 1369.4,707.1 1369.4,687.1 1369.5,702.4 1370.1,699.5 1370.1,726.7 1370.7,704.1 1371.5,702 1370.5,737.5 1372.2,718 1372.4,700.6 1371.9,696.4 1372.6,729.8 1372.6,733.5 1372.8,720.1 1373.5,698.4 1374.1,707 1373.7,696.3 1374.7,705.7 1375.5,704.4 1375.4,724.9 1375.8,704.8 1376.1,733.5 1376.4,733.1 1377.4,709.9 1377.1,710.6 1377.3,712.4 1377.9,708.4 1377.5,708.8 1377.5,701.7 1378.6,713.1 1378.8,735 1379.5,700.5 1379.7,700.4 1380.2,715.5 1380,722.5 1380.9,717.9 1381,731.2 1381.4,696 1382.5,699.8 1382,701.8 1382.2,708.4 1383.3,718.8 1382.5,695.9 1382.9,710.4 1384.2,713.5 1383.8,719.2 1384.2,720.4 1385,687 1385.4,687.3 1385.8,704 1385.5,685.8 1385.5,719.3 1387.3,715.7 1386.9,691.1 1386.6,719.2 1388.4,713.4 1388.1,685.5 1388.2,698.8 1389.3,685 1389.1,701 1389.7,693.5 1389.5,687.8 1390.5,685.2 1391.4,691.7 1391.4,702.8 1391.7,694.4 1391.6,701 1392.8,687.4 1393.3,684.5 1393.7,688.8 1393.6,696.2 1395,684 1394.9,700.1 1396.2,688 1396,691.3 1397.4,681 1397.2,685 1398.1,695.3 1397.7,682.6 1399.2,687.3 1398.6,701 1400.1,693.1 1400.6,701.4 1401.3,692.9 1401.7,700.8 1401.9,693.4 1402.7,704.7 1403.4,681.3 1403.7,683.6 1403.9,696.7 1404.7,688.4 1405.3,703.4 1406.1,691.3 1406.1,696.9 1407,689.3 1407.5,677 1407.9,685.7 1408.4,697.2 1409.3,692.1 1408.9,683.9 1410.3,699.3 1410.3,688.8 1410.5,688.2 1410.6,697 1412,705 1411.9,683.1 1413,703.7 1413.2,694.4 1414.4,680.8 1414.3,695.6 1415.3,702.6 1414.6,686.4 1416.4,700.6 1415.7,688.8 1417.4,686.1 1417,692.7 1417.7,683.7 1418.4,680.7 1419,703.1 1419.4,703.6 1420,684.4 1420.2,703.8 1421.5,680.3 1421.1,704 1421.8,692 1422.5,691.3 1423.5,700.3 1422.8,699.6 1424.4,682.9 1423.9,695.9 1424.8,680.7 1425.4,686.6 1426.2,688.1 1426.4,694 1426.7,701.8 1426.8,700.9 1427.5,685.6 1427.8,705.1 1429.3,695.8 1428.7,683.1 1429.6,696.8 1430.3,699.1 1431.3,687 1431.2,696.9 1432.4,687.1 1431.5,706.8 1433,693.4 1433.5,688.3 1434.1,699.2 1434.7,693.2 1434.5,688.9 1436.4,708 1436.5,698.2 1437.3,685.2 1437,707.8 1438.4,696.8 1437.8,706 1439.4,689.2 1439.2,686.2 1438.7,693.9 1439.6,685.1 1440.1,695.4 1441.5,705.5 1440.6,708.9 1440.6,699.5 1442.4,701.3 1442.5,690.8 1442,708.2 1443.4,697.1 1442.7,691.7 1444.1,671.3 1444.2,676.9 1444,689.8 1445.1,702.7 1445.2,689.8 1445.4,670.3 1445.8,673.4 1445.9,684 1447.4,669.7 1446.7,701.7 1446.6,675.8 1447.8,675 1448,684.8 1448.3,682.2 1448.7,703.1 1449.4,690.5 1449.8,663.3 1449.7,694.3 1449.7,700.2 1450.6,676.1 1451.3,673.2 1450.8,696.7 1451.7,695.9 1452.3,676 1453.2,696.6 1452.5,687.2 1453.3,683.7 1454.3,663.8 1453.8,688.7 1455.2,694.3 1455.3,665 1455.9,669.4 1456.1,680.3 1455.6,675.8 1457,662.4 1457.4,670.8 1458,682.7 1457.7,689.3 1459,667.3 1458.7,667 1459.6,688.5 1460,677.5 1461.1,682.6 1460.9,694.3 1461.1,689.2 1462.2,683.9 1461.9,672.5 1462.7,680.1 1463.1,688.6 1463.6,684.6 1464.5,674 1465.2,672.9 1465,677.3 1466.3,681.6 1466.1,681.6 1467.1,679.4 1467.2,684.2 1467.6,678.3 1467.6,692.8 1468.7,666.3 1468.6,693 1470.2,694.2 1469.5,684.7 1471,674.5 1471.4,676.3 1471.7,690 1472.2,690.3 1473,692.1 1473.5,684.7 1473.7,690.5 1473.6,688.7 1474.5,681.9 1475,690.1 1475.6,686.9 1475.5,669.9 1477.1,677.6 1477,675.2 1478.2,689 1478.1,688.9 1479.5,688.9 1479,668.4 1480.2,693.1 1479.8,690.6 1481.2,677.4 1480.6,680.8 1482.2,674.5 1481.6,682.2 1483,684.1 1482.8,668.2 1483.7,677.3 1483.9,671.9 1485.2,668.1 1484.7,670.2 1486.3,679.2 1486.4,676.8 1487,675.4 1486.8,669.1 1488.3,695.9 1488.3,690.3 1488.9,685.5 1489.2,694.9 1490.1,688.6 1489.6,696 1491.2,689.2 1490.5,683.3 1491.9,671.3 1491.7,683.3 1492.8,673.3 1492.6,689.5 1494.4,683.7 1493.9,692.3 1495.1,679.7 1494.6,671.6 1495.6,674.8 1495.7,692.7 1496.6,687.9 1497,693.7 1498,688.6 1498.1,671.8 1498.6,673.5 1498.7,680.6 1500.2,680.5 1500.2,690.4 1501.4,682.2 1500.8,685.8 1501.8,674.3 1502.7,678.2 1502.7,693 1504,672.1 1503.7,670.1 1505.2,675.1 1505,671.7 1505.7,671.2 1506.4,673.3 1507.5,692.4 1507.2,670.6 1508.4,688.2 1508.3,690.3 1509.2,675.5 1509.1,676.2 1509.9,672.9 1510,692.3 1511.1,682.5 1511.2,693.5 1512.2,690.4 1512.5,692.5 1512.7,684.2 1512.6,681.3 1514,679.3 1513.8,688.1 1513.8,673.7 1515,671.9 1515.1,664.8 1516.2,676.7 1515.8,685.9 1517.2,679.8 1517.4,672.4 1517.9,671.5 1517.9,667.2 1518.6,676.4 1519.3,688.4 1520.2,684.8 1520.2,680.8 1520.7,669.5 1521.2,671.5 1522,685 1522,663.7 1522.8,684.6 1522.6,671.1 1523.7,660.4 1524.2,660.2 1525.4,680 1524.8,684.4 1525.9,683.1 1526,677.8 1527.2,672 1527.5,686.3 1528.4,671.6 1528.5,684.1 1528.5,680.8 1528.8,679.6 1529.9,668.6 1530.1,659.7 1531.1,672.2 1531.3,663.6 1532.2,678.5 1532.5,663.4 1532.8,684.3 1532.9,666.5 1534.1,664 1535.5,672.1 1534.7,674.8 1535.4,679.9 1536.3,665.5 1536.3,666.8 1537.2,680.8 1537.3,670 1537.5,677.5 1538.4,664.2 1538.4,655.4 1539,646 1539.5,654.4 1539.3,664.8 1539.9,677 1540,680.9 1540.1,670.2 1541,679.9 1540.8,683.6 1540.8,655.9 1542.3,640.2 1541.8,647.7 1541.5,671.6 1542.6,670.2 1543.4,664.9 1543.2,648.4 1543.8,672.4 1544.4,678.1 1544.3,666.6 1544.2,679.7 1545.2,643.4 1545.1,665.1 1544.9,665.9 1545.7,662.8 1546.3,665.2 1546.3,655.3 1547.4,642.8 1547.4,636.6 1546.7,658 1548.4,630 1547.9,632 1547.9,644.5 1549.2,640.6 1548.9,655.3 1548.9,648.7 1550.1,640.9 1549.6,626.6 1551.3,647.4 1550.5,642.5 1551.1,632.7 1551.8,647.1 1552,632.4 1552.6,627.8 1553.5,642.3 1554.1,630.9 1553.9,636.8 1553.7,627.8 1555.1,657.7 1554.5,652.8 1556.3,652.4 1556.3,657.8 1557.4,630.8 1557.4,653.7 1558.1,657.4 1557.7,644.3 1557.7,631.2 1559.1,658.4 1559.2,634.2 1560.2,635.6 1560.5,647 1561.2,633.7 1561.3,657.2 1562,639 1561.8,650.1 1563.3,647.4 1563,643.6 1563.7,634.2 1563.6,657 1565.2,642.2 1565.4,655 1566.4,649.4 1566.5,658.3 1567.3,635.8 1566.5,643.1 1567.9,637.2 1569.4,647.9 1568.9,634.1 1569.9,653.1 1569.6,633.9 1571.4,657.3 1570.9,647.6 1572.1,645.7 1571.7,652.4 1573.5,645 1572.9,633.7 1573.8,634.6 1574,641.4 1575.4,638.1 1575.5,637.8 1575.5,644.9 1576.2,655.3 1576.8,651.4 1577.2,655.4 1577.6,647.6 1578.3,645 1578.8,625.6 1578.5,657.7 1578.5,633.6 1580,635.3 1580.2,644.7 1580.9,647.9 1581.4,637.8 1581.9,633.9 1582.2,631 1581.6,652.7 1583.4,650.1 1582.5,627.2 1584,632.9 1584,654.1 1585.3,644.8 1585.2,627.4 1585.1,636.4 1586.1,642.8 1586.3,635.7 1587,630.1 1587.2,646.6 1588.1,634.8 1588.4,635.8 1588,650.3 1588.8,629.3 1589.4,653.7 1590,640.7 1589.9,626.7 1591.1,659.5 1591,626.5 1590.8,624.6 1591.9,657.2 1591.8,650.4 1593.4,648.3 1593.1,629.7 1593.5,647 1593.6,642 1594.5,632.4 1595.2,639.9 1595.2,645.6 1596.5,633.6 1596.1,628 1595.6,644.3 1597,622.3 1597.3,646.7 1598,639.8 1598.1,646.9 1598.3,633.5 1599,655.8 1599.2,652.3 1599.7,646.3 1600.2,643.8 1600.8,653.7 1600.9,635.4 1600.7,653.6 1601.7,622 1601.7,622.2 1603,634.3 1602.8,648.7 1603.5,653.7 1603.7,655.2 1604,628.8 1604.8,640 1604.6,628.4 1606.2,646.2 1606,633.5 1606.6,652.7 1607.4,645.7 1607.1,642.3 1608.3,621.9 1607.6,653.3 1609.4,646 1609.1,655.4 1609.8,652.2 1610.4,626.3 1610.8,632.7 1610.8,653 1610.7,648.8 1611.9,636.6 1612,644.7 1613.3,652.7 1613.3,639.5 1614.4,646.6 1614.2,644.9 1615.2,643.5 1615.1,626.5 1616.2,636.4 1615.5,634 1616,647.1 1617.4,639.3 1616.7,628.7 1617.8,648.3 1617.9,643 1618.6,621.4 1619.4,653.1 1620.4,631.9 1620.3,646.2 1620.7,627.3 1620.7,647.2 1621.6,650 1622.3,643.6 1622.3,642.8 1622.6,623.5 1622.8,631.4 1623.8,625.4 1624.3,638.9 1625,640.7 1624.6,630.8 1625.8,639.1 1626,624.7 1626.7,647.7 1627.1,652.7 1628,626.2 1628.2,648.6 1627.5,625.5 1629.4,650 1629.3,651.8 1630.4,628.1 1629.9,640.2 1631.1,623.6 1631.2,638.4 1631.3,638.6 1632.2,642.2 1631.8,623 1632.9,628.4 1632.6,646.7 1633.7,651.7 1633.7,623.4 1634.1,631.5 1635.3,625.8 1634.8,633.2 1635.6,618.4 1635.9,616 1636.3,652.4 1637,620.6 1637.2,617.2 1638.3,622.6 1638.4,616.9 1638.3,614.5 1639.1,626.4 1638.6,633.1 1640.4,612 1640.2,632.9 1639.6,629 1640.6,649.2 1640.6,612.2 1640.6,618.1 1642,625.8 1641.6,646.3 1643.3,640.8 1642.7,620.2 1643.1,628.7 1644.1,620.3 1644.2,621.7 1645.4,635.2 1644.6,645.2 1644.9,611.9 1646.2,609.5 1646.1,612.3 1647.5,638.8 1646.7,626.8 1647.5,615.3 1647.9,609.8 1647.8,641.2 1649.2,629.4 1648.6,611.3 1650.2,610.2 1650.2,622.7 1651.3,633.4 1650.5,617.8 1652.2,623.9 1651.6,620.2 1652.2,631.4 1652.5,621.1 1652.6,635.3 1653.9,616.4 1654,626.1 1654.8,640.5 1655.3,633.5 1656.2,623.8 1656.4,635.1 1656.6,612.2 1657.1,635.1 1656.6,617 1658,627.2 1657.6,641.8 1659.2,621.1 1658.8,642.5 1660.2,634.5 1659.6,639.6 1660.2,638.3 1660.6,622.2 1660.6,620.7 1662,612.7 1662.1,618.1 1663,608.5 1662.8,620.9 1663,638.9 1664.2,609.6 1664.5,608.8 1665.1,615 1664.8,634.3 1666.4,638.6 1666.1,616.8 1666.4,605.4 1667.4,624.6 1667.1,619.2 1667.9,629.7 1667.7,607.6 1668.4,606.5 1669.4,629.1 1668.8,618.4 1668.9,615.9 1669.5,608.6 1669.6,640.4 1671.4,601.9 1671.3,604.3 1671.3,629.3 1671.5,638.5 1671.7,630.4 1673,614.7 1673.2,617.4 1673.1,633.9 1673.8,617.4 1673.7,617.6 1673.7,602.6 1674.9,613.9 1675,608.9 1675.7,626.3 1675.8,599.8 1675.9,602.3 1677.3,608.8 1676.5,622.9 1677.1,620.3 1678.2,627.7 1677.7,616.8 1678.2,621.5 1678.7,594.6 1679.1,603.4 1680,605.8 1679.9,615.4 1680.3,612.9 1681.2,596.1 1681.4,594.9 1681.7,593.9 1682,620.6 1681.9,589 1682.5,615.8 1683.3,598.8 1683.7,601.8 1684,617.2 1683.8,617.3 1685,620.6 1685.1,592.9 1686.3,598.6 1686,597.8 1687.3,588 1687.3,610.7 1688.4,599.2 1688.1,600.8 1687.6,588.8 1689,603.5 1689.1,596.1 1690.4,602.8 1690.5,612.1 1691.5,606.7 1690.5,612 1692,612.9 1692.1,608.7 1691.6,607.4 1692.6,590.5 1692.8,600.9 1694.1,607.3 1694.3,592.4 1694.7,613.4 1695.4,598.1 1695.6,608 1696.2,590.7 1696.8,606.2 1696.6,601.3 1696.7,611.4 1697.6,601.7 1698.3,610.1 1699.4,621.5 1699.4,587.1 1699.5,599.8 1700.4,614 1701,612 1701.1,605.5 1701.4,593.8 1702.5,590.4 1702,592.2 1703.1,589.6 1703,618.5 1704.1,600.4 1703.5,590.1 1704.7,593.5 1704.9,599.4 1704.9,599 1705.8,619.1 1706.2,610.6 1707.1,609.8 1707,616.3 1707.3,613.5 1707.6,610.9 1707.7,602.6 1708.7,595.4 1708.5,609.9 1709.5,598.2 1709.9,593.3 1710.3,595.9 1709.9,584.6 1711,581.5 1710.9,606.5 1712.3,582.6 1711.5,596.4 1712.8,582 1713.4,592.9 1712.9,588.9 1714,576.6 1713.5,582.4 1714.9,605 1715.4,583.6 1716.4,596.1 1716.1,602.9 1717.5,608.5 1717.3,590.3 1717.3,582.4 1717.6,587.8 1717.7,580.6 1719,582.8 1718.6,593.3 1720,606.9 1720.1,596.9 1721.1,581.2 1720.5,601.5 1721.4,583.5 1721.7,600.2 1721.5,589.2 1723.3,585 1723.2,587.1 1723.9,597.4 1724.1,593.3 1725,592.3 1725,602.8 1726.2,596.2 1726,583.6 1726.8,580.3 1727,576.8 1728.2,584.5 1728.1,586.9 1729.4,600.4 1730.1,594.1 1729.8,580.2 1731.1,599.6 1731.4,577.8 1731.6,577.3 1732.3,592.1 1733,598.2 1732.5,597.1 1733,583.2 1733,582.1 1733,581.9 1733,592 1733,586.9 1733,584.9 1733,582.1 1733,591 1733,588.4 1733,590 1733,587 1733,588.3 1733,585.8 1733,589.6"/><path d="M479.3 847L1733.5 453.5" stroke="#FF0000" stroke-width="7" stroke-linecap="round" fill="none"/><path d="M479.3 1185.3L1733.5 716.2" stroke="#800080" stroke-width="7" stroke-linecap="round" fill="none"/><path d="M479.3 823.3L1733.5 417.7" stroke="#0000FF" stroke-width="7" stroke-linecap="round" fill="none"/><path d="M479.3 1093.5L1733.5 576.9" stroke="#00FF00" stroke-width="7" stroke-linecap="round" fill="none"/><rect x="226.5" y="46.5" width="1667" height="1225.5" fill="none" stroke="#000" stroke-width="3.4"/><text x="175" y="1288.3" font-size="55" fill="#595959" text-anchor="end" textLength="55.77" lengthAdjust="spacingAndGlyphs">44</text><text x="175" y="1084" font-size="55" fill="#595959" text-anchor="end" textLength="55.77" lengthAdjust="spacingAndGlyphs">45</text><text x="175" y="879.8" font-size="55" fill="#595959" text-anchor="end" textLength="55.77" lengthAdjust="spacingAndGlyphs">46</text><text x="175" y="675.5" font-size="55" fill="#595959" text-anchor="end" textLength="55.77" lengthAdjust="spacingAndGlyphs">47</text><text x="175" y="471.3" font-size="55" fill="#595959" text-anchor="end" textLength="55.77" lengthAdjust="spacingAndGlyphs">48</text><text x="175" y="267.1" font-size="55" fill="#595959" text-anchor="end" textLength="55.77" lengthAdjust="spacingAndGlyphs">49</text><text x="175" y="62.8" font-size="55" fill="#595959" text-anchor="end" textLength="55.77" lengthAdjust="spacingAndGlyphs">50</text><text x="226.5" y="1361" font-size="55" fill="#333333" text-anchor="middle" textLength="27.89" lengthAdjust="spacingAndGlyphs">7</text><text x="504.3" y="1361" font-size="55" fill="#333333" text-anchor="middle" textLength="69.64" lengthAdjust="spacingAndGlyphs">7.5</text><text x="782.2" y="1361" font-size="55" fill="#333333" text-anchor="middle" textLength="27.89" lengthAdjust="spacingAndGlyphs">8</text><text x="1060" y="1361" font-size="55" fill="#333333" text-anchor="middle" textLength="69.64" lengthAdjust="spacingAndGlyphs">8.5</text><text x="1337.8" y="1361" font-size="55" fill="#333333" text-anchor="middle" textLength="27.89" lengthAdjust="spacingAndGlyphs">9</text><text x="1615.7" y="1361" font-size="55" fill="#333333" text-anchor="middle" textLength="69.64" lengthAdjust="spacingAndGlyphs">9.5</text><text x="1893.5" y="1361" font-size="55" fill="#333333" text-anchor="middle" textLength="55.77" lengthAdjust="spacingAndGlyphs">10</text><text transform="translate(78 294.4) rotate(-90)" font-size="70" font-weight="bold" fill="#000" text-anchor="middle" textLength="494.31" lengthAdjust="spacingAndGlyphs">Temperature [°C]</text><text x="1869.4" y="1231.8" font-size="70" font-weight="bold" fill="#000" text-anchor="end" textLength="254.81" lengthAdjust="spacingAndGlyphs">Ln(Time)</text><rect x="254.3" y="131.5" width="173.1" height="357.5" fill="#fff" stroke="#000" stroke-width="2.6"/><path d="M286.7 167.5h17.4v17.4h-17.4z" stroke="#D0702C" stroke-width="1.8" fill="none"/><path d="M286.6 257.2l17.6 17.6M304.2 257.2l-17.6 17.6M295.4 256.7v18.6" stroke="#929292" stroke-width="1.8" fill="none"/><path d="M295.5 346.6l8.6 8.6l-8.6 8.6l-8.6 -8.6z" stroke="#3F67B0" stroke-width="1.8" fill="none"/><path d="M286.6 436.2l17.6 17.6M304.2 436.2l-17.6 17.6" stroke="#639B3E" stroke-width="1.8" fill="none"/><text x="325.5" y="193.1" font-size="55" fill="#595959" textLength="83.27" lengthAdjust="spacingAndGlyphs">TK2</text><text x="325.5" y="282.7" font-size="55" fill="#595959" textLength="83.27" lengthAdjust="spacingAndGlyphs">TK3</text><text x="325.5" y="372.3" font-size="55" fill="#595959" textLength="83.27" lengthAdjust="spacingAndGlyphs">TK5</text><text x="325.5" y="461.9" font-size="55" fill="#595959" textLength="83.27" lengthAdjust="spacingAndGlyphs">TK6</text><rect x="730" y="293" width="427" height="132" fill="#fff"/><text x="943.6" y="346.5" font-size="49.4" fill="#000080" text-anchor="middle" textLength="412.88" lengthAdjust="spacingAndGlyphs">y = 0.8799x + 39.637</text><text x="943.6" y="406.5" font-size="49.4" fill="#000080" text-anchor="middle" textLength="227.98" lengthAdjust="spacingAndGlyphs">R² = 0.9669</text><rect x="1243" y="275.3" width="428" height="132" fill="#fff"/><text x="1457" y="327.6" font-size="49.4" fill="#FF0000" text-anchor="middle" textLength="412.88" lengthAdjust="spacingAndGlyphs">y = 0.8536x + 39.717</text><text x="1457" y="387.6" font-size="49.4" fill="#FF0000" text-anchor="middle" textLength="177.92" lengthAdjust="spacingAndGlyphs">R² = 0.94</text><rect x="432" y="521" width="402" height="132" fill="#fff"/><text x="633.3" y="574.2" font-size="49.4" fill="#008000" text-anchor="middle" textLength="387.84" lengthAdjust="spacingAndGlyphs">y = 1.1206x + 36.52</text><text x="633.3" y="634.2" font-size="49.4" fill="#008000" text-anchor="middle" textLength="227.98" lengthAdjust="spacingAndGlyphs">R² = 0.9765</text><rect x="1320" y="933" width="429" height="132" fill="#fff"/><text x="1534.5" y="986.5" font-size="49.4" fill="#993366" text-anchor="middle" textLength="412.88" lengthAdjust="spacingAndGlyphs">y = 1.0175x + 36.839</text><text x="1534.5" y="1046.5" font-size="49.4" fill="#993366" text-anchor="middle" textLength="227.98" lengthAdjust="spacingAndGlyphs">R² = 0.9532</text></svg></body></html>
